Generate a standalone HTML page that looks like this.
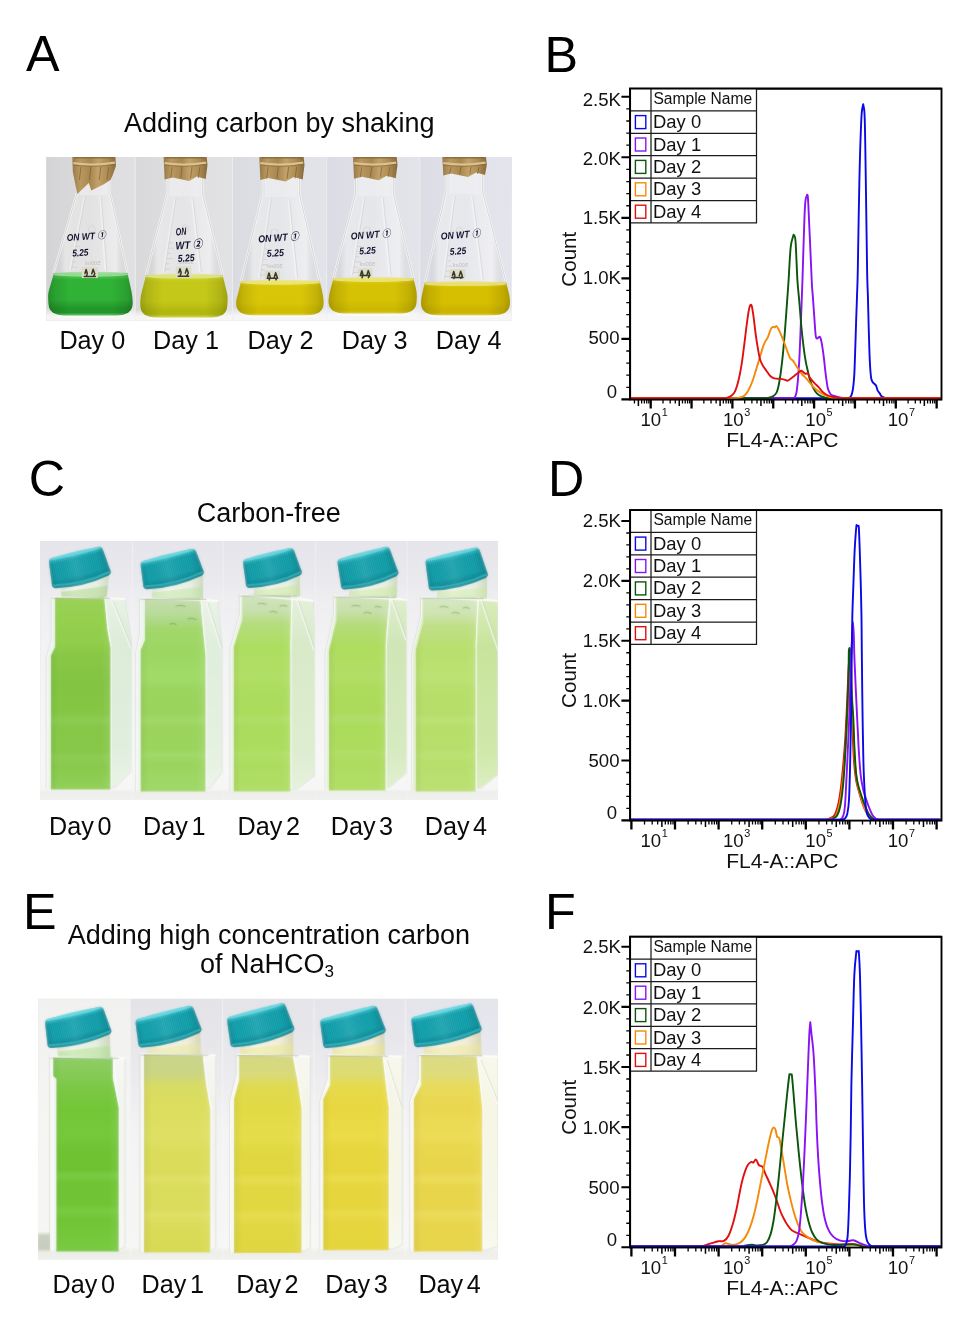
<!DOCTYPE html>
<html lang="en">
<head>
<meta charset="utf-8">
<title>Figure: carbon supply, culture colour and APC fluorescence histograms</title>
<style>
html,body{margin:0;padding:0;background:#fff;}
body{width:980px;height:1338px;overflow:hidden;font-family:"Liberation Sans", "Noto Sans CJK SC", sans-serif;}
svg{display:block;font-family:"Liberation Sans", "Noto Sans CJK SC", sans-serif;}
</style>
</head>
<body>
<svg width="980" height="1338" viewBox="0 0 980 1338">
<defs>
<filter id="nofxall" filterUnits="userSpaceOnUse" x="0" y="0" width="980" height="1338"><feOffset dx="0" dy="0"/></filter>
<filter id="nofx" x="-10%" y="-10%" width="120%" height="120%"><feOffset dx="0" dy="0"/></filter>
<filter id="soft" filterUnits="userSpaceOnUse" x="30" y="150" width="490" height="1120"><feGaussianBlur stdDeviation="0.8"/></filter>
<clipPath id="photoAclip"><rect x="46.2" y="157" width="465.6" height="163.7"/></clipPath>
<linearGradient id="photoAug" x1="0" y1="157" x2="0" y2="320.7" gradientUnits="userSpaceOnUse"><stop offset="0" stop-color="#dcdcdf"/><stop offset="1" stop-color="#f4f4f3"/></linearGradient>
<linearGradient id="a0bg" x1="46.2" y1="0" x2="135.3" y2="0" gradientUnits="userSpaceOnUse"><stop offset="0" stop-color="#d4d4d6"/><stop offset="0.55" stop-color="#dcdcde"/><stop offset="1" stop-color="#e0e0e2"/></linearGradient>
<linearGradient id="a0tb" x1="0" y1="307.5" x2="0" y2="320.7" gradientUnits="userSpaceOnUse"><stop offset="0" stop-color="#f8f8f7" stop-opacity="0"/><stop offset="0.6" stop-color="#f8f8f7" stop-opacity="0.9"/><stop offset="1" stop-color="#f6f6f5" stop-opacity="1"/></linearGradient>
<clipPath id="a0c"><path d="M77 157 L77 193 L48.9 290.5 C47.43 295.5 48.3 300.5 48.6 304.5 C49.1 311.5 54.3 315.5 65.3 315.5 L115.9 315.5 C126.9 315.5 132.1 311.5 132.6 304.5 C132.9 300.5 132.39 295.5 131.3 290.5 L110 193 L110 157 Z"/></clipPath>
<linearGradient id="a0gl" x1="48.3" y1="0" x2="132.9" y2="0" gradientUnits="userSpaceOnUse"><stop offset="0" stop-color="#ffffff" stop-opacity="0.1"/><stop offset="0.12" stop-color="#c8c8c8" stop-opacity="0.28"/><stop offset="0.2" stop-color="#f6f6f6" stop-opacity="0.45"/><stop offset="0.5" stop-color="#f2f2f2" stop-opacity="0.3"/><stop offset="0.8" stop-color="#fafafa" stop-opacity="0.5"/><stop offset="0.9" stop-color="#c8c8c8" stop-opacity="0.22"/><stop offset="1" stop-color="#ffffff" stop-opacity="0.15"/></linearGradient>
<linearGradient id="a0lq" x1="0" y1="273.1" x2="0" y2="315.5" gradientUnits="userSpaceOnUse"><stop offset="0" stop-color="#66cf62"/><stop offset="0.16" stop-color="#2fb236"/><stop offset="0.62" stop-color="#2fb236"/><stop offset="0.84" stop-color="#22962a"/><stop offset="0.93" stop-color="#22962a"/><stop offset="1" stop-color="#63c568"/></linearGradient>
<linearGradient id="a0sh" x1="48.3" y1="0" x2="132.9" y2="0" gradientUnits="userSpaceOnUse"><stop offset="0" stop-color="#000000" stop-opacity="0.2"/><stop offset="0.08" stop-color="#000000" stop-opacity="0.1"/><stop offset="0.25" stop-color="#000000" stop-opacity="0"/><stop offset="0.75" stop-color="#000000" stop-opacity="0"/><stop offset="0.92" stop-color="#000000" stop-opacity="0.1"/><stop offset="1" stop-color="#000000" stop-opacity="0.2"/></linearGradient>
<linearGradient id="a0pp" x1="72.3" y1="0" x2="115.4" y2="0" gradientUnits="userSpaceOnUse"><stop offset="0" stop-color="#987a48"/><stop offset="0.18" stop-color="#ba9860"/><stop offset="0.42" stop-color="#a88850"/><stop offset="0.6" stop-color="#c2a26a"/><stop offset="0.82" stop-color="#ae8c54"/><stop offset="1" stop-color="#8a6c3e"/></linearGradient>
<linearGradient id="a1bg" x1="135.3" y1="0" x2="232.5" y2="0" gradientUnits="userSpaceOnUse"><stop offset="0" stop-color="#d9d9db"/><stop offset="0.55" stop-color="#dfdfe2"/><stop offset="1" stop-color="#e2e2e5"/></linearGradient>
<linearGradient id="a1tb" x1="0" y1="309.4" x2="0" y2="320.7" gradientUnits="userSpaceOnUse"><stop offset="0" stop-color="#f8f8f7" stop-opacity="0"/><stop offset="0.6" stop-color="#f8f8f7" stop-opacity="0.9"/><stop offset="1" stop-color="#f6f6f5" stop-opacity="1"/></linearGradient>
<clipPath id="a1c"><path d="M167 157 L167 194.4 L141.59 292.4 C140.29 297.4 140.1 302.4 140.4 306.4 C140.9 313.4 146.1 317.4 157.1 317.4 L210.5 317.4 C221.5 317.4 226.7 313.4 227.2 306.4 C227.5 302.4 228.15 297.4 226.9 292.4 L202.6 194.4 L202.6 157 Z"/></clipPath>
<linearGradient id="a1gl" x1="140.1" y1="0" x2="227.5" y2="0" gradientUnits="userSpaceOnUse"><stop offset="0" stop-color="#ffffff" stop-opacity="0.1"/><stop offset="0.12" stop-color="#c8c8c8" stop-opacity="0.28"/><stop offset="0.2" stop-color="#f6f6f6" stop-opacity="0.45"/><stop offset="0.5" stop-color="#f2f2f2" stop-opacity="0.3"/><stop offset="0.8" stop-color="#fafafa" stop-opacity="0.5"/><stop offset="0.9" stop-color="#c8c8c8" stop-opacity="0.22"/><stop offset="1" stop-color="#ffffff" stop-opacity="0.15"/></linearGradient>
<linearGradient id="a1lq" x1="0" y1="275" x2="0" y2="317.4" gradientUnits="userSpaceOnUse"><stop offset="0" stop-color="#d4d840"/><stop offset="0.16" stop-color="#c4c818"/><stop offset="0.62" stop-color="#c4c818"/><stop offset="0.84" stop-color="#b2b80e"/><stop offset="0.93" stop-color="#b2b80e"/><stop offset="1" stop-color="#d3d652"/></linearGradient>
<linearGradient id="a1sh" x1="140.1" y1="0" x2="227.5" y2="0" gradientUnits="userSpaceOnUse"><stop offset="0" stop-color="#000000" stop-opacity="0.2"/><stop offset="0.08" stop-color="#000000" stop-opacity="0.1"/><stop offset="0.25" stop-color="#000000" stop-opacity="0"/><stop offset="0.75" stop-color="#000000" stop-opacity="0"/><stop offset="0.92" stop-color="#000000" stop-opacity="0.1"/><stop offset="1" stop-color="#000000" stop-opacity="0.2"/></linearGradient>
<linearGradient id="a1pp" x1="163.6" y1="0" x2="206.7" y2="0" gradientUnits="userSpaceOnUse"><stop offset="0" stop-color="#987a48"/><stop offset="0.18" stop-color="#ba9860"/><stop offset="0.42" stop-color="#a88850"/><stop offset="0.6" stop-color="#c2a26a"/><stop offset="0.82" stop-color="#ae8c54"/><stop offset="1" stop-color="#8a6c3e"/></linearGradient>
<linearGradient id="a2bg" x1="232.5" y1="0" x2="326.7" y2="0" gradientUnits="userSpaceOnUse"><stop offset="0" stop-color="#dadbe0"/><stop offset="0.55" stop-color="#e0e1e6"/><stop offset="1" stop-color="#e3e4e9"/></linearGradient>
<linearGradient id="a2tb" x1="0" y1="307.2" x2="0" y2="320.7" gradientUnits="userSpaceOnUse"><stop offset="0" stop-color="#f8f8f7" stop-opacity="0"/><stop offset="0.6" stop-color="#f8f8f7" stop-opacity="0.9"/><stop offset="1" stop-color="#f6f6f5" stop-opacity="1"/></linearGradient>
<clipPath id="a2c"><path d="M262 157 L262 195 L238.89 290.2 C237.68 295.2 235.8 300.2 236.1 304.2 C236.6 311.2 241.8 315.2 252.8 315.2 L306.8 315.2 C317.8 315.2 323 311.2 323.5 304.2 C323.8 300.2 323.11 295.2 321.93 290.2 L299.6 195 L299.6 157 Z"/></clipPath>
<linearGradient id="a2gl" x1="235.8" y1="0" x2="323.8" y2="0" gradientUnits="userSpaceOnUse"><stop offset="0" stop-color="#ffffff" stop-opacity="0.1"/><stop offset="0.12" stop-color="#c8c8c8" stop-opacity="0.28"/><stop offset="0.2" stop-color="#f6f6f6" stop-opacity="0.45"/><stop offset="0.5" stop-color="#f2f2f2" stop-opacity="0.3"/><stop offset="0.8" stop-color="#fafafa" stop-opacity="0.5"/><stop offset="0.9" stop-color="#c8c8c8" stop-opacity="0.22"/><stop offset="1" stop-color="#ffffff" stop-opacity="0.15"/></linearGradient>
<linearGradient id="a2lq" x1="0" y1="281.1" x2="0" y2="315.2" gradientUnits="userSpaceOnUse"><stop offset="0" stop-color="#e6da34"/><stop offset="0.16" stop-color="#d9c608"/><stop offset="0.62" stop-color="#d9c608"/><stop offset="0.84" stop-color="#d0bc00"/><stop offset="0.93" stop-color="#d0bc00"/><stop offset="1" stop-color="#e2d446"/></linearGradient>
<linearGradient id="a2sh" x1="235.8" y1="0" x2="323.8" y2="0" gradientUnits="userSpaceOnUse"><stop offset="0" stop-color="#000000" stop-opacity="0.2"/><stop offset="0.08" stop-color="#000000" stop-opacity="0.1"/><stop offset="0.25" stop-color="#000000" stop-opacity="0"/><stop offset="0.75" stop-color="#000000" stop-opacity="0"/><stop offset="0.92" stop-color="#000000" stop-opacity="0.1"/><stop offset="1" stop-color="#000000" stop-opacity="0.2"/></linearGradient>
<linearGradient id="a2pp" x1="259.3" y1="0" x2="303.7" y2="0" gradientUnits="userSpaceOnUse"><stop offset="0" stop-color="#987a48"/><stop offset="0.18" stop-color="#ba9860"/><stop offset="0.42" stop-color="#a88850"/><stop offset="0.6" stop-color="#c2a26a"/><stop offset="0.82" stop-color="#ae8c54"/><stop offset="1" stop-color="#8a6c3e"/></linearGradient>
<linearGradient id="a3bg" x1="326.7" y1="0" x2="419.8" y2="0" gradientUnits="userSpaceOnUse"><stop offset="0" stop-color="#dbdce3"/><stop offset="0.55" stop-color="#e1e2e8"/><stop offset="1" stop-color="#e3e4ea"/></linearGradient>
<linearGradient id="a3tb" x1="0" y1="305.6" x2="0" y2="320.7" gradientUnits="userSpaceOnUse"><stop offset="0" stop-color="#f8f8f7" stop-opacity="0"/><stop offset="0.6" stop-color="#f8f8f7" stop-opacity="0.9"/><stop offset="1" stop-color="#f6f6f5" stop-opacity="1"/></linearGradient>
<clipPath id="a3c"><path d="M355.6 157 L355.6 194 L330.72 288.6 C329.4 293.6 328.3 298.6 328.6 302.6 C329.1 309.6 334.3 313.6 345.3 313.6 L399.8 313.6 C410.8 313.6 416 309.6 416.5 302.6 C416.8 298.6 417.14 293.6 415.94 288.6 L393.3 194 L393.3 157 Z"/></clipPath>
<linearGradient id="a3gl" x1="328.3" y1="0" x2="416.8" y2="0" gradientUnits="userSpaceOnUse"><stop offset="0" stop-color="#ffffff" stop-opacity="0.1"/><stop offset="0.12" stop-color="#c8c8c8" stop-opacity="0.28"/><stop offset="0.2" stop-color="#f6f6f6" stop-opacity="0.45"/><stop offset="0.5" stop-color="#f2f2f2" stop-opacity="0.3"/><stop offset="0.8" stop-color="#fafafa" stop-opacity="0.5"/><stop offset="0.9" stop-color="#c8c8c8" stop-opacity="0.22"/><stop offset="1" stop-color="#ffffff" stop-opacity="0.15"/></linearGradient>
<linearGradient id="a3lq" x1="0" y1="278.4" x2="0" y2="313.6" gradientUnits="userSpaceOnUse"><stop offset="0" stop-color="#e4d830"/><stop offset="0.16" stop-color="#d6c204"/><stop offset="0.62" stop-color="#d6c204"/><stop offset="0.84" stop-color="#ccb800"/><stop offset="0.93" stop-color="#ccb800"/><stop offset="1" stop-color="#e0d143"/></linearGradient>
<linearGradient id="a3sh" x1="328.3" y1="0" x2="416.8" y2="0" gradientUnits="userSpaceOnUse"><stop offset="0" stop-color="#000000" stop-opacity="0.2"/><stop offset="0.08" stop-color="#000000" stop-opacity="0.1"/><stop offset="0.25" stop-color="#000000" stop-opacity="0"/><stop offset="0.75" stop-color="#000000" stop-opacity="0"/><stop offset="0.92" stop-color="#000000" stop-opacity="0.1"/><stop offset="1" stop-color="#000000" stop-opacity="0.2"/></linearGradient>
<linearGradient id="a3pp" x1="353" y1="0" x2="396.7" y2="0" gradientUnits="userSpaceOnUse"><stop offset="0" stop-color="#987a48"/><stop offset="0.18" stop-color="#ba9860"/><stop offset="0.42" stop-color="#a88850"/><stop offset="0.6" stop-color="#c2a26a"/><stop offset="0.82" stop-color="#ae8c54"/><stop offset="1" stop-color="#8a6c3e"/></linearGradient>
<linearGradient id="a4bg" x1="419.8" y1="0" x2="511.8" y2="0" gradientUnits="userSpaceOnUse"><stop offset="0" stop-color="#dcdde4"/><stop offset="0.55" stop-color="#e2e3ea"/><stop offset="1" stop-color="#e4e5ec"/></linearGradient>
<linearGradient id="a4tb" x1="0" y1="307.2" x2="0" y2="320.7" gradientUnits="userSpaceOnUse"><stop offset="0" stop-color="#f8f8f7" stop-opacity="0"/><stop offset="0.6" stop-color="#f8f8f7" stop-opacity="0.9"/><stop offset="1" stop-color="#f6f6f5" stop-opacity="1"/></linearGradient>
<clipPath id="a4c"><path d="M446 157 L446 192 L423 290.2 C421.82 295.2 420.8 300.2 421.1 304.2 C421.6 311.2 426.8 315.2 437.8 315.2 L493.2 315.2 C504.2 315.2 509.4 311.2 509.9 304.2 C510.2 300.2 509.51 295.2 508.21 290.2 L482.6 192 L482.6 157 Z"/></clipPath>
<linearGradient id="a4gl" x1="420.8" y1="0" x2="510.2" y2="0" gradientUnits="userSpaceOnUse"><stop offset="0" stop-color="#ffffff" stop-opacity="0.1"/><stop offset="0.12" stop-color="#c8c8c8" stop-opacity="0.28"/><stop offset="0.2" stop-color="#f6f6f6" stop-opacity="0.45"/><stop offset="0.5" stop-color="#f2f2f2" stop-opacity="0.3"/><stop offset="0.8" stop-color="#fafafa" stop-opacity="0.5"/><stop offset="0.9" stop-color="#c8c8c8" stop-opacity="0.22"/><stop offset="1" stop-color="#ffffff" stop-opacity="0.15"/></linearGradient>
<linearGradient id="a4lq" x1="0" y1="282.5" x2="0" y2="315.2" gradientUnits="userSpaceOnUse"><stop offset="0" stop-color="#e2d42a"/><stop offset="0.16" stop-color="#d6be00"/><stop offset="0.62" stop-color="#d6be00"/><stop offset="0.84" stop-color="#ccb400"/><stop offset="0.93" stop-color="#ccb400"/><stop offset="1" stop-color="#e0ce40"/></linearGradient>
<linearGradient id="a4sh" x1="420.8" y1="0" x2="510.2" y2="0" gradientUnits="userSpaceOnUse"><stop offset="0" stop-color="#000000" stop-opacity="0.2"/><stop offset="0.08" stop-color="#000000" stop-opacity="0.1"/><stop offset="0.25" stop-color="#000000" stop-opacity="0"/><stop offset="0.75" stop-color="#000000" stop-opacity="0"/><stop offset="0.92" stop-color="#000000" stop-opacity="0.1"/><stop offset="1" stop-color="#000000" stop-opacity="0.2"/></linearGradient>
<linearGradient id="a4pp" x1="442.3" y1="0" x2="486" y2="0" gradientUnits="userSpaceOnUse"><stop offset="0" stop-color="#987a48"/><stop offset="0.18" stop-color="#ba9860"/><stop offset="0.42" stop-color="#a88850"/><stop offset="0.6" stop-color="#c2a26a"/><stop offset="0.82" stop-color="#ae8c54"/><stop offset="1" stop-color="#8a6c3e"/></linearGradient>
<clipPath id="photoCclip"><rect x="40.5" y="541" width="457.5" height="258.6"/></clipPath>
<linearGradient id="photoCug" x1="0" y1="541" x2="0" y2="799.6" gradientUnits="userSpaceOnUse"><stop offset="0" stop-color="#e5e5eb"/><stop offset="1" stop-color="#f0f1ee"/></linearGradient>
<linearGradient id="c0bg" x1="0" y1="541" x2="0" y2="799.6" gradientUnits="userSpaceOnUse"><stop offset="0" stop-color="#e5e5eb"/><stop offset="0.12" stop-color="#e8e8ed"/><stop offset="0.24" stop-color="#efeff2"/><stop offset="0.45" stop-color="#f4f4f6"/><stop offset="0.9" stop-color="#f8f8f8"/><stop offset="0.96" stop-color="#f6f6f5"/><stop offset="0.97" stop-color="#eeefec"/><stop offset="1" stop-color="#f0f1ee"/></linearGradient>
<clipPath id="c0p"><rect x="40.5" y="541" width="92" height="258.6"/></clipPath>
<linearGradient id="c0rg" x1="0" y1="597" x2="0" y2="789.5" gradientUnits="userSpaceOnUse"><stop offset="0" stop-color="#e8f3e6"/><stop offset="0.25" stop-color="#dcecd8"/><stop offset="0.8" stop-color="#e1efde"/><stop offset="1" stop-color="#eaf4e8"/></linearGradient>
<linearGradient id="c0nk" x1="59.65" y1="0" x2="109.65" y2="0" gradientUnits="userSpaceOnUse"><stop offset="0" stop-color="#dce8d6"/><stop offset="0.3" stop-color="#f2f6ee"/><stop offset="0.75" stop-color="#e8f0e2"/><stop offset="1" stop-color="#ccdac4"/></linearGradient>
<linearGradient id="c0lq" x1="0" y1="597" x2="0" y2="789.5" gradientUnits="userSpaceOnUse"><stop offset="0" stop-color="#9bd159"/><stop offset="0.1" stop-color="#96d04f"/><stop offset="0.24" stop-color="#90ce4c"/><stop offset="0.3" stop-color="#89c846"/><stop offset="0.45" stop-color="#83c442"/><stop offset="0.6" stop-color="#85c644"/><stop offset="0.64" stop-color="#8dcc53"/><stop offset="0.68" stop-color="#87c748"/><stop offset="0.8" stop-color="#88c849"/><stop offset="0.83" stop-color="#8ecc54"/><stop offset="0.88" stop-color="#89c94b"/><stop offset="1" stop-color="#92d05a"/></linearGradient>
<linearGradient id="c0sh" x1="50.9" y1="0" x2="110.5" y2="0" gradientUnits="userSpaceOnUse"><stop offset="0" stop-color="#000000" stop-opacity="0.05"/><stop offset="0.12" stop-color="#000000" stop-opacity="0"/><stop offset="0.85" stop-color="#ffffff" stop-opacity="0"/><stop offset="1" stop-color="#ffffff" stop-opacity="0.08"/></linearGradient>
<linearGradient id="c0cp" x1="0" y1="-13.38" x2="0" y2="13.38" gradientUnits="userSpaceOnUse"><stop offset="0" stop-color="#48ccd6"/><stop offset="0.18" stop-color="#18a8b3"/><stop offset="0.78" stop-color="#18a8b3"/><stop offset="1" stop-color="#0e8e99"/></linearGradient>
<linearGradient id="c0ch" x1="-28.08" y1="0" x2="28.08" y2="0" gradientUnits="userSpaceOnUse"><stop offset="0" stop-color="#0a5a64" stop-opacity="0.22"/><stop offset="0.1" stop-color="#0a5a64" stop-opacity="0.03"/><stop offset="0.45" stop-color="#ffffff" stop-opacity="0.08"/><stop offset="0.85" stop-color="#0a5a64" stop-opacity="0.03"/><stop offset="1" stop-color="#0a5a64" stop-opacity="0.26"/></linearGradient>
<clipPath id="c0cc"><path d="M-27.66 -11.81 Q-27.16 -14.81 -23.66 -15.11 L23.66 -15.11 Q27.16 -14.81 27.66 -11.81 L30.14 10.81 Q30.74 14.21 27.14 15.41 Q0 21.21 -27.14 15.41 Q-30.74 14.21 -30.14 10.81 Z"/></clipPath>
<linearGradient id="c1bg" x1="0" y1="541" x2="0" y2="799.6" gradientUnits="userSpaceOnUse"><stop offset="0" stop-color="#e5e5eb"/><stop offset="0.12" stop-color="#e8e8ed"/><stop offset="0.24" stop-color="#efeff2"/><stop offset="0.45" stop-color="#f4f4f6"/><stop offset="0.9" stop-color="#f8f8f8"/><stop offset="0.96" stop-color="#f6f6f5"/><stop offset="0.97" stop-color="#eeefec"/><stop offset="1" stop-color="#f0f1ee"/></linearGradient>
<clipPath id="c1p"><rect x="132.5" y="541" width="90.7" height="258.6"/></clipPath>
<linearGradient id="c1rg" x1="0" y1="598" x2="0" y2="791.4" gradientUnits="userSpaceOnUse"><stop offset="0" stop-color="#ebf4e8"/><stop offset="0.25" stop-color="#e0eedc"/><stop offset="0.8" stop-color="#e5f1e1"/><stop offset="1" stop-color="#ecf5ea"/></linearGradient>
<linearGradient id="c1nk" x1="151.71" y1="0" x2="203.13" y2="0" gradientUnits="userSpaceOnUse"><stop offset="0" stop-color="#dce8d6"/><stop offset="0.3" stop-color="#f2f6ee"/><stop offset="0.75" stop-color="#e8f0e2"/><stop offset="1" stop-color="#ccdac4"/></linearGradient>
<linearGradient id="c1lq" x1="0" y1="598" x2="0" y2="791.4" gradientUnits="userSpaceOnUse"><stop offset="0" stop-color="#c6deb0"/><stop offset="0.08" stop-color="#b9db9b"/><stop offset="0.16" stop-color="#a3d76d"/><stop offset="0.27" stop-color="#9dd762"/><stop offset="0.42" stop-color="#a1db69"/><stop offset="0.48" stop-color="#9bd55e"/><stop offset="0.6" stop-color="#9ad45c"/><stop offset="0.63" stop-color="#a3d96a"/><stop offset="0.67" stop-color="#9bd45d"/><stop offset="0.78" stop-color="#9bd55e"/><stop offset="0.81" stop-color="#a2d96a"/><stop offset="0.86" stop-color="#9bd55f"/><stop offset="1" stop-color="#a1d969"/></linearGradient>
<linearGradient id="c1sh" x1="140.7" y1="0" x2="205.5" y2="0" gradientUnits="userSpaceOnUse"><stop offset="0" stop-color="#000000" stop-opacity="0.05"/><stop offset="0.12" stop-color="#000000" stop-opacity="0"/><stop offset="0.85" stop-color="#ffffff" stop-opacity="0"/><stop offset="1" stop-color="#ffffff" stop-opacity="0.08"/></linearGradient>
<linearGradient id="c1cp" x1="0" y1="-12.47" x2="0" y2="12.47" gradientUnits="userSpaceOnUse"><stop offset="0" stop-color="#48ccd6"/><stop offset="0.18" stop-color="#18a8b3"/><stop offset="0.78" stop-color="#18a8b3"/><stop offset="1" stop-color="#0e8e99"/></linearGradient>
<linearGradient id="c1ch" x1="-29" y1="0" x2="29" y2="0" gradientUnits="userSpaceOnUse"><stop offset="0" stop-color="#0a5a64" stop-opacity="0.22"/><stop offset="0.1" stop-color="#0a5a64" stop-opacity="0.03"/><stop offset="0.45" stop-color="#ffffff" stop-opacity="0.08"/><stop offset="0.85" stop-color="#0a5a64" stop-opacity="0.03"/><stop offset="1" stop-color="#0a5a64" stop-opacity="0.26"/></linearGradient>
<clipPath id="c1cc"><path d="M-28.56 -10.87 Q-28.06 -13.87 -24.56 -14.17 L24.56 -14.17 Q28.06 -13.87 28.56 -10.87 L31.1 9.87 Q31.7 13.27 28.1 14.47 Q0 20.27 -28.1 14.47 Q-31.7 13.27 -31.1 9.87 Z"/></clipPath>
<linearGradient id="c2bg" x1="0" y1="541" x2="0" y2="799.6" gradientUnits="userSpaceOnUse"><stop offset="0" stop-color="#e5e5eb"/><stop offset="0.12" stop-color="#e8e8ed"/><stop offset="0.24" stop-color="#efeff2"/><stop offset="0.45" stop-color="#f4f4f6"/><stop offset="0.9" stop-color="#f8f8f8"/><stop offset="0.96" stop-color="#f6f6f5"/><stop offset="0.97" stop-color="#eeefec"/><stop offset="1" stop-color="#f0f1ee"/></linearGradient>
<clipPath id="c2p"><rect x="223.2" y="541" width="92.2" height="258.6"/></clipPath>
<linearGradient id="c2rg" x1="0" y1="594.8" x2="0" y2="791.4" gradientUnits="userSpaceOnUse"><stop offset="0" stop-color="#e6f1db"/><stop offset="0.25" stop-color="#d8eac8"/><stop offset="0.8" stop-color="#deedd0"/><stop offset="1" stop-color="#e8f2de"/></linearGradient>
<linearGradient id="c2nk" x1="253.72" y1="0" x2="299.92" y2="0" gradientUnits="userSpaceOnUse"><stop offset="0" stop-color="#dce8d6"/><stop offset="0.3" stop-color="#f2f6ee"/><stop offset="0.75" stop-color="#e8f0e2"/><stop offset="1" stop-color="#ccdac4"/></linearGradient>
<linearGradient id="c2lq" x1="0" y1="594.8" x2="0" y2="791.4" gradientUnits="userSpaceOnUse"><stop offset="0" stop-color="#d2e4bf"/><stop offset="0.08" stop-color="#c8e0ae"/><stop offset="0.15" stop-color="#b4dd7c"/><stop offset="0.27" stop-color="#adde60"/><stop offset="0.42" stop-color="#b1df67"/><stop offset="0.48" stop-color="#acdd5e"/><stop offset="0.6" stop-color="#abdc5c"/><stop offset="0.63" stop-color="#b2df68"/><stop offset="0.67" stop-color="#abdc5d"/><stop offset="0.78" stop-color="#acdd5e"/><stop offset="0.81" stop-color="#b2df6a"/><stop offset="0.86" stop-color="#acdd5f"/><stop offset="1" stop-color="#b1de67"/></linearGradient>
<linearGradient id="c2sh" x1="233.8" y1="0" x2="290.3" y2="0" gradientUnits="userSpaceOnUse"><stop offset="0" stop-color="#000000" stop-opacity="0.05"/><stop offset="0.12" stop-color="#000000" stop-opacity="0"/><stop offset="0.85" stop-color="#ffffff" stop-opacity="0"/><stop offset="1" stop-color="#ffffff" stop-opacity="0.08"/></linearGradient>
<linearGradient id="c2cp" x1="0" y1="-12.76" x2="0" y2="12.76" gradientUnits="userSpaceOnUse"><stop offset="0" stop-color="#48ccd6"/><stop offset="0.18" stop-color="#18a8b3"/><stop offset="0.78" stop-color="#18a8b3"/><stop offset="1" stop-color="#0e8e99"/></linearGradient>
<linearGradient id="c2ch" x1="-26.67" y1="0" x2="26.67" y2="0" gradientUnits="userSpaceOnUse"><stop offset="0" stop-color="#0a5a64" stop-opacity="0.22"/><stop offset="0.1" stop-color="#0a5a64" stop-opacity="0.03"/><stop offset="0.45" stop-color="#ffffff" stop-opacity="0.08"/><stop offset="0.85" stop-color="#0a5a64" stop-opacity="0.03"/><stop offset="1" stop-color="#0a5a64" stop-opacity="0.26"/></linearGradient>
<clipPath id="c2cc"><path d="M-26.27 -11.18 Q-25.77 -14.18 -22.27 -14.48 L22.27 -14.48 Q25.77 -14.18 26.27 -11.18 L28.67 10.18 Q29.27 13.58 25.67 14.78 Q0 20.58 -25.67 14.78 Q-29.27 13.58 -28.67 10.18 Z"/></clipPath>
<linearGradient id="c3bg" x1="0" y1="541" x2="0" y2="799.6" gradientUnits="userSpaceOnUse"><stop offset="0" stop-color="#e5e5eb"/><stop offset="0.12" stop-color="#e8e8ed"/><stop offset="0.24" stop-color="#efeff2"/><stop offset="0.45" stop-color="#f4f4f6"/><stop offset="0.9" stop-color="#f8f8f8"/><stop offset="0.96" stop-color="#f6f6f5"/><stop offset="0.97" stop-color="#eeefec"/><stop offset="1" stop-color="#f0f1ee"/></linearGradient>
<clipPath id="c3p"><rect x="315.4" y="541" width="91.9" height="258.6"/></clipPath>
<linearGradient id="c3rg" x1="0" y1="595.9" x2="0" y2="790.4" gradientUnits="userSpaceOnUse"><stop offset="0" stop-color="#e0efd0"/><stop offset="0.25" stop-color="#d0e6b6"/><stop offset="0.8" stop-color="#d7eac1"/><stop offset="1" stop-color="#e3f0d3"/></linearGradient>
<linearGradient id="c3nk" x1="349.13" y1="0" x2="397.19" y2="0" gradientUnits="userSpaceOnUse"><stop offset="0" stop-color="#dce8d6"/><stop offset="0.3" stop-color="#f2f6ee"/><stop offset="0.75" stop-color="#e8f0e2"/><stop offset="1" stop-color="#ccdac4"/></linearGradient>
<linearGradient id="c3lq" x1="0" y1="595.9" x2="0" y2="790.4" gradientUnits="userSpaceOnUse"><stop offset="0" stop-color="#d2e4bd"/><stop offset="0.08" stop-color="#c8dfaa"/><stop offset="0.15" stop-color="#b4dc7a"/><stop offset="0.27" stop-color="#aedd5e"/><stop offset="0.42" stop-color="#b2de66"/><stop offset="0.48" stop-color="#addc5c"/><stop offset="0.6" stop-color="#acdb5b"/><stop offset="0.63" stop-color="#b2de69"/><stop offset="0.67" stop-color="#acdc5c"/><stop offset="0.78" stop-color="#addc5d"/><stop offset="0.81" stop-color="#b2de68"/><stop offset="0.86" stop-color="#addc5e"/><stop offset="1" stop-color="#b2de67"/></linearGradient>
<linearGradient id="c3sh" x1="329" y1="0" x2="385.5" y2="0" gradientUnits="userSpaceOnUse"><stop offset="0" stop-color="#000000" stop-opacity="0.05"/><stop offset="0.12" stop-color="#000000" stop-opacity="0"/><stop offset="0.85" stop-color="#ffffff" stop-opacity="0"/><stop offset="1" stop-color="#ffffff" stop-opacity="0.08"/></linearGradient>
<linearGradient id="c3cp" x1="0" y1="-13.71" x2="0" y2="13.71" gradientUnits="userSpaceOnUse"><stop offset="0" stop-color="#48ccd6"/><stop offset="0.18" stop-color="#18a8b3"/><stop offset="0.78" stop-color="#18a8b3"/><stop offset="1" stop-color="#0e8e99"/></linearGradient>
<linearGradient id="c3ch" x1="-27.48" y1="0" x2="27.48" y2="0" gradientUnits="userSpaceOnUse"><stop offset="0" stop-color="#0a5a64" stop-opacity="0.22"/><stop offset="0.1" stop-color="#0a5a64" stop-opacity="0.03"/><stop offset="0.45" stop-color="#ffffff" stop-opacity="0.08"/><stop offset="0.85" stop-color="#0a5a64" stop-opacity="0.03"/><stop offset="1" stop-color="#0a5a64" stop-opacity="0.26"/></linearGradient>
<clipPath id="c3cc"><path d="M-27.07 -12.16 Q-26.57 -15.16 -23.07 -15.46 L23.07 -15.46 Q26.57 -15.16 27.07 -12.16 L29.52 11.16 Q30.12 14.56 26.52 15.76 Q0 21.56 -26.52 15.76 Q-30.12 14.56 -29.52 11.16 Z"/></clipPath>
<linearGradient id="c4bg" x1="0" y1="541" x2="0" y2="799.6" gradientUnits="userSpaceOnUse"><stop offset="0" stop-color="#e5e5eb"/><stop offset="0.12" stop-color="#e8e8ed"/><stop offset="0.24" stop-color="#efeff2"/><stop offset="0.45" stop-color="#f4f4f6"/><stop offset="0.9" stop-color="#f8f8f8"/><stop offset="0.96" stop-color="#f6f6f5"/><stop offset="0.97" stop-color="#eeefec"/><stop offset="1" stop-color="#f0f1ee"/></linearGradient>
<clipPath id="c4p"><rect x="407.3" y="541" width="90.7" height="258.6"/></clipPath>
<linearGradient id="c4rg" x1="0" y1="597" x2="0" y2="791.4" gradientUnits="userSpaceOnUse"><stop offset="0" stop-color="#dbedbf"/><stop offset="0.25" stop-color="#c8e49c"/><stop offset="0.8" stop-color="#d0e8ab"/><stop offset="1" stop-color="#deefc4"/></linearGradient>
<linearGradient id="c4nk" x1="437.24" y1="0" x2="487.15" y2="0" gradientUnits="userSpaceOnUse"><stop offset="0" stop-color="#dce8d6"/><stop offset="0.3" stop-color="#f2f6ee"/><stop offset="0.75" stop-color="#e8f0e2"/><stop offset="1" stop-color="#ccdac4"/></linearGradient>
<linearGradient id="c4lq" x1="0" y1="597" x2="0" y2="791.4" gradientUnits="userSpaceOnUse"><stop offset="0" stop-color="#d7e8c4"/><stop offset="0.08" stop-color="#cfe4b4"/><stop offset="0.15" stop-color="#bfdf87"/><stop offset="0.27" stop-color="#b8e06d"/><stop offset="0.42" stop-color="#bce274"/><stop offset="0.48" stop-color="#b7df6b"/><stop offset="0.6" stop-color="#b6de6a"/><stop offset="0.63" stop-color="#bce275"/><stop offset="0.67" stop-color="#b6df6b"/><stop offset="0.78" stop-color="#b7df6c"/><stop offset="0.81" stop-color="#bce174"/><stop offset="0.86" stop-color="#b7df6c"/><stop offset="1" stop-color="#bbe174"/></linearGradient>
<linearGradient id="c4sh" x1="415.9" y1="0" x2="475.5" y2="0" gradientUnits="userSpaceOnUse"><stop offset="0" stop-color="#000000" stop-opacity="0.05"/><stop offset="0.12" stop-color="#000000" stop-opacity="0"/><stop offset="0.85" stop-color="#ffffff" stop-opacity="0"/><stop offset="1" stop-color="#ffffff" stop-opacity="0.08"/></linearGradient>
<linearGradient id="c4cp" x1="0" y1="-14.09" x2="0" y2="14.09" gradientUnits="userSpaceOnUse"><stop offset="0" stop-color="#48ccd6"/><stop offset="0.18" stop-color="#18a8b3"/><stop offset="0.78" stop-color="#18a8b3"/><stop offset="1" stop-color="#0e8e99"/></linearGradient>
<linearGradient id="c4ch" x1="-28.2" y1="0" x2="28.2" y2="0" gradientUnits="userSpaceOnUse"><stop offset="0" stop-color="#0a5a64" stop-opacity="0.22"/><stop offset="0.1" stop-color="#0a5a64" stop-opacity="0.03"/><stop offset="0.45" stop-color="#ffffff" stop-opacity="0.08"/><stop offset="0.85" stop-color="#0a5a64" stop-opacity="0.03"/><stop offset="1" stop-color="#0a5a64" stop-opacity="0.26"/></linearGradient>
<clipPath id="c4cc"><path d="M-27.77 -12.56 Q-27.27 -15.56 -23.77 -15.86 L23.77 -15.86 Q27.27 -15.56 27.77 -12.56 L30.27 11.56 Q30.87 14.96 27.27 16.16 Q0 21.96 -27.27 16.16 Q-30.87 14.96 -30.27 11.56 Z"/></clipPath>
<clipPath id="photoEclip"><rect x="38" y="998.8" width="460" height="260.9"/></clipPath>
<linearGradient id="photoEug" x1="0" y1="998.8" x2="0" y2="1259.7" gradientUnits="userSpaceOnUse"><stop offset="0" stop-color="#e8e8ec"/><stop offset="1" stop-color="#f0f0ed"/></linearGradient>
<linearGradient id="e0bg" x1="0" y1="998.8" x2="0" y2="1259.7" gradientUnits="userSpaceOnUse"><stop offset="0" stop-color="#f1f1ef"/><stop offset="0.5" stop-color="#f5f5f3"/><stop offset="0.95" stop-color="#f6f6f4"/><stop offset="0.97" stop-color="#eceee8"/><stop offset="1" stop-color="#eff0ec"/></linearGradient>
<linearGradient id="e0pt" x1="0" y1="1231.5" x2="0" y2="1251.5" gradientUnits="userSpaceOnUse"><stop offset="0" stop-color="#c6cdbe" stop-opacity="0"/><stop offset="0.2" stop-color="#c6cdbe" stop-opacity="0.9"/><stop offset="0.85" stop-color="#c6cdbe" stop-opacity="1"/><stop offset="1" stop-color="#c6cdbe" stop-opacity="0.3"/></linearGradient>
<clipPath id="e0p"><rect x="38" y="998.8" width="92" height="260.9"/></clipPath>
<linearGradient id="e0rg" x1="0" y1="1056.9" x2="0" y2="1251.4" gradientUnits="userSpaceOnUse"><stop offset="0" stop-color="#f7f8f4"/><stop offset="0.25" stop-color="#f2f4ee"/><stop offset="0.8" stop-color="#f4f6f1"/><stop offset="1" stop-color="#f7f8f5"/></linearGradient>
<linearGradient id="e0nk" x1="56.16" y1="0" x2="109.79" y2="0" gradientUnits="userSpaceOnUse"><stop offset="0" stop-color="#dce6d4"/><stop offset="0.3" stop-color="#f0f4ea"/><stop offset="0.75" stop-color="#e6eede"/><stop offset="1" stop-color="#ccd8c2"/></linearGradient>
<linearGradient id="e0lq" x1="0" y1="1056.9" x2="0" y2="1251.4" gradientUnits="userSpaceOnUse"><stop offset="0" stop-color="#90ce68"/><stop offset="0.07" stop-color="#88cc5a"/><stop offset="0.16" stop-color="#7cc846"/><stop offset="0.27" stop-color="#74c638"/><stop offset="0.4" stop-color="#76c93c"/><stop offset="0.47" stop-color="#70c434"/><stop offset="0.58" stop-color="#6fc333"/><stop offset="0.61" stop-color="#7bcb43"/><stop offset="0.65" stop-color="#70c434"/><stop offset="0.76" stop-color="#71c535"/><stop offset="0.79" stop-color="#7aca42"/><stop offset="0.84" stop-color="#71c536"/><stop offset="1" stop-color="#7aca42"/></linearGradient>
<linearGradient id="e0sh" x1="53.2" y1="0" x2="118.7" y2="0" gradientUnits="userSpaceOnUse"><stop offset="0" stop-color="#000000" stop-opacity="0.05"/><stop offset="0.12" stop-color="#000000" stop-opacity="0"/><stop offset="0.85" stop-color="#ffffff" stop-opacity="0"/><stop offset="1" stop-color="#ffffff" stop-opacity="0.08"/></linearGradient>
<linearGradient id="e0cp" x1="0" y1="-12.79" x2="0" y2="12.79" gradientUnits="userSpaceOnUse"><stop offset="0" stop-color="#4aced8"/><stop offset="0.18" stop-color="#19aab6"/><stop offset="0.78" stop-color="#19aab6"/><stop offset="1" stop-color="#0f909c"/></linearGradient>
<linearGradient id="e0ch" x1="-30.53" y1="0" x2="30.53" y2="0" gradientUnits="userSpaceOnUse"><stop offset="0" stop-color="#0a5a64" stop-opacity="0.22"/><stop offset="0.1" stop-color="#0a5a64" stop-opacity="0.03"/><stop offset="0.45" stop-color="#ffffff" stop-opacity="0.08"/><stop offset="0.85" stop-color="#0a5a64" stop-opacity="0.03"/><stop offset="1" stop-color="#0a5a64" stop-opacity="0.26"/></linearGradient>
<clipPath id="e0cc"><path d="M-30.07 -11.21 Q-29.57 -14.21 -26.07 -14.51 L26.07 -14.51 Q29.57 -14.21 30.07 -11.21 L32.71 10.21 Q33.31 13.61 29.71 14.81 Q0 20.61 -29.71 14.81 Q-33.31 13.61 -32.71 10.21 Z"/></clipPath>
<linearGradient id="e1bg" x1="0" y1="998.8" x2="0" y2="1259.7" gradientUnits="userSpaceOnUse"><stop offset="0" stop-color="#e3e3e8"/><stop offset="0.15" stop-color="#e6e6ea"/><stop offset="0.3" stop-color="#ebebee"/><stop offset="0.5" stop-color="#f3f3f4"/><stop offset="0.95" stop-color="#f6f6f4"/><stop offset="0.97" stop-color="#eeefeb"/><stop offset="1" stop-color="#f0f0ed"/></linearGradient>
<clipPath id="e1p"><rect x="130" y="998.8" width="92.6" height="260.9"/></clipPath>
<linearGradient id="e1rg" x1="0" y1="1053.8" x2="0" y2="1252.4" gradientUnits="userSpaceOnUse"><stop offset="0" stop-color="#f7f7f3"/><stop offset="0.25" stop-color="#f2f3ec"/><stop offset="0.8" stop-color="#f4f5ef"/><stop offset="1" stop-color="#f7f8f4"/></linearGradient>
<linearGradient id="e1nk" x1="146.92" y1="0" x2="200.2" y2="0" gradientUnits="userSpaceOnUse"><stop offset="0" stop-color="#e6e4cc"/><stop offset="0.3" stop-color="#f6f4e2"/><stop offset="0.75" stop-color="#f0eed8"/><stop offset="1" stop-color="#d8d6ba"/></linearGradient>
<linearGradient id="e1lq" x1="0" y1="1053.8" x2="0" y2="1252.4" gradientUnits="userSpaceOnUse"><stop offset="0" stop-color="#cbd48c"/><stop offset="0.1" stop-color="#ccd684"/><stop offset="0.16" stop-color="#d8dc66"/><stop offset="0.27" stop-color="#dcde5e"/><stop offset="0.42" stop-color="#dfe066"/><stop offset="0.48" stop-color="#dbdd5c"/><stop offset="0.6" stop-color="#dadc5a"/><stop offset="0.63" stop-color="#e0e169"/><stop offset="0.67" stop-color="#dadc5b"/><stop offset="0.78" stop-color="#dadc5b"/><stop offset="0.81" stop-color="#dfe067"/><stop offset="0.86" stop-color="#dadc5b"/><stop offset="1" stop-color="#d8da54"/></linearGradient>
<linearGradient id="e1sh" x1="144" y1="0" x2="210.3" y2="0" gradientUnits="userSpaceOnUse"><stop offset="0" stop-color="#000000" stop-opacity="0.05"/><stop offset="0.12" stop-color="#000000" stop-opacity="0"/><stop offset="0.85" stop-color="#ffffff" stop-opacity="0"/><stop offset="1" stop-color="#ffffff" stop-opacity="0.08"/></linearGradient>
<linearGradient id="e1cp" x1="0" y1="-12.63" x2="0" y2="12.63" gradientUnits="userSpaceOnUse"><stop offset="0" stop-color="#4aced8"/><stop offset="0.18" stop-color="#19aab6"/><stop offset="0.78" stop-color="#19aab6"/><stop offset="1" stop-color="#0f909c"/></linearGradient>
<linearGradient id="e1ch" x1="-30.32" y1="0" x2="30.32" y2="0" gradientUnits="userSpaceOnUse"><stop offset="0" stop-color="#0a5a64" stop-opacity="0.22"/><stop offset="0.1" stop-color="#0a5a64" stop-opacity="0.03"/><stop offset="0.45" stop-color="#ffffff" stop-opacity="0.08"/><stop offset="0.85" stop-color="#0a5a64" stop-opacity="0.03"/><stop offset="1" stop-color="#0a5a64" stop-opacity="0.26"/></linearGradient>
<clipPath id="e1cc"><path d="M-29.87 -11.04 Q-29.37 -14.04 -25.87 -14.34 L25.87 -14.34 Q29.37 -14.04 29.87 -11.04 L32.49 10.04 Q33.09 13.44 29.49 14.64 Q0 20.44 -29.49 14.64 Q-33.09 13.44 -32.49 10.04 Z"/></clipPath>
<linearGradient id="e2bg" x1="0" y1="998.8" x2="0" y2="1259.7" gradientUnits="userSpaceOnUse"><stop offset="0" stop-color="#e4e4e9"/><stop offset="0.15" stop-color="#e7e7eb"/><stop offset="0.3" stop-color="#ececef"/><stop offset="0.5" stop-color="#f4f4f5"/><stop offset="0.95" stop-color="#f7f7f5"/><stop offset="0.97" stop-color="#eeefeb"/><stop offset="1" stop-color="#f0f0ed"/></linearGradient>
<clipPath id="e2p"><rect x="222.6" y="998.8" width="91.4" height="260.9"/></clipPath>
<linearGradient id="e2rg" x1="0" y1="1054.4" x2="0" y2="1253" gradientUnits="userSpaceOnUse"><stop offset="0" stop-color="#f8f8f1"/><stop offset="0.25" stop-color="#f4f5ea"/><stop offset="0.8" stop-color="#f6f6ed"/><stop offset="1" stop-color="#f8f9f2"/></linearGradient>
<linearGradient id="e2nk" x1="239.01" y1="0" x2="293.08" y2="0" gradientUnits="userSpaceOnUse"><stop offset="0" stop-color="#e6e4cc"/><stop offset="0.3" stop-color="#f6f4e2"/><stop offset="0.75" stop-color="#f0eed8"/><stop offset="1" stop-color="#d8d6ba"/></linearGradient>
<linearGradient id="e2lq" x1="0" y1="1054.4" x2="0" y2="1253" gradientUnits="userSpaceOnUse"><stop offset="0" stop-color="#d6d884"/><stop offset="0.1" stop-color="#d9da7a"/><stop offset="0.16" stop-color="#e0da52"/><stop offset="0.27" stop-color="#e2da44"/><stop offset="0.42" stop-color="#e5dd4c"/><stop offset="0.48" stop-color="#e1d942"/><stop offset="0.6" stop-color="#e0d841"/><stop offset="0.63" stop-color="#e5dd51"/><stop offset="0.67" stop-color="#e0d842"/><stop offset="0.78" stop-color="#e0d842"/><stop offset="0.81" stop-color="#e5dd50"/><stop offset="0.86" stop-color="#e0d842"/><stop offset="1" stop-color="#dfd740"/></linearGradient>
<linearGradient id="e2sh" x1="234" y1="0" x2="301.5" y2="0" gradientUnits="userSpaceOnUse"><stop offset="0" stop-color="#000000" stop-opacity="0.05"/><stop offset="0.12" stop-color="#000000" stop-opacity="0"/><stop offset="0.85" stop-color="#ffffff" stop-opacity="0"/><stop offset="1" stop-color="#ffffff" stop-opacity="0.08"/></linearGradient>
<linearGradient id="e2cp" x1="0" y1="-13.58" x2="0" y2="13.58" gradientUnits="userSpaceOnUse"><stop offset="0" stop-color="#4aced8"/><stop offset="0.18" stop-color="#19aab6"/><stop offset="0.78" stop-color="#19aab6"/><stop offset="1" stop-color="#0f909c"/></linearGradient>
<linearGradient id="e2ch" x1="-30.73" y1="0" x2="30.73" y2="0" gradientUnits="userSpaceOnUse"><stop offset="0" stop-color="#0a5a64" stop-opacity="0.22"/><stop offset="0.1" stop-color="#0a5a64" stop-opacity="0.03"/><stop offset="0.45" stop-color="#ffffff" stop-opacity="0.08"/><stop offset="0.85" stop-color="#0a5a64" stop-opacity="0.03"/><stop offset="1" stop-color="#0a5a64" stop-opacity="0.26"/></linearGradient>
<clipPath id="e2cc"><path d="M-30.27 -12.02 Q-29.77 -15.02 -26.27 -15.32 L26.27 -15.32 Q29.77 -15.02 30.27 -12.02 L32.91 11.02 Q33.51 14.42 29.91 15.62 Q0 21.42 -29.91 15.62 Q-33.51 14.42 -32.91 11.02 Z"/></clipPath>
<linearGradient id="e3bg" x1="0" y1="998.8" x2="0" y2="1259.7" gradientUnits="userSpaceOnUse"><stop offset="0" stop-color="#e4e4ea"/><stop offset="0.15" stop-color="#e7e7ec"/><stop offset="0.3" stop-color="#ededf0"/><stop offset="0.5" stop-color="#f4f4f5"/><stop offset="0.95" stop-color="#f7f7f5"/><stop offset="0.97" stop-color="#eeefeb"/><stop offset="1" stop-color="#f0f0ed"/></linearGradient>
<clipPath id="e3p"><rect x="314" y="998.8" width="91.4" height="260.9"/></clipPath>
<linearGradient id="e3rg" x1="0" y1="1054.8" x2="0" y2="1250.3" gradientUnits="userSpaceOnUse"><stop offset="0" stop-color="#f8f8ed"/><stop offset="0.25" stop-color="#f4f5e4"/><stop offset="0.8" stop-color="#f6f6e8"/><stop offset="1" stop-color="#f8f9ef"/></linearGradient>
<linearGradient id="e3nk" x1="331.91" y1="0" x2="384.21" y2="0" gradientUnits="userSpaceOnUse"><stop offset="0" stop-color="#e6e4cc"/><stop offset="0.3" stop-color="#f6f4e2"/><stop offset="0.75" stop-color="#f0eed8"/><stop offset="1" stop-color="#d8d6ba"/></linearGradient>
<linearGradient id="e3lq" x1="0" y1="1054.8" x2="0" y2="1250.3" gradientUnits="userSpaceOnUse"><stop offset="0" stop-color="#dada7e"/><stop offset="0.1" stop-color="#dddc72"/><stop offset="0.16" stop-color="#e6da4c"/><stop offset="0.27" stop-color="#e8d840"/><stop offset="0.42" stop-color="#ebdb48"/><stop offset="0.48" stop-color="#e7d73e"/><stop offset="0.6" stop-color="#e6d63d"/><stop offset="0.63" stop-color="#ebdc4d"/><stop offset="0.67" stop-color="#e6d63e"/><stop offset="0.78" stop-color="#e6d63e"/><stop offset="0.81" stop-color="#eadb4c"/><stop offset="0.86" stop-color="#e6d63e"/><stop offset="1" stop-color="#e5d53c"/></linearGradient>
<linearGradient id="e3sh" x1="323.2" y1="0" x2="388.7" y2="0" gradientUnits="userSpaceOnUse"><stop offset="0" stop-color="#000000" stop-opacity="0.05"/><stop offset="0.12" stop-color="#000000" stop-opacity="0"/><stop offset="0.85" stop-color="#ffffff" stop-opacity="0"/><stop offset="1" stop-color="#ffffff" stop-opacity="0.08"/></linearGradient>
<linearGradient id="e3cp" x1="0" y1="-12.94" x2="0" y2="12.94" gradientUnits="userSpaceOnUse"><stop offset="0" stop-color="#4aced8"/><stop offset="0.18" stop-color="#19aab6"/><stop offset="0.78" stop-color="#19aab6"/><stop offset="1" stop-color="#0f909c"/></linearGradient>
<linearGradient id="e3ch" x1="-30" y1="0" x2="30" y2="0" gradientUnits="userSpaceOnUse"><stop offset="0" stop-color="#0a5a64" stop-opacity="0.22"/><stop offset="0.1" stop-color="#0a5a64" stop-opacity="0.03"/><stop offset="0.45" stop-color="#ffffff" stop-opacity="0.08"/><stop offset="0.85" stop-color="#0a5a64" stop-opacity="0.03"/><stop offset="1" stop-color="#0a5a64" stop-opacity="0.26"/></linearGradient>
<clipPath id="e3cc"><path d="M-29.55 -11.36 Q-29.05 -14.36 -25.55 -14.66 L25.55 -14.66 Q29.05 -14.36 29.55 -11.36 L32.15 10.36 Q32.75 13.76 29.15 14.96 Q0 20.76 -29.15 14.96 Q-32.75 13.76 -32.15 10.36 Z"/></clipPath>
<linearGradient id="e4bg" x1="0" y1="998.8" x2="0" y2="1259.7" gradientUnits="userSpaceOnUse"><stop offset="0" stop-color="#e4e4ec"/><stop offset="0.15" stop-color="#e7e7ee"/><stop offset="0.3" stop-color="#ededf1"/><stop offset="0.5" stop-color="#f4f4f6"/><stop offset="0.95" stop-color="#f7f7f5"/><stop offset="0.97" stop-color="#eeefeb"/><stop offset="1" stop-color="#f0f0ed"/></linearGradient>
<clipPath id="e4p"><rect x="405.4" y="998.8" width="92.6" height="260.9"/></clipPath>
<linearGradient id="e4rg" x1="0" y1="1054.4" x2="0" y2="1251.4" gradientUnits="userSpaceOnUse"><stop offset="0" stop-color="#f8f9ed"/><stop offset="0.25" stop-color="#f5f6e4"/><stop offset="0.8" stop-color="#f6f7e8"/><stop offset="1" stop-color="#f9faef"/></linearGradient>
<linearGradient id="e4nk" x1="423.38" y1="0" x2="480.73" y2="0" gradientUnits="userSpaceOnUse"><stop offset="0" stop-color="#e6e4cc"/><stop offset="0.3" stop-color="#f6f4e2"/><stop offset="0.75" stop-color="#f0eed8"/><stop offset="1" stop-color="#d8d6ba"/></linearGradient>
<linearGradient id="e4lq" x1="0" y1="1054.4" x2="0" y2="1251.4" gradientUnits="userSpaceOnUse"><stop offset="0" stop-color="#dcda86"/><stop offset="0.1" stop-color="#dfdc7c"/><stop offset="0.16" stop-color="#e8da5c"/><stop offset="0.27" stop-color="#ead850"/><stop offset="0.42" stop-color="#eddb58"/><stop offset="0.48" stop-color="#e9d74e"/><stop offset="0.6" stop-color="#e8d64d"/><stop offset="0.63" stop-color="#eddc5c"/><stop offset="0.67" stop-color="#e8d64e"/><stop offset="0.78" stop-color="#e8d64e"/><stop offset="0.81" stop-color="#ecdb5b"/><stop offset="0.86" stop-color="#e8d64e"/><stop offset="1" stop-color="#e7d54c"/></linearGradient>
<linearGradient id="e4sh" x1="413.8" y1="0" x2="482.2" y2="0" gradientUnits="userSpaceOnUse"><stop offset="0" stop-color="#000000" stop-opacity="0.05"/><stop offset="0.12" stop-color="#000000" stop-opacity="0"/><stop offset="0.85" stop-color="#ffffff" stop-opacity="0"/><stop offset="1" stop-color="#ffffff" stop-opacity="0.08"/></linearGradient>
<linearGradient id="e4cp" x1="0" y1="-13.53" x2="0" y2="13.53" gradientUnits="userSpaceOnUse"><stop offset="0" stop-color="#4aced8"/><stop offset="0.18" stop-color="#19aab6"/><stop offset="0.78" stop-color="#19aab6"/><stop offset="1" stop-color="#0f909c"/></linearGradient>
<linearGradient id="e4ch" x1="-32.38" y1="0" x2="32.38" y2="0" gradientUnits="userSpaceOnUse"><stop offset="0" stop-color="#0a5a64" stop-opacity="0.22"/><stop offset="0.1" stop-color="#0a5a64" stop-opacity="0.03"/><stop offset="0.45" stop-color="#ffffff" stop-opacity="0.08"/><stop offset="0.85" stop-color="#0a5a64" stop-opacity="0.03"/><stop offset="1" stop-color="#0a5a64" stop-opacity="0.26"/></linearGradient>
<clipPath id="e4cc"><path d="M-31.89 -11.97 Q-31.39 -14.97 -27.89 -15.27 L27.89 -15.27 Q31.39 -14.97 31.89 -11.97 L34.64 10.97 Q35.24 14.37 31.64 15.57 Q0 21.37 -31.64 15.57 Q-35.24 14.37 -34.64 10.97 Z"/></clipPath>
</defs>
<rect width="980" height="1338" fill="#ffffff"/>
<g filter="url(#nofxall)">
<!-- photographs -->
<g id="photoA" clip-path="url(#photoAclip)"><g>
<rect x="42.2" y="153" width="473.6" height="171.7" fill="url(#photoAug)"/>
<rect x="46.2" y="157" width="89.1" height="163.7" fill="url(#a0bg)"/>
<rect x="46.2" y="307.5" width="89.1" height="13.2" fill="url(#a0tb)"/>
<path d="M77 157 L77 193 L48.9 290.5 C47.43 295.5 48.3 300.5 48.6 304.5 C49.1 311.5 54.3 315.5 65.3 315.5 L115.9 315.5 C126.9 315.5 132.1 311.5 132.6 304.5 C132.9 300.5 132.39 295.5 131.3 290.5 L110 193 L110 157 Z" fill="url(#a0gl)"/>
<rect x="80" y="179" width="27" height="16" fill="#f2f3f5" opacity="0.42"/>
<path d="M77 178 L77 193 L53.5 273.1 M110 178 L110 193 L127.5 273.1" fill="none" stroke="#ffffff" stroke-width="2.2" opacity="0.75"/>
<path d="M77 178 L77 193 L53.5 273.1 M110 178 L110 193 L127.5 273.1" fill="none" stroke="#9a9a9a" stroke-width="0.7" opacity="0.55"/>
<path d="M84.26 197 L69.78 270.1" stroke="#ffffff" stroke-width="1.6" opacity="0.36" fill="none"/>
<path d="M85.46 197 L71.38 270.1" stroke="#b4b4b4" stroke-width="0.6" opacity="0.5" fill="none"/>
<path d="M100.1 197 L105.3 270.1" stroke="#ffffff" stroke-width="1.6" opacity="0.42" fill="none"/>
<path d="M101.3 197 L106.9 270.1" stroke="#b4b4b4" stroke-width="0.6" opacity="0.5" fill="none"/>
<path d="M71.48 267.1 h5.5 M72.38 261.9 h3.5 M73.28 256.7 h5.5 M74.18 251.5 h3.5 M75.08 246.3 h5.5 M75.98 241.1 h3.5 " stroke="#c4c4c4" stroke-width="0.7" fill="none" opacity="0.8"/>
<text filter="url(#nofx)" transform="translate(100.4 264.8) scale(-1 1)" font-size="5.6" fill="#b9b9b9" opacity="0.9">500ml</text>
<circle cx="91.8" cy="229" r="3.4" fill="none" stroke="#d4d4d4" stroke-width="1" opacity="0.8"/>
<g clip-path="url(#a0c)">
<rect x="46.3" y="273.1" width="88.6" height="43.4" fill="url(#a0lq)"/>
<rect x="46.3" y="273.1" width="88.6" height="43.4" fill="url(#a0sh)"/>
<ellipse cx="90.5" cy="274.4" rx="38" ry="2.3" fill="#9ce099" opacity="0.85"/>
<ellipse cx="90.5" cy="273.5" rx="37" ry="1.2" fill="none" stroke="#9cd09f" stroke-width="0.7" opacity="0.7"/>
</g>
<path d="M56.3 316.5 Q90.6 317.9 124.9 316.5" stroke="#ffffff" stroke-width="1.4" fill="none" opacity="0.7"/>
<rect x="81.7" y="267" width="16.2" height="11" rx="1" fill="#dddccb"/>
<path d="M84.94 273.5 l1.2 -4 l1.2 4 l-1 3 M91.74 273.8 l1.4 -4.5 l1.6 4.5 l-1.4 2.6 M84.2 276.4 h11.2" stroke="#3a3a24" stroke-width="1.5" fill="none" stroke-linecap="round" stroke-linejoin="round"/>
<g filter="url(#nofx)">
<text x="67" y="241" font-size="9.6" font-style="italic" font-weight="bold" fill="#12122e" transform="rotate(-4 67 241)" textLength="38.98" lengthAdjust="spacingAndGlyphs">ON WT ①</text>
<text x="72.5" y="256.5" font-size="9.6" font-style="italic" font-weight="bold" fill="#12122e" transform="rotate(-4 72.5 256.5)" textLength="16.13" lengthAdjust="spacingAndGlyphs">5.25</text>
</g>
<path d="M72.3 157 L115.4 157 L115.9 166 L112.4 176 L110.4 180 L103.4 184.5 L91.3 190.5 L88.8 183 L77.3 194 L72.8 172 Z" fill="url(#a0pp)"/>
<path d="M80.92 167 L79.42 180 M90.83 167 L89.33 180 M100.75 167 L99.25 180 M108.5 167 L107 180 " stroke="#7a5c2e" stroke-width="1" fill="none" opacity="0.65"/>
<path d="M73.3 163.2 Q93.85 166.2 114.9 162.6" stroke="#d9c190" stroke-width="2.2" fill="none"/>
<path d="M73.3 165 Q93.85 168 114.9 164.4" stroke="#7d5f30" stroke-width="0.8" fill="none" opacity="0.7"/>
<path d="M74.3 157.8 H113.4" stroke="#86683a" stroke-width="1.6" fill="none" opacity="0.8"/>
<rect x="135.3" y="157" width="97.2" height="163.7" fill="url(#a1bg)"/>
<rect x="135.3" y="309.4" width="97.2" height="11.3" fill="url(#a1tb)"/>
<path d="M167 157 L167 194.4 L141.59 292.4 C140.29 297.4 140.1 302.4 140.4 306.4 C140.9 313.4 146.1 317.4 157.1 317.4 L210.5 317.4 C221.5 317.4 226.7 313.4 227.2 306.4 C227.5 302.4 228.15 297.4 226.9 292.4 L202.6 194.4 L202.6 157 Z" fill="url(#a1gl)"/>
<rect x="170" y="176.9" width="29.6" height="19.5" fill="#f2f3f5" opacity="0.42"/>
<path d="M167 175.9 L167 194.4 L146.1 275 M202.6 175.9 L202.6 194.4 L222.8 275" fill="none" stroke="#ffffff" stroke-width="2.2" opacity="0.75"/>
<path d="M167 175.9 L167 194.4 L146.1 275 M202.6 175.9 L202.6 194.4 L222.8 275" fill="none" stroke="#9a9a9a" stroke-width="0.7" opacity="0.55"/>
<path d="M174.83 198.4 L162.97 272" stroke="#ffffff" stroke-width="1.6" opacity="0.36" fill="none"/>
<path d="M176.03 198.4 L164.57 272" stroke="#b4b4b4" stroke-width="0.6" opacity="0.5" fill="none"/>
<path d="M191.92 198.4 L199.79 272" stroke="#ffffff" stroke-width="1.6" opacity="0.42" fill="none"/>
<path d="M193.12 198.4 L201.39 272" stroke="#b4b4b4" stroke-width="0.6" opacity="0.5" fill="none"/>
<path d="M164.81 269 h5.5 M165.71 263.8 h3.5 M166.61 258.6 h5.5 M167.51 253.4 h3.5 M168.41 248.2 h5.5 M169.31 243 h3.5 " stroke="#c4c4c4" stroke-width="0.7" fill="none" opacity="0.8"/>
<text filter="url(#nofx)" transform="translate(193.7 264.1) scale(-1 1)" font-size="5.6" fill="#b9b9b9" opacity="0.9">500ml</text>
<circle cx="185.45" cy="228.3" r="3.4" fill="none" stroke="#d4d4d4" stroke-width="1" opacity="0.8"/>
<g clip-path="url(#a1c)">
<rect x="138.1" y="275" width="91.4" height="43.4" fill="url(#a1lq)"/>
<rect x="138.1" y="275" width="91.4" height="43.4" fill="url(#a1sh)"/>
<ellipse cx="184.45" cy="276.3" rx="39.35" ry="2.3" fill="#e3e683" opacity="0.85"/>
<ellipse cx="184.45" cy="275.4" rx="38.35" ry="1.2" fill="none" stroke="#dcdf93" stroke-width="0.7" opacity="0.7"/>
</g>
<path d="M148.1 318.4 Q183.8 319.8 219.5 318.4" stroke="#ffffff" stroke-width="1.4" fill="none" opacity="0.7"/>
<rect x="175.7" y="266.3" width="15.5" height="11.5" rx="1" fill="#dddccb"/>
<path d="M178.8 272.8 l1.2 -4 l1.2 4 l-1 3 M185.31 273.1 l1.4 -4.5 l1.6 4.5 l-1.4 2.6 M178.2 276.2 h10.5" stroke="#3a3a24" stroke-width="1.5" fill="none" stroke-linecap="round" stroke-linejoin="round"/>
<g filter="url(#nofx)">
<text x="176" y="235.5" font-size="10.5" font-style="italic" font-weight="bold" fill="#12122e" transform="rotate(-4 176 235.5)" textLength="10.5" lengthAdjust="spacingAndGlyphs">ON</text>
<text x="175.8" y="249.5" font-size="10.8" font-style="italic" font-weight="bold" fill="#12122e" transform="rotate(-4 175.8 249.5)" textLength="26.78" lengthAdjust="spacingAndGlyphs">WT ②</text>
<text x="178" y="262" font-size="10" font-style="italic" font-weight="bold" fill="#12122e" transform="rotate(-4 178 262)" textLength="16.8" lengthAdjust="spacingAndGlyphs">5.25</text>
</g>
<path d="M163.6 157 L206.7 157 L207.5 165 L205.7 178.9 L196.7 176.4 L189.15 180.9 L172.6 177.4 L164.6 179.4 Z" fill="url(#a1pp)"/>
<path d="M172.22 167 L170.72 177.9 M182.13 167 L180.63 177.9 M192.05 167 L190.55 177.9 M199.8 167 L198.3 177.9 " stroke="#7a5c2e" stroke-width="1" fill="none" opacity="0.65"/>
<path d="M164.6 163.2 Q185.15 166.2 206.2 162.6" stroke="#d9c190" stroke-width="2.2" fill="none"/>
<path d="M164.6 165 Q185.15 168 206.2 164.4" stroke="#7d5f30" stroke-width="0.8" fill="none" opacity="0.7"/>
<path d="M165.6 157.8 H204.7" stroke="#86683a" stroke-width="1.6" fill="none" opacity="0.8"/>
<rect x="232.5" y="157" width="94.2" height="163.7" fill="url(#a2bg)"/>
<rect x="232.5" y="307.2" width="94.2" height="13.5" fill="url(#a2tb)"/>
<path d="M262 157 L262 195 L238.89 290.2 C237.68 295.2 235.8 300.2 236.1 304.2 C236.6 311.2 241.8 315.2 252.8 315.2 L306.8 315.2 C317.8 315.2 323 311.2 323.5 304.2 C323.8 300.2 323.11 295.2 321.93 290.2 L299.6 195 L299.6 157 Z" fill="url(#a2gl)"/>
<rect x="265" y="177.6" width="31.6" height="19.4" fill="#f2f3f5" opacity="0.42"/>
<path d="M262 176.6 L262 195 L241.1 281.1 M299.6 176.6 L299.6 195 L319.8 281.1" fill="none" stroke="#ffffff" stroke-width="2.2" opacity="0.75"/>
<path d="M262 176.6 L262 195 L241.1 281.1 M299.6 176.6 L299.6 195 L319.8 281.1" fill="none" stroke="#9a9a9a" stroke-width="0.7" opacity="0.55"/>
<path d="M270.27 199 L258.41 278.1" stroke="#ffffff" stroke-width="1.6" opacity="0.36" fill="none"/>
<path d="M271.47 199 L260.01 278.1" stroke="#b4b4b4" stroke-width="0.6" opacity="0.5" fill="none"/>
<path d="M288.32 199 L296.19 278.1" stroke="#ffffff" stroke-width="1.6" opacity="0.42" fill="none"/>
<path d="M289.52 199 L297.79 278.1" stroke="#b4b4b4" stroke-width="0.6" opacity="0.5" fill="none"/>
<path d="M260.35 275.1 h5.5 M261.25 269.9 h3.5 M262.15 264.7 h5.5 M263.05 259.5 h3.5 M263.95 254.3 h5.5 M264.85 249.1 h3.5 " stroke="#c4c4c4" stroke-width="0.7" fill="none" opacity="0.8"/>
<text filter="url(#nofx)" transform="translate(282.6 268.2) scale(-1 1)" font-size="5.6" fill="#b9b9b9" opacity="0.9">500ml</text>
<circle cx="274.4" cy="232.4" r="3.4" fill="none" stroke="#d4d4d4" stroke-width="1" opacity="0.8"/>
<g clip-path="url(#a2c)">
<rect x="233.8" y="281.1" width="92" height="35.1" fill="url(#a2lq)"/>
<rect x="233.8" y="281.1" width="92" height="35.1" fill="url(#a2sh)"/>
<ellipse cx="280.45" cy="282.4" rx="40.35" ry="2.3" fill="#efe77b" opacity="0.85"/>
<ellipse cx="280.45" cy="281.5" rx="39.35" ry="1.2" fill="none" stroke="#eae18c" stroke-width="0.7" opacity="0.7"/>
</g>
<path d="M243.8 316.2 Q279.8 317.6 315.8 316.2" stroke="#ffffff" stroke-width="1.4" fill="none" opacity="0.7"/>
<rect x="264.7" y="270.4" width="15.4" height="9.4" rx="1" fill="#dddccb"/>
<path d="M267.78 276.9 l1.2 -4 l1.2 4 l-1 3 M274.25 277.2 l1.4 -4.5 l1.6 4.5 l-1.4 2.6 M267.2 278.2 h10.4" stroke="#3a3a24" stroke-width="1.5" fill="none" stroke-linecap="round" stroke-linejoin="round"/>
<g filter="url(#nofx)">
<text x="258.5" y="242.5" font-size="10" font-style="italic" font-weight="bold" fill="#12122e" transform="rotate(-4 258.5 242.5)" textLength="40.6" lengthAdjust="spacingAndGlyphs">ON WT ①</text>
<text x="267" y="257" font-size="10.2" font-style="italic" font-weight="bold" fill="#12122e" transform="rotate(-4 267 257)" textLength="17.14" lengthAdjust="spacingAndGlyphs">5.25</text>
</g>
<path d="M259.3 157 L303.7 157 L304.5 165 L302.7 179.6 L293.7 177.1 L285.5 181.6 L268.3 178.1 L260.3 180.1 Z" fill="url(#a2pp)"/>
<path d="M268.18 167 L266.68 178.6 M278.39 167 L276.89 178.6 M288.6 167 L287.1 178.6 M296.6 167 L295.1 178.6 " stroke="#7a5c2e" stroke-width="1" fill="none" opacity="0.65"/>
<path d="M260.3 163.2 Q281.5 166.2 303.2 162.6" stroke="#d9c190" stroke-width="2.2" fill="none"/>
<path d="M260.3 165 Q281.5 168 303.2 164.4" stroke="#7d5f30" stroke-width="0.8" fill="none" opacity="0.7"/>
<path d="M261.3 157.8 H301.7" stroke="#86683a" stroke-width="1.6" fill="none" opacity="0.8"/>
<rect x="326.7" y="157" width="93.1" height="163.7" fill="url(#a3bg)"/>
<rect x="326.7" y="305.6" width="93.1" height="15.1" fill="url(#a3tb)"/>
<path d="M355.6 157 L355.6 194 L330.72 288.6 C329.4 293.6 328.3 298.6 328.6 302.6 C329.1 309.6 334.3 313.6 345.3 313.6 L399.8 313.6 C410.8 313.6 416 309.6 416.5 302.6 C416.8 298.6 417.14 293.6 415.94 288.6 L393.3 194 L393.3 157 Z" fill="url(#a3gl)"/>
<rect x="358.6" y="176.2" width="31.7" height="19.8" fill="#f2f3f5" opacity="0.42"/>
<path d="M355.6 175.2 L355.6 194 L333.4 278.4 M393.3 175.2 L393.3 194 L413.5 278.4" fill="none" stroke="#ffffff" stroke-width="2.2" opacity="0.75"/>
<path d="M355.6 175.2 L355.6 194 L333.4 278.4 M393.3 175.2 L393.3 194 L413.5 278.4" fill="none" stroke="#9a9a9a" stroke-width="0.7" opacity="0.55"/>
<path d="M363.89 198 L351.02 275.4" stroke="#ffffff" stroke-width="1.6" opacity="0.36" fill="none"/>
<path d="M365.09 198 L352.62 275.4" stroke="#b4b4b4" stroke-width="0.6" opacity="0.5" fill="none"/>
<path d="M381.99 198 L389.47 275.4" stroke="#ffffff" stroke-width="1.6" opacity="0.42" fill="none"/>
<path d="M383.19 198 L391.07 275.4" stroke="#b4b4b4" stroke-width="0.6" opacity="0.5" fill="none"/>
<path d="M353.03 272.4 h5.5 M353.93 267.2 h3.5 M354.83 262 h5.5 M355.73 256.8 h3.5 M356.63 251.6 h5.5 M357.53 246.4 h3.5 " stroke="#c4c4c4" stroke-width="0.7" fill="none" opacity="0.8"/>
<text filter="url(#nofx)" transform="translate(374.9 266.1) scale(-1 1)" font-size="5.6" fill="#b9b9b9" opacity="0.9">500ml</text>
<circle cx="367.05" cy="230.3" r="3.4" fill="none" stroke="#d4d4d4" stroke-width="1" opacity="0.8"/>
<g clip-path="url(#a3c)">
<rect x="326.3" y="278.4" width="92.5" height="36.2" fill="url(#a3lq)"/>
<rect x="326.3" y="278.4" width="92.5" height="36.2" fill="url(#a3sh)"/>
<ellipse cx="373.45" cy="279.7" rx="41.05" ry="2.3" fill="#ede678" opacity="0.85"/>
<ellipse cx="373.45" cy="278.8" rx="40.05" ry="1.2" fill="none" stroke="#e8df8c" stroke-width="0.7" opacity="0.7"/>
</g>
<path d="M336.3 314.6 Q372.55 316 408.8 314.6" stroke="#ffffff" stroke-width="1.4" fill="none" opacity="0.7"/>
<rect x="357.7" y="268.3" width="14.7" height="8.8" rx="1" fill="#dddccb"/>
<path d="M360.64 274.8 l1.2 -4 l1.2 4 l-1 3 M366.81 275.1 l1.4 -4.5 l1.6 4.5 l-1.4 2.6 M360.2 275.5 h9.7" stroke="#3a3a24" stroke-width="1.5" fill="none" stroke-linecap="round" stroke-linejoin="round"/>
<g filter="url(#nofx)">
<text x="351" y="239.5" font-size="9.8" font-style="italic" font-weight="bold" fill="#12122e" transform="rotate(-4 351 239.5)" textLength="39.79" lengthAdjust="spacingAndGlyphs">ON WT ①</text>
<text x="359.5" y="254.5" font-size="9.8" font-style="italic" font-weight="bold" fill="#12122e" transform="rotate(-4 359.5 254.5)" textLength="16.46" lengthAdjust="spacingAndGlyphs">5.25</text>
</g>
<path d="M353 157 L396.7 157 L397.5 165 L395.7 178.2 L386.7 175.7 L378.85 180.2 L362 176.7 L354 178.7 Z" fill="url(#a3pp)"/>
<path d="M361.74 167 L360.24 177.2 M371.79 167 L370.29 177.2 M381.84 167 L380.34 177.2 M389.71 167 L388.21 177.2 " stroke="#7a5c2e" stroke-width="1" fill="none" opacity="0.65"/>
<path d="M354 163.2 Q374.85 166.2 396.2 162.6" stroke="#d9c190" stroke-width="2.2" fill="none"/>
<path d="M354 165 Q374.85 168 396.2 164.4" stroke="#7d5f30" stroke-width="0.8" fill="none" opacity="0.7"/>
<path d="M355 157.8 H394.7" stroke="#86683a" stroke-width="1.6" fill="none" opacity="0.8"/>
<rect x="419.8" y="157" width="92" height="163.7" fill="url(#a4bg)"/>
<rect x="419.8" y="307.2" width="92" height="13.5" fill="url(#a4tb)"/>
<path d="M446 157 L446 192 L423 290.2 C421.82 295.2 420.8 300.2 421.1 304.2 C421.6 311.2 426.8 315.2 437.8 315.2 L493.2 315.2 C504.2 315.2 509.4 311.2 509.9 304.2 C510.2 300.2 509.51 295.2 508.21 290.2 L482.6 192 L482.6 157 Z" fill="url(#a4gl)"/>
<rect x="449" y="172.9" width="30.6" height="21.1" fill="#f2f3f5" opacity="0.42"/>
<path d="M446 171.9 L446 192 L424.8 282.5 M482.6 171.9 L482.6 192 L506.2 282.5" fill="none" stroke="#ffffff" stroke-width="2.2" opacity="0.75"/>
<path d="M446 171.9 L446 192 L424.8 282.5 M482.6 171.9 L482.6 192 L506.2 282.5" fill="none" stroke="#9a9a9a" stroke-width="0.7" opacity="0.55"/>
<path d="M454.05 196 L442.71 279.5" stroke="#ffffff" stroke-width="1.6" opacity="0.36" fill="none"/>
<path d="M455.25 196 L444.31 279.5" stroke="#b4b4b4" stroke-width="0.6" opacity="0.5" fill="none"/>
<path d="M471.62 196 L481.78 279.5" stroke="#ffffff" stroke-width="1.6" opacity="0.42" fill="none"/>
<path d="M472.82 196 L483.38 279.5" stroke="#b4b4b4" stroke-width="0.6" opacity="0.5" fill="none"/>
<path d="M444.78 276.5 h5.5 M445.68 271.3 h3.5 M446.58 266.1 h5.5 M447.48 260.9 h3.5 M448.38 255.7 h5.5 M449.28 250.5 h3.5 " stroke="#c4c4c4" stroke-width="0.7" fill="none" opacity="0.8"/>
<text filter="url(#nofx)" transform="translate(467.9 266.8) scale(-1 1)" font-size="5.6" fill="#b9b9b9" opacity="0.9">500ml</text>
<circle cx="459.35" cy="231" r="3.4" fill="none" stroke="#d4d4d4" stroke-width="1" opacity="0.8"/>
<g clip-path="url(#a4c)">
<rect x="418.8" y="282.5" width="93.4" height="33.7" fill="url(#a4lq)"/>
<rect x="418.8" y="282.5" width="93.4" height="33.7" fill="url(#a4sh)"/>
<ellipse cx="465.5" cy="283.8" rx="41.7" ry="2.3" fill="#ece375" opacity="0.85"/>
<ellipse cx="465.5" cy="282.9" rx="40.7" ry="1.2" fill="none" stroke="#e8dd8c" stroke-width="0.7" opacity="0.7"/>
</g>
<path d="M428.8 316.2 Q465.5 317.6 502.2 316.2" stroke="#ffffff" stroke-width="1.4" fill="none" opacity="0.7"/>
<rect x="449.3" y="269" width="16.1" height="10.1" rx="1" fill="#dddccb"/>
<path d="M452.52 275.5 l1.2 -4 l1.2 4 l-1 3 M459.28 275.8 l1.4 -4.5 l1.6 4.5 l-1.4 2.6 M451.8 277.5 h11.1" stroke="#3a3a24" stroke-width="1.5" fill="none" stroke-linecap="round" stroke-linejoin="round"/>
<g filter="url(#nofx)">
<text x="441" y="239.5" font-size="9.8" font-style="italic" font-weight="bold" fill="#12122e" transform="rotate(-4 441 239.5)" textLength="39.79" lengthAdjust="spacingAndGlyphs">ON WT ①</text>
<text x="450" y="255" font-size="9.8" font-style="italic" font-weight="bold" fill="#12122e" transform="rotate(-4 450 255)" textLength="16.46" lengthAdjust="spacingAndGlyphs">5.25</text>
</g>
<path d="M442.3 157 L486 157 L486.8 165 L485 174.9 L476 172.4 L468.15 176.9 L451.3 173.4 L443.3 175.4 Z" fill="url(#a4pp)"/>
<path d="M451.04 167 L449.54 173.9 M461.09 167 L459.59 173.9 M471.14 167 L469.64 173.9 M479.01 167 L477.51 173.9 " stroke="#7a5c2e" stroke-width="1" fill="none" opacity="0.65"/>
<path d="M443.3 163.2 Q464.15 166.2 485.5 162.6" stroke="#d9c190" stroke-width="2.2" fill="none"/>
<path d="M443.3 165 Q464.15 168 485.5 164.4" stroke="#7d5f30" stroke-width="0.8" fill="none" opacity="0.7"/>
<path d="M444.3 157.8 H484" stroke="#86683a" stroke-width="1.6" fill="none" opacity="0.8"/>
<path d="M135.3 157 V320.7 M232.5 157 V320.7 M326.7 157 V320.7 M419.8 157 V320.7 " stroke="#f2f2f2" stroke-width="0.8" opacity="0.8" fill="none"/>
</g></g>
<g id="photoC" clip-path="url(#photoCclip)"><g filter="url(#soft)">
<rect x="36.5" y="537" width="465.5" height="266.6" fill="url(#photoCug)"/>
<rect x="40.5" y="541" width="92" height="258.6" fill="url(#c0bg)"/>
<g clip-path="url(#c0p)">
<path d="M104.5 598 L125.1 599 L132.5 647 L132.5 770.5 L115.7 787.2 L110.5 787.2 L110.5 647 Z" fill="url(#c0rg)"/>
<path d="M104.5 598 L125.1 599 L132.5 647 L132.5 770.5 L115.7 787.2 L110.5 787.2 L110.5 647 Z" fill="none" stroke="#ffffff" stroke-width="1.4" opacity="0.75"/>
<path d="M125.1 599 L132.5 647 L132.5 770.5 L115.7 787.2 L110.5 787.2 L110.5 647" fill="none" stroke="#9fb09c" stroke-width="0.6" opacity="0.6"/>
<path d="M112 601 L131 648" stroke="#ffffff" stroke-width="1.6" opacity="0.8" fill="none"/>
<path d="M113 601 L132 648" stroke="#a9b8a6" stroke-width="0.6" opacity="0.7" fill="none"/>
<path d="M52 597 L56.1 597 L56.1 789.5 L47 788.5 L47 657.5 L52 641 Z" fill="#ecf5ea" opacity="0.9"/>
<path d="M52 597 L52 641 L47 657.5 L47 788.5" fill="none" stroke="#ffffff" stroke-width="1.2" opacity="0.9"/>
<path d="M51.2 597 L51.2 641 L46.2 657.5 L46.2 788.5" fill="none" stroke="#a8b4a4" stroke-width="0.5" opacity="0.7"/>
<path d="M59.65 583.93 L109.65 570.04 L106.5 598.5 L62 598.5 Z" fill="url(#c0nk)"/>
<path d="M60.94 591.94 L107.92 585.69 L106.5 598.5 L62 598.5 Z" fill="#a1ce77" opacity="0.42"/>
<path d="M55.1 597 L104.2 597 L107.4 630 L110.5 647 L110.5 789.5 L50.9 789.5 L50.9 655.5 L55.1 647 Z" fill="url(#c0lq)"/>
<path d="M55.1 597 L104.2 597 L107.4 630 L110.5 647 L110.5 789.5 L50.9 789.5 L50.9 655.5 L55.1 647 Z" fill="url(#c0sh)"/>
<path d="M105 597 L108.2 630 L111.3 647 L111.3 787.5" fill="none" stroke="#ffffff" stroke-width="1.3" opacity="0.7"/>
<path d="M52 597 L125.1 599" stroke="#ffffff" stroke-width="1.5" opacity="0.85" fill="none"/>
<path d="M52 598.2 L110.2 598.4" stroke="#8c9c86" stroke-width="0.7" opacity="0.8" fill="none"/>
<g transform="translate(78.58 566.85) rotate(-13.47)">
<path d="M-27.66 -11.81 Q-27.16 -14.81 -23.66 -15.11 L23.66 -15.11 Q27.16 -14.81 27.66 -11.81 L30.14 10.81 Q30.74 14.21 27.14 15.41 Q0 21.21 -27.14 15.41 Q-30.74 14.21 -30.14 10.81 Z" fill="url(#c0cp)"/>
<path d="M-28.14 -12.21 V16.31 M-26.19 -12.21 V16.31 M-24.24 -12.21 V16.31 M-22.29 -12.21 V16.31 M-20.34 -12.21 V16.31 M-18.39 -12.21 V16.31 M-16.44 -12.21 V16.31 M-14.49 -12.21 V16.31 M-12.54 -12.21 V16.31 M-10.59 -12.21 V16.31 M-8.64 -12.21 V16.31 M-6.69 -12.21 V16.31 M-4.74 -12.21 V16.31 M-2.79 -12.21 V16.31 M-0.84 -12.21 V16.31 M1.11 -12.21 V16.31 M3.06 -12.21 V16.31 M5.01 -12.21 V16.31 M6.96 -12.21 V16.31 M8.91 -12.21 V16.31 M10.86 -12.21 V16.31 M12.81 -12.21 V16.31 M14.76 -12.21 V16.31 M16.71 -12.21 V16.31 M18.66 -12.21 V16.31 M20.61 -12.21 V16.31 M22.56 -12.21 V16.31 M24.51 -12.21 V16.31 M26.46 -12.21 V16.31 M28.41 -12.21 V16.31 " stroke="#0a7480" stroke-width="0.7" opacity="0.42" fill="none" clip-path="url(#c0cc)"/>
<path d="M-27.66 -11.81 Q-27.16 -14.81 -23.66 -15.11 L23.66 -15.11 Q27.16 -14.81 27.66 -11.81 L30.14 10.81 Q30.74 14.21 27.14 15.41 Q0 21.21 -27.14 15.41 Q-30.74 14.21 -30.14 10.81 Z" fill="url(#c0ch)"/>
<ellipse cx="0" cy="-13.91" rx="26.16" ry="1.9" fill="#69d5dd" opacity="0.9"/>
<path d="M-28.84 12.21 Q0 18.21 28.84 12.21" stroke="#38b4be" stroke-width="2.0" fill="none" opacity="0.9"/>
</g>
</g>
<rect x="132.5" y="541" width="90.7" height="258.6" fill="url(#c1bg)"/>
<g clip-path="url(#c1p)">
<path d="M200.5 599 L218 601 L222.2 647 L222.2 772.6 L209.7 788.3 L205.5 788.3 L205.5 655 Z" fill="url(#c1rg)"/>
<path d="M200.5 599 L218 601 L222.2 647 L222.2 772.6 L209.7 788.3 L205.5 788.3 L205.5 655 Z" fill="none" stroke="#ffffff" stroke-width="1.4" opacity="0.75"/>
<path d="M218 601 L222.2 647 L222.2 772.6 L209.7 788.3 L205.5 788.3 L205.5 655" fill="none" stroke="#9fb09c" stroke-width="0.6" opacity="0.6"/>
<path d="M207 603 L221 648" stroke="#ffffff" stroke-width="1.6" opacity="0.8" fill="none"/>
<path d="M208 603 L222 648" stroke="#a9b8a6" stroke-width="0.6" opacity="0.7" fill="none"/>
<path d="M140.5 598 L145.9 598 L145.9 791.4 L136.5 790.4 L136.5 652 L140.5 634 Z" fill="#eef6ec" opacity="0.9"/>
<path d="M140.5 598 L140.5 634 L136.5 652 L136.5 790.4" fill="none" stroke="#ffffff" stroke-width="1.2" opacity="0.9"/>
<path d="M139.7 598 L139.7 634 L135.7 652 L135.7 790.4" fill="none" stroke="#a8b4a4" stroke-width="0.5" opacity="0.7"/>
<path d="M151.71 584.04 L203.13 571.12 L203 599.5 L152 599.5 Z" fill="url(#c1nk)"/>
<path d="M151.87 592.54 L203.06 586.73 L203 599.5 L152 599.5 Z" fill="#bbe391" opacity="0.42"/>
<path d="M144.9 598 L200.3 598 L203 630 L205.5 655 L205.5 791.4 L140.7 791.4 L140.7 650 L144.9 640 Z" fill="url(#c1lq)"/>
<path d="M144.9 598 L200.3 598 L203 630 L205.5 655 L205.5 791.4 L140.7 791.4 L140.7 650 L144.9 640 Z" fill="url(#c1sh)"/>
<path d="M201.1 598 L203.8 630 L206.3 655 L206.3 789.4" fill="none" stroke="#ffffff" stroke-width="1.3" opacity="0.7"/>
<path d="M140.5 598 L218 601" stroke="#ffffff" stroke-width="1.5" opacity="0.85" fill="none"/>
<path d="M140.5 599.2 L206.3 599.4" stroke="#8c9c86" stroke-width="0.7" opacity="0.8" fill="none"/>
<g transform="translate(170.88 568.45) rotate(-14.04)">
<path d="M-28.56 -10.87 Q-28.06 -13.87 -24.56 -14.17 L24.56 -14.17 Q28.06 -13.87 28.56 -10.87 L31.1 9.87 Q31.7 13.27 28.1 14.47 Q0 20.27 -28.1 14.47 Q-31.7 13.27 -31.1 9.87 Z" fill="url(#c1cp)"/>
<path d="M-29.1 -11.27 V15.37 M-27.15 -11.27 V15.37 M-25.2 -11.27 V15.37 M-23.25 -11.27 V15.37 M-21.3 -11.27 V15.37 M-19.35 -11.27 V15.37 M-17.4 -11.27 V15.37 M-15.45 -11.27 V15.37 M-13.5 -11.27 V15.37 M-11.55 -11.27 V15.37 M-9.6 -11.27 V15.37 M-7.65 -11.27 V15.37 M-5.7 -11.27 V15.37 M-3.75 -11.27 V15.37 M-1.8 -11.27 V15.37 M0.15 -11.27 V15.37 M2.1 -11.27 V15.37 M4.05 -11.27 V15.37 M6 -11.27 V15.37 M7.95 -11.27 V15.37 M9.9 -11.27 V15.37 M11.85 -11.27 V15.37 M13.8 -11.27 V15.37 M15.75 -11.27 V15.37 M17.7 -11.27 V15.37 M19.65 -11.27 V15.37 M21.6 -11.27 V15.37 M23.55 -11.27 V15.37 M25.5 -11.27 V15.37 M27.45 -11.27 V15.37 M29.4 -11.27 V15.37 " stroke="#0a7480" stroke-width="0.7" opacity="0.42" fill="none" clip-path="url(#c1cc)"/>
<path d="M-28.56 -10.87 Q-28.06 -13.87 -24.56 -14.17 L24.56 -14.17 Q28.06 -13.87 28.56 -10.87 L31.1 9.87 Q31.7 13.27 28.1 14.47 Q0 20.27 -28.1 14.47 Q-31.7 13.27 -31.1 9.87 Z" fill="url(#c1ch)"/>
<ellipse cx="0" cy="-12.97" rx="27.06" ry="1.9" fill="#69d5dd" opacity="0.9"/>
<path d="M-29.8 11.27 Q0 17.27 29.8 11.27" stroke="#38b4be" stroke-width="2.0" fill="none" opacity="0.9"/>
</g>
<path d="M176 606 q4.5 -1.5 9 0.5" stroke="#5a903b" stroke-width="1.2" fill="none" opacity="0.45" stroke-linecap="round"/>
<path d="M188 619 q4 -1.5 8 0.5" stroke="#5a903b" stroke-width="1.2" fill="none" opacity="0.45" stroke-linecap="round"/>
<path d="M170 624 q3 -1.5 6 0.5" stroke="#5a903b" stroke-width="1.2" fill="none" opacity="0.45" stroke-linecap="round"/>
</g>
<rect x="223.2" y="541" width="92.2" height="258.6" fill="url(#c2bg)"/>
<g clip-path="url(#c2p)">
<path d="M291.5 596 L313.3 601 L315.4 647 L315 775.7 L296.6 789.3 L290.3 789.3 L290.3 650 Z" fill="url(#c2rg)"/>
<path d="M291.5 596 L313.3 601 L315.4 647 L315 775.7 L296.6 789.3 L290.3 789.3 L290.3 650 Z" fill="none" stroke="#ffffff" stroke-width="1.4" opacity="0.75"/>
<path d="M313.3 601 L315.4 647 L315 775.7 L296.6 789.3 L290.3 789.3 L290.3 650" fill="none" stroke="#9fb09c" stroke-width="0.6" opacity="0.6"/>
<path d="M297 600 L314 650" stroke="#ffffff" stroke-width="1.6" opacity="0.8" fill="none"/>
<path d="M298 600 L315 650" stroke="#a9b8a6" stroke-width="0.6" opacity="0.7" fill="none"/>
<path d="M240.2 594.8 L243.2 594.8 L243.2 791.4 L230.7 790.4 L230.7 649 L240.2 614 Z" fill="#eaf3e1" opacity="0.9"/>
<path d="M240.2 594.8 L240.2 614 L230.7 649 L230.7 790.4" fill="none" stroke="#ffffff" stroke-width="1.2" opacity="0.9"/>
<path d="M239.4 594.8 L239.4 614 L229.9 649 L229.9 790.4" fill="none" stroke="#a8b4a4" stroke-width="0.5" opacity="0.7"/>
<path d="M253.72 583.14 L299.92 571.1 L300 596.3 L254 596.3 Z" fill="url(#c2nk)"/>
<path d="M253.87 590.38 L299.96 584.96 L300 596.3 L254 596.3 Z" fill="#c6e890" opacity="0.42"/>
<path d="M242.2 594.8 L291.3 595 L290.6 630 L290.3 650 L290.3 791.4 L233.8 791.4 L233.8 647 L242.2 620 Z" fill="url(#c2lq)"/>
<path d="M242.2 594.8 L291.3 595 L290.6 630 L290.3 650 L290.3 791.4 L233.8 791.4 L233.8 647 L242.2 620 Z" fill="url(#c2sh)"/>
<path d="M292.1 595 L291.4 630 L291.1 650 L291.1 789.4" fill="none" stroke="#ffffff" stroke-width="1.3" opacity="0.7"/>
<path d="M240.2 594.8 L313.3 601" stroke="#ffffff" stroke-width="1.5" opacity="0.85" fill="none"/>
<path d="M240.2 596 L297.3 596.2" stroke="#8c9c86" stroke-width="0.7" opacity="0.8" fill="none"/>
<g transform="translate(271.2 567.4) rotate(-13.83)">
<path d="M-26.27 -11.18 Q-25.77 -14.18 -22.27 -14.48 L22.27 -14.48 Q25.77 -14.18 26.27 -11.18 L28.67 10.18 Q29.27 13.58 25.67 14.78 Q0 20.58 -25.67 14.78 Q-29.27 13.58 -28.67 10.18 Z" fill="url(#c2cp)"/>
<path d="M-26.67 -11.58 V15.68 M-24.72 -11.58 V15.68 M-22.77 -11.58 V15.68 M-20.82 -11.58 V15.68 M-18.87 -11.58 V15.68 M-16.92 -11.58 V15.68 M-14.97 -11.58 V15.68 M-13.02 -11.58 V15.68 M-11.07 -11.58 V15.68 M-9.12 -11.58 V15.68 M-7.17 -11.58 V15.68 M-5.22 -11.58 V15.68 M-3.27 -11.58 V15.68 M-1.32 -11.58 V15.68 M0.63 -11.58 V15.68 M2.58 -11.58 V15.68 M4.53 -11.58 V15.68 M6.48 -11.58 V15.68 M8.43 -11.58 V15.68 M10.38 -11.58 V15.68 M12.33 -11.58 V15.68 M14.28 -11.58 V15.68 M16.23 -11.58 V15.68 M18.18 -11.58 V15.68 M20.13 -11.58 V15.68 M22.08 -11.58 V15.68 M24.03 -11.58 V15.68 M25.98 -11.58 V15.68 " stroke="#0a7480" stroke-width="0.7" opacity="0.42" fill="none" clip-path="url(#c2cc)"/>
<path d="M-26.27 -11.18 Q-25.77 -14.18 -22.27 -14.48 L22.27 -14.48 Q25.77 -14.18 26.27 -11.18 L28.67 10.18 Q29.27 13.58 25.67 14.78 Q0 20.58 -25.67 14.78 Q-29.27 13.58 -28.67 10.18 Z" fill="url(#c2ch)"/>
<ellipse cx="0" cy="-13.28" rx="24.77" ry="1.9" fill="#69d5dd" opacity="0.9"/>
<path d="M-27.37 11.58 Q0 17.58 27.37 11.58" stroke="#38b4be" stroke-width="2.0" fill="none" opacity="0.9"/>
</g>
<path d="M258 604 q4 -1.5 8 0.5" stroke="#62943c" stroke-width="1.2" fill="none" opacity="0.45" stroke-linecap="round"/>
<path d="M270 612 q3.5 -1.5 7 0.5" stroke="#62943c" stroke-width="1.2" fill="none" opacity="0.45" stroke-linecap="round"/>
<path d="M280 606 q3.5 -1.5 7 0.5" stroke="#62943c" stroke-width="1.2" fill="none" opacity="0.45" stroke-linecap="round"/>
</g>
<rect x="315.4" y="541" width="91.9" height="258.6" fill="url(#c3bg)"/>
<g clip-path="url(#c3p)">
<path d="M390 597 L407.3 600 L407.3 647 L407.3 772.6 L389.7 787.2 L385.5 787.2 L385.5 647 Z" fill="url(#c3rg)"/>
<path d="M390 597 L407.3 600 L407.3 647 L407.3 772.6 L389.7 787.2 L385.5 787.2 L385.5 647 Z" fill="none" stroke="#ffffff" stroke-width="1.4" opacity="0.75"/>
<path d="M407.3 600 L407.3 647 L407.3 772.6 L389.7 787.2 L385.5 787.2 L385.5 647" fill="none" stroke="#9fb09c" stroke-width="0.6" opacity="0.6"/>
<path d="M392 600 L406 640" stroke="#ffffff" stroke-width="1.6" opacity="0.8" fill="none"/>
<path d="M393 600 L407 640" stroke="#a9b8a6" stroke-width="0.6" opacity="0.7" fill="none"/>
<path d="M334.5 595.9 L337.4 595.9 L337.4 790.4 L326 789.4 L326 653 L334.5 614 Z" fill="#e5f1d7" opacity="0.9"/>
<path d="M334.5 595.9 L334.5 614 L326 653 L326 789.4" fill="none" stroke="#ffffff" stroke-width="1.2" opacity="0.9"/>
<path d="M333.7 595.9 L333.7 614 L325.2 653 L325.2 789.4" fill="none" stroke="#a8b4a4" stroke-width="0.5" opacity="0.7"/>
<path d="M349.13 584.14 L397.19 572.1 L397 597.4 L349 597.4 Z" fill="url(#c3nk)"/>
<path d="M349.06 591.43 L397.08 586.02 L397 597.4 L349 597.4 Z" fill="#c6e78f" opacity="0.42"/>
<path d="M336.4 595.9 L389.7 596 L387 625 L385.5 647 L385.5 790.4 L329 790.4 L329 651 L336.4 620 Z" fill="url(#c3lq)"/>
<path d="M336.4 595.9 L389.7 596 L387 625 L385.5 647 L385.5 790.4 L329 790.4 L329 651 L336.4 620 Z" fill="url(#c3sh)"/>
<path d="M390.5 596 L387.8 625 L386.3 647 L386.3 788.4" fill="none" stroke="#ffffff" stroke-width="1.3" opacity="0.7"/>
<path d="M334.5 595.9 L407.3 600" stroke="#ffffff" stroke-width="1.5" opacity="0.85" fill="none"/>
<path d="M334.5 597.1 L395.7 597.3" stroke="#8c9c86" stroke-width="0.7" opacity="0.8" fill="none"/>
<g transform="translate(366.68 567.65) rotate(-14.6)">
<path d="M-27.07 -12.16 Q-26.57 -15.16 -23.07 -15.46 L23.07 -15.46 Q26.57 -15.16 27.07 -12.16 L29.52 11.16 Q30.12 14.56 26.52 15.76 Q0 21.56 -26.52 15.76 Q-30.12 14.56 -29.52 11.16 Z" fill="url(#c3cp)"/>
<path d="M-27.52 -12.56 V16.66 M-25.57 -12.56 V16.66 M-23.62 -12.56 V16.66 M-21.67 -12.56 V16.66 M-19.72 -12.56 V16.66 M-17.77 -12.56 V16.66 M-15.82 -12.56 V16.66 M-13.87 -12.56 V16.66 M-11.92 -12.56 V16.66 M-9.97 -12.56 V16.66 M-8.02 -12.56 V16.66 M-6.07 -12.56 V16.66 M-4.12 -12.56 V16.66 M-2.17 -12.56 V16.66 M-0.22 -12.56 V16.66 M1.73 -12.56 V16.66 M3.68 -12.56 V16.66 M5.63 -12.56 V16.66 M7.58 -12.56 V16.66 M9.53 -12.56 V16.66 M11.48 -12.56 V16.66 M13.43 -12.56 V16.66 M15.38 -12.56 V16.66 M17.33 -12.56 V16.66 M19.28 -12.56 V16.66 M21.23 -12.56 V16.66 M23.18 -12.56 V16.66 M25.13 -12.56 V16.66 M27.08 -12.56 V16.66 " stroke="#0a7480" stroke-width="0.7" opacity="0.42" fill="none" clip-path="url(#c3cc)"/>
<path d="M-27.07 -12.16 Q-26.57 -15.16 -23.07 -15.46 L23.07 -15.46 Q26.57 -15.16 27.07 -12.16 L29.52 11.16 Q30.12 14.56 26.52 15.76 Q0 21.56 -26.52 15.76 Q-30.12 14.56 -29.52 11.16 Z" fill="url(#c3ch)"/>
<ellipse cx="0" cy="-14.26" rx="25.57" ry="1.9" fill="#69d5dd" opacity="0.9"/>
<path d="M-28.22 12.56 Q0 18.56 28.22 12.56" stroke="#38b4be" stroke-width="2.0" fill="none" opacity="0.9"/>
</g>
<path d="M352 606 q4 -1.5 8 0.5" stroke="#62933b" stroke-width="1.2" fill="none" opacity="0.45" stroke-linecap="round"/>
<path d="M364 613 q3.5 -1.5 7 0.5" stroke="#62933b" stroke-width="1.2" fill="none" opacity="0.45" stroke-linecap="round"/>
<path d="M375 607 q3 -1.5 6 0.5" stroke="#62933b" stroke-width="1.2" fill="none" opacity="0.45" stroke-linecap="round"/>
</g>
<rect x="407.3" y="541" width="90.7" height="258.6" fill="url(#c4bg)"/>
<g clip-path="url(#c4p)">
<path d="M478 598 L498 601 L498 647 L498 774.7 L480.7 788.3 L475.5 788.3 L475.5 647 Z" fill="url(#c4rg)"/>
<path d="M478 598 L498 601 L498 647 L498 774.7 L480.7 788.3 L475.5 788.3 L475.5 647 Z" fill="none" stroke="#ffffff" stroke-width="1.4" opacity="0.75"/>
<path d="M498 601 L498 647 L498 774.7 L480.7 788.3 L475.5 788.3 L475.5 647" fill="none" stroke="#9fb09c" stroke-width="0.6" opacity="0.6"/>
<path d="M481 600 L498 650" stroke="#ffffff" stroke-width="1.6" opacity="0.8" fill="none"/>
<path d="M482 600 L499 650" stroke="#a9b8a6" stroke-width="0.6" opacity="0.7" fill="none"/>
<path d="M421.3 597 L424.2 597 L424.2 791.4 L412.6 790.4 L412.6 652 L421.3 616 Z" fill="#e1f0c9" opacity="0.9"/>
<path d="M421.3 597 L421.3 616 L412.6 652 L412.6 790.4" fill="none" stroke="#ffffff" stroke-width="1.2" opacity="0.9"/>
<path d="M420.5 597 L420.5 616 L411.8 652 L411.8 790.4" fill="none" stroke="#a8b4a4" stroke-width="0.5" opacity="0.7"/>
<path d="M437.24 585.24 L487.15 573.2 L487 598.5 L437 598.5 Z" fill="url(#c4nk)"/>
<path d="M437.11 592.53 L487.07 587.12 L487 598.5 L437 598.5 Z" fill="#ceea99" opacity="0.42"/>
<path d="M423.2 597 L477.6 597 L476.3 625 L475.5 647 L475.5 791.4 L415.9 791.4 L415.9 650 L423.2 622 Z" fill="url(#c4lq)"/>
<path d="M423.2 597 L477.6 597 L476.3 625 L475.5 647 L475.5 791.4 L415.9 791.4 L415.9 650 L423.2 622 Z" fill="url(#c4sh)"/>
<path d="M478.4 597 L477.1 625 L476.3 647 L476.3 789.4" fill="none" stroke="#ffffff" stroke-width="1.3" opacity="0.7"/>
<path d="M421.3 597 L498 601" stroke="#ffffff" stroke-width="1.5" opacity="0.85" fill="none"/>
<path d="M421.3 598.2 L483.6 598.4" stroke="#8c9c86" stroke-width="0.7" opacity="0.8" fill="none"/>
<g transform="translate(455.38 568.45) rotate(-13.3)">
<path d="M-27.77 -12.56 Q-27.27 -15.56 -23.77 -15.86 L23.77 -15.86 Q27.27 -15.56 27.77 -12.56 L30.27 11.56 Q30.87 14.96 27.27 16.16 Q0 21.96 -27.27 16.16 Q-30.87 14.96 -30.27 11.56 Z" fill="url(#c4cp)"/>
<path d="M-28.27 -12.96 V17.06 M-26.32 -12.96 V17.06 M-24.37 -12.96 V17.06 M-22.42 -12.96 V17.06 M-20.47 -12.96 V17.06 M-18.52 -12.96 V17.06 M-16.57 -12.96 V17.06 M-14.62 -12.96 V17.06 M-12.67 -12.96 V17.06 M-10.72 -12.96 V17.06 M-8.77 -12.96 V17.06 M-6.82 -12.96 V17.06 M-4.87 -12.96 V17.06 M-2.92 -12.96 V17.06 M-0.97 -12.96 V17.06 M0.98 -12.96 V17.06 M2.93 -12.96 V17.06 M4.88 -12.96 V17.06 M6.83 -12.96 V17.06 M8.78 -12.96 V17.06 M10.73 -12.96 V17.06 M12.68 -12.96 V17.06 M14.63 -12.96 V17.06 M16.58 -12.96 V17.06 M18.53 -12.96 V17.06 M20.48 -12.96 V17.06 M22.43 -12.96 V17.06 M24.38 -12.96 V17.06 M26.33 -12.96 V17.06 M28.28 -12.96 V17.06 " stroke="#0a7480" stroke-width="0.7" opacity="0.42" fill="none" clip-path="url(#c4cc)"/>
<path d="M-27.77 -12.56 Q-27.27 -15.56 -23.77 -15.86 L23.77 -15.86 Q27.27 -15.56 27.77 -12.56 L30.27 11.56 Q30.87 14.96 27.27 16.16 Q0 21.96 -27.27 16.16 Q-30.87 14.96 -30.27 11.56 Z" fill="url(#c4ch)"/>
<ellipse cx="0" cy="-14.66" rx="26.27" ry="1.9" fill="#69d5dd" opacity="0.9"/>
<path d="M-28.97 12.96 Q0 18.96 28.97 12.96" stroke="#38b4be" stroke-width="2.0" fill="none" opacity="0.9"/>
</g>
<path d="M440 607 q4 -1.5 8 0.5" stroke="#679542" stroke-width="1.2" fill="none" opacity="0.45" stroke-linecap="round"/>
<path d="M452 613 q3.5 -1.5 7 0.5" stroke="#679542" stroke-width="1.2" fill="none" opacity="0.45" stroke-linecap="round"/>
<path d="M463 608 q3 -1.5 6 0.5" stroke="#679542" stroke-width="1.2" fill="none" opacity="0.45" stroke-linecap="round"/>
</g>
<path d="M132.5 541 V799.6 M223.2 541 V799.6 M315.4 541 V799.6 M407.3 541 V799.6 " stroke="#f4f4f4" stroke-width="1" opacity="0.9" fill="none"/>
</g><g opacity="0.55">
<rect x="36.5" y="537" width="465.5" height="266.6" fill="url(#photoCug)"/>
<rect x="40.5" y="541" width="92" height="258.6" fill="url(#c0bg)"/>
<g clip-path="url(#c0p)">
<path d="M104.5 598 L125.1 599 L132.5 647 L132.5 770.5 L115.7 787.2 L110.5 787.2 L110.5 647 Z" fill="url(#c0rg)"/>
<path d="M104.5 598 L125.1 599 L132.5 647 L132.5 770.5 L115.7 787.2 L110.5 787.2 L110.5 647 Z" fill="none" stroke="#ffffff" stroke-width="1.4" opacity="0.75"/>
<path d="M125.1 599 L132.5 647 L132.5 770.5 L115.7 787.2 L110.5 787.2 L110.5 647" fill="none" stroke="#9fb09c" stroke-width="0.6" opacity="0.6"/>
<path d="M112 601 L131 648" stroke="#ffffff" stroke-width="1.6" opacity="0.8" fill="none"/>
<path d="M113 601 L132 648" stroke="#a9b8a6" stroke-width="0.6" opacity="0.7" fill="none"/>
<path d="M52 597 L56.1 597 L56.1 789.5 L47 788.5 L47 657.5 L52 641 Z" fill="#ecf5ea" opacity="0.9"/>
<path d="M52 597 L52 641 L47 657.5 L47 788.5" fill="none" stroke="#ffffff" stroke-width="1.2" opacity="0.9"/>
<path d="M51.2 597 L51.2 641 L46.2 657.5 L46.2 788.5" fill="none" stroke="#a8b4a4" stroke-width="0.5" opacity="0.7"/>
<path d="M59.65 583.93 L109.65 570.04 L106.5 598.5 L62 598.5 Z" fill="url(#c0nk)"/>
<path d="M60.94 591.94 L107.92 585.69 L106.5 598.5 L62 598.5 Z" fill="#a1ce77" opacity="0.42"/>
<path d="M55.1 597 L104.2 597 L107.4 630 L110.5 647 L110.5 789.5 L50.9 789.5 L50.9 655.5 L55.1 647 Z" fill="url(#c0lq)"/>
<path d="M55.1 597 L104.2 597 L107.4 630 L110.5 647 L110.5 789.5 L50.9 789.5 L50.9 655.5 L55.1 647 Z" fill="url(#c0sh)"/>
<path d="M105 597 L108.2 630 L111.3 647 L111.3 787.5" fill="none" stroke="#ffffff" stroke-width="1.3" opacity="0.7"/>
<path d="M52 597 L125.1 599" stroke="#ffffff" stroke-width="1.5" opacity="0.85" fill="none"/>
<path d="M52 598.2 L110.2 598.4" stroke="#8c9c86" stroke-width="0.7" opacity="0.8" fill="none"/>
<g transform="translate(78.58 566.85) rotate(-13.47)">
<path d="M-27.66 -11.81 Q-27.16 -14.81 -23.66 -15.11 L23.66 -15.11 Q27.16 -14.81 27.66 -11.81 L30.14 10.81 Q30.74 14.21 27.14 15.41 Q0 21.21 -27.14 15.41 Q-30.74 14.21 -30.14 10.81 Z" fill="url(#c0cp)"/>
<path d="M-28.14 -12.21 V16.31 M-26.19 -12.21 V16.31 M-24.24 -12.21 V16.31 M-22.29 -12.21 V16.31 M-20.34 -12.21 V16.31 M-18.39 -12.21 V16.31 M-16.44 -12.21 V16.31 M-14.49 -12.21 V16.31 M-12.54 -12.21 V16.31 M-10.59 -12.21 V16.31 M-8.64 -12.21 V16.31 M-6.69 -12.21 V16.31 M-4.74 -12.21 V16.31 M-2.79 -12.21 V16.31 M-0.84 -12.21 V16.31 M1.11 -12.21 V16.31 M3.06 -12.21 V16.31 M5.01 -12.21 V16.31 M6.96 -12.21 V16.31 M8.91 -12.21 V16.31 M10.86 -12.21 V16.31 M12.81 -12.21 V16.31 M14.76 -12.21 V16.31 M16.71 -12.21 V16.31 M18.66 -12.21 V16.31 M20.61 -12.21 V16.31 M22.56 -12.21 V16.31 M24.51 -12.21 V16.31 M26.46 -12.21 V16.31 M28.41 -12.21 V16.31 " stroke="#0a7480" stroke-width="0.7" opacity="0.42" fill="none" clip-path="url(#c0cc)"/>
<path d="M-27.66 -11.81 Q-27.16 -14.81 -23.66 -15.11 L23.66 -15.11 Q27.16 -14.81 27.66 -11.81 L30.14 10.81 Q30.74 14.21 27.14 15.41 Q0 21.21 -27.14 15.41 Q-30.74 14.21 -30.14 10.81 Z" fill="url(#c0ch)"/>
<ellipse cx="0" cy="-13.91" rx="26.16" ry="1.9" fill="#69d5dd" opacity="0.9"/>
<path d="M-28.84 12.21 Q0 18.21 28.84 12.21" stroke="#38b4be" stroke-width="2.0" fill="none" opacity="0.9"/>
</g>
</g>
<rect x="132.5" y="541" width="90.7" height="258.6" fill="url(#c1bg)"/>
<g clip-path="url(#c1p)">
<path d="M200.5 599 L218 601 L222.2 647 L222.2 772.6 L209.7 788.3 L205.5 788.3 L205.5 655 Z" fill="url(#c1rg)"/>
<path d="M200.5 599 L218 601 L222.2 647 L222.2 772.6 L209.7 788.3 L205.5 788.3 L205.5 655 Z" fill="none" stroke="#ffffff" stroke-width="1.4" opacity="0.75"/>
<path d="M218 601 L222.2 647 L222.2 772.6 L209.7 788.3 L205.5 788.3 L205.5 655" fill="none" stroke="#9fb09c" stroke-width="0.6" opacity="0.6"/>
<path d="M207 603 L221 648" stroke="#ffffff" stroke-width="1.6" opacity="0.8" fill="none"/>
<path d="M208 603 L222 648" stroke="#a9b8a6" stroke-width="0.6" opacity="0.7" fill="none"/>
<path d="M140.5 598 L145.9 598 L145.9 791.4 L136.5 790.4 L136.5 652 L140.5 634 Z" fill="#eef6ec" opacity="0.9"/>
<path d="M140.5 598 L140.5 634 L136.5 652 L136.5 790.4" fill="none" stroke="#ffffff" stroke-width="1.2" opacity="0.9"/>
<path d="M139.7 598 L139.7 634 L135.7 652 L135.7 790.4" fill="none" stroke="#a8b4a4" stroke-width="0.5" opacity="0.7"/>
<path d="M151.71 584.04 L203.13 571.12 L203 599.5 L152 599.5 Z" fill="url(#c1nk)"/>
<path d="M151.87 592.54 L203.06 586.73 L203 599.5 L152 599.5 Z" fill="#bbe391" opacity="0.42"/>
<path d="M144.9 598 L200.3 598 L203 630 L205.5 655 L205.5 791.4 L140.7 791.4 L140.7 650 L144.9 640 Z" fill="url(#c1lq)"/>
<path d="M144.9 598 L200.3 598 L203 630 L205.5 655 L205.5 791.4 L140.7 791.4 L140.7 650 L144.9 640 Z" fill="url(#c1sh)"/>
<path d="M201.1 598 L203.8 630 L206.3 655 L206.3 789.4" fill="none" stroke="#ffffff" stroke-width="1.3" opacity="0.7"/>
<path d="M140.5 598 L218 601" stroke="#ffffff" stroke-width="1.5" opacity="0.85" fill="none"/>
<path d="M140.5 599.2 L206.3 599.4" stroke="#8c9c86" stroke-width="0.7" opacity="0.8" fill="none"/>
<g transform="translate(170.88 568.45) rotate(-14.04)">
<path d="M-28.56 -10.87 Q-28.06 -13.87 -24.56 -14.17 L24.56 -14.17 Q28.06 -13.87 28.56 -10.87 L31.1 9.87 Q31.7 13.27 28.1 14.47 Q0 20.27 -28.1 14.47 Q-31.7 13.27 -31.1 9.87 Z" fill="url(#c1cp)"/>
<path d="M-29.1 -11.27 V15.37 M-27.15 -11.27 V15.37 M-25.2 -11.27 V15.37 M-23.25 -11.27 V15.37 M-21.3 -11.27 V15.37 M-19.35 -11.27 V15.37 M-17.4 -11.27 V15.37 M-15.45 -11.27 V15.37 M-13.5 -11.27 V15.37 M-11.55 -11.27 V15.37 M-9.6 -11.27 V15.37 M-7.65 -11.27 V15.37 M-5.7 -11.27 V15.37 M-3.75 -11.27 V15.37 M-1.8 -11.27 V15.37 M0.15 -11.27 V15.37 M2.1 -11.27 V15.37 M4.05 -11.27 V15.37 M6 -11.27 V15.37 M7.95 -11.27 V15.37 M9.9 -11.27 V15.37 M11.85 -11.27 V15.37 M13.8 -11.27 V15.37 M15.75 -11.27 V15.37 M17.7 -11.27 V15.37 M19.65 -11.27 V15.37 M21.6 -11.27 V15.37 M23.55 -11.27 V15.37 M25.5 -11.27 V15.37 M27.45 -11.27 V15.37 M29.4 -11.27 V15.37 " stroke="#0a7480" stroke-width="0.7" opacity="0.42" fill="none" clip-path="url(#c1cc)"/>
<path d="M-28.56 -10.87 Q-28.06 -13.87 -24.56 -14.17 L24.56 -14.17 Q28.06 -13.87 28.56 -10.87 L31.1 9.87 Q31.7 13.27 28.1 14.47 Q0 20.27 -28.1 14.47 Q-31.7 13.27 -31.1 9.87 Z" fill="url(#c1ch)"/>
<ellipse cx="0" cy="-12.97" rx="27.06" ry="1.9" fill="#69d5dd" opacity="0.9"/>
<path d="M-29.8 11.27 Q0 17.27 29.8 11.27" stroke="#38b4be" stroke-width="2.0" fill="none" opacity="0.9"/>
</g>
<path d="M176 606 q4.5 -1.5 9 0.5" stroke="#5a903b" stroke-width="1.2" fill="none" opacity="0.45" stroke-linecap="round"/>
<path d="M188 619 q4 -1.5 8 0.5" stroke="#5a903b" stroke-width="1.2" fill="none" opacity="0.45" stroke-linecap="round"/>
<path d="M170 624 q3 -1.5 6 0.5" stroke="#5a903b" stroke-width="1.2" fill="none" opacity="0.45" stroke-linecap="round"/>
</g>
<rect x="223.2" y="541" width="92.2" height="258.6" fill="url(#c2bg)"/>
<g clip-path="url(#c2p)">
<path d="M291.5 596 L313.3 601 L315.4 647 L315 775.7 L296.6 789.3 L290.3 789.3 L290.3 650 Z" fill="url(#c2rg)"/>
<path d="M291.5 596 L313.3 601 L315.4 647 L315 775.7 L296.6 789.3 L290.3 789.3 L290.3 650 Z" fill="none" stroke="#ffffff" stroke-width="1.4" opacity="0.75"/>
<path d="M313.3 601 L315.4 647 L315 775.7 L296.6 789.3 L290.3 789.3 L290.3 650" fill="none" stroke="#9fb09c" stroke-width="0.6" opacity="0.6"/>
<path d="M297 600 L314 650" stroke="#ffffff" stroke-width="1.6" opacity="0.8" fill="none"/>
<path d="M298 600 L315 650" stroke="#a9b8a6" stroke-width="0.6" opacity="0.7" fill="none"/>
<path d="M240.2 594.8 L243.2 594.8 L243.2 791.4 L230.7 790.4 L230.7 649 L240.2 614 Z" fill="#eaf3e1" opacity="0.9"/>
<path d="M240.2 594.8 L240.2 614 L230.7 649 L230.7 790.4" fill="none" stroke="#ffffff" stroke-width="1.2" opacity="0.9"/>
<path d="M239.4 594.8 L239.4 614 L229.9 649 L229.9 790.4" fill="none" stroke="#a8b4a4" stroke-width="0.5" opacity="0.7"/>
<path d="M253.72 583.14 L299.92 571.1 L300 596.3 L254 596.3 Z" fill="url(#c2nk)"/>
<path d="M253.87 590.38 L299.96 584.96 L300 596.3 L254 596.3 Z" fill="#c6e890" opacity="0.42"/>
<path d="M242.2 594.8 L291.3 595 L290.6 630 L290.3 650 L290.3 791.4 L233.8 791.4 L233.8 647 L242.2 620 Z" fill="url(#c2lq)"/>
<path d="M242.2 594.8 L291.3 595 L290.6 630 L290.3 650 L290.3 791.4 L233.8 791.4 L233.8 647 L242.2 620 Z" fill="url(#c2sh)"/>
<path d="M292.1 595 L291.4 630 L291.1 650 L291.1 789.4" fill="none" stroke="#ffffff" stroke-width="1.3" opacity="0.7"/>
<path d="M240.2 594.8 L313.3 601" stroke="#ffffff" stroke-width="1.5" opacity="0.85" fill="none"/>
<path d="M240.2 596 L297.3 596.2" stroke="#8c9c86" stroke-width="0.7" opacity="0.8" fill="none"/>
<g transform="translate(271.2 567.4) rotate(-13.83)">
<path d="M-26.27 -11.18 Q-25.77 -14.18 -22.27 -14.48 L22.27 -14.48 Q25.77 -14.18 26.27 -11.18 L28.67 10.18 Q29.27 13.58 25.67 14.78 Q0 20.58 -25.67 14.78 Q-29.27 13.58 -28.67 10.18 Z" fill="url(#c2cp)"/>
<path d="M-26.67 -11.58 V15.68 M-24.72 -11.58 V15.68 M-22.77 -11.58 V15.68 M-20.82 -11.58 V15.68 M-18.87 -11.58 V15.68 M-16.92 -11.58 V15.68 M-14.97 -11.58 V15.68 M-13.02 -11.58 V15.68 M-11.07 -11.58 V15.68 M-9.12 -11.58 V15.68 M-7.17 -11.58 V15.68 M-5.22 -11.58 V15.68 M-3.27 -11.58 V15.68 M-1.32 -11.58 V15.68 M0.63 -11.58 V15.68 M2.58 -11.58 V15.68 M4.53 -11.58 V15.68 M6.48 -11.58 V15.68 M8.43 -11.58 V15.68 M10.38 -11.58 V15.68 M12.33 -11.58 V15.68 M14.28 -11.58 V15.68 M16.23 -11.58 V15.68 M18.18 -11.58 V15.68 M20.13 -11.58 V15.68 M22.08 -11.58 V15.68 M24.03 -11.58 V15.68 M25.98 -11.58 V15.68 " stroke="#0a7480" stroke-width="0.7" opacity="0.42" fill="none" clip-path="url(#c2cc)"/>
<path d="M-26.27 -11.18 Q-25.77 -14.18 -22.27 -14.48 L22.27 -14.48 Q25.77 -14.18 26.27 -11.18 L28.67 10.18 Q29.27 13.58 25.67 14.78 Q0 20.58 -25.67 14.78 Q-29.27 13.58 -28.67 10.18 Z" fill="url(#c2ch)"/>
<ellipse cx="0" cy="-13.28" rx="24.77" ry="1.9" fill="#69d5dd" opacity="0.9"/>
<path d="M-27.37 11.58 Q0 17.58 27.37 11.58" stroke="#38b4be" stroke-width="2.0" fill="none" opacity="0.9"/>
</g>
<path d="M258 604 q4 -1.5 8 0.5" stroke="#62943c" stroke-width="1.2" fill="none" opacity="0.45" stroke-linecap="round"/>
<path d="M270 612 q3.5 -1.5 7 0.5" stroke="#62943c" stroke-width="1.2" fill="none" opacity="0.45" stroke-linecap="round"/>
<path d="M280 606 q3.5 -1.5 7 0.5" stroke="#62943c" stroke-width="1.2" fill="none" opacity="0.45" stroke-linecap="round"/>
</g>
<rect x="315.4" y="541" width="91.9" height="258.6" fill="url(#c3bg)"/>
<g clip-path="url(#c3p)">
<path d="M390 597 L407.3 600 L407.3 647 L407.3 772.6 L389.7 787.2 L385.5 787.2 L385.5 647 Z" fill="url(#c3rg)"/>
<path d="M390 597 L407.3 600 L407.3 647 L407.3 772.6 L389.7 787.2 L385.5 787.2 L385.5 647 Z" fill="none" stroke="#ffffff" stroke-width="1.4" opacity="0.75"/>
<path d="M407.3 600 L407.3 647 L407.3 772.6 L389.7 787.2 L385.5 787.2 L385.5 647" fill="none" stroke="#9fb09c" stroke-width="0.6" opacity="0.6"/>
<path d="M392 600 L406 640" stroke="#ffffff" stroke-width="1.6" opacity="0.8" fill="none"/>
<path d="M393 600 L407 640" stroke="#a9b8a6" stroke-width="0.6" opacity="0.7" fill="none"/>
<path d="M334.5 595.9 L337.4 595.9 L337.4 790.4 L326 789.4 L326 653 L334.5 614 Z" fill="#e5f1d7" opacity="0.9"/>
<path d="M334.5 595.9 L334.5 614 L326 653 L326 789.4" fill="none" stroke="#ffffff" stroke-width="1.2" opacity="0.9"/>
<path d="M333.7 595.9 L333.7 614 L325.2 653 L325.2 789.4" fill="none" stroke="#a8b4a4" stroke-width="0.5" opacity="0.7"/>
<path d="M349.13 584.14 L397.19 572.1 L397 597.4 L349 597.4 Z" fill="url(#c3nk)"/>
<path d="M349.06 591.43 L397.08 586.02 L397 597.4 L349 597.4 Z" fill="#c6e78f" opacity="0.42"/>
<path d="M336.4 595.9 L389.7 596 L387 625 L385.5 647 L385.5 790.4 L329 790.4 L329 651 L336.4 620 Z" fill="url(#c3lq)"/>
<path d="M336.4 595.9 L389.7 596 L387 625 L385.5 647 L385.5 790.4 L329 790.4 L329 651 L336.4 620 Z" fill="url(#c3sh)"/>
<path d="M390.5 596 L387.8 625 L386.3 647 L386.3 788.4" fill="none" stroke="#ffffff" stroke-width="1.3" opacity="0.7"/>
<path d="M334.5 595.9 L407.3 600" stroke="#ffffff" stroke-width="1.5" opacity="0.85" fill="none"/>
<path d="M334.5 597.1 L395.7 597.3" stroke="#8c9c86" stroke-width="0.7" opacity="0.8" fill="none"/>
<g transform="translate(366.68 567.65) rotate(-14.6)">
<path d="M-27.07 -12.16 Q-26.57 -15.16 -23.07 -15.46 L23.07 -15.46 Q26.57 -15.16 27.07 -12.16 L29.52 11.16 Q30.12 14.56 26.52 15.76 Q0 21.56 -26.52 15.76 Q-30.12 14.56 -29.52 11.16 Z" fill="url(#c3cp)"/>
<path d="M-27.52 -12.56 V16.66 M-25.57 -12.56 V16.66 M-23.62 -12.56 V16.66 M-21.67 -12.56 V16.66 M-19.72 -12.56 V16.66 M-17.77 -12.56 V16.66 M-15.82 -12.56 V16.66 M-13.87 -12.56 V16.66 M-11.92 -12.56 V16.66 M-9.97 -12.56 V16.66 M-8.02 -12.56 V16.66 M-6.07 -12.56 V16.66 M-4.12 -12.56 V16.66 M-2.17 -12.56 V16.66 M-0.22 -12.56 V16.66 M1.73 -12.56 V16.66 M3.68 -12.56 V16.66 M5.63 -12.56 V16.66 M7.58 -12.56 V16.66 M9.53 -12.56 V16.66 M11.48 -12.56 V16.66 M13.43 -12.56 V16.66 M15.38 -12.56 V16.66 M17.33 -12.56 V16.66 M19.28 -12.56 V16.66 M21.23 -12.56 V16.66 M23.18 -12.56 V16.66 M25.13 -12.56 V16.66 M27.08 -12.56 V16.66 " stroke="#0a7480" stroke-width="0.7" opacity="0.42" fill="none" clip-path="url(#c3cc)"/>
<path d="M-27.07 -12.16 Q-26.57 -15.16 -23.07 -15.46 L23.07 -15.46 Q26.57 -15.16 27.07 -12.16 L29.52 11.16 Q30.12 14.56 26.52 15.76 Q0 21.56 -26.52 15.76 Q-30.12 14.56 -29.52 11.16 Z" fill="url(#c3ch)"/>
<ellipse cx="0" cy="-14.26" rx="25.57" ry="1.9" fill="#69d5dd" opacity="0.9"/>
<path d="M-28.22 12.56 Q0 18.56 28.22 12.56" stroke="#38b4be" stroke-width="2.0" fill="none" opacity="0.9"/>
</g>
<path d="M352 606 q4 -1.5 8 0.5" stroke="#62933b" stroke-width="1.2" fill="none" opacity="0.45" stroke-linecap="round"/>
<path d="M364 613 q3.5 -1.5 7 0.5" stroke="#62933b" stroke-width="1.2" fill="none" opacity="0.45" stroke-linecap="round"/>
<path d="M375 607 q3 -1.5 6 0.5" stroke="#62933b" stroke-width="1.2" fill="none" opacity="0.45" stroke-linecap="round"/>
</g>
<rect x="407.3" y="541" width="90.7" height="258.6" fill="url(#c4bg)"/>
<g clip-path="url(#c4p)">
<path d="M478 598 L498 601 L498 647 L498 774.7 L480.7 788.3 L475.5 788.3 L475.5 647 Z" fill="url(#c4rg)"/>
<path d="M478 598 L498 601 L498 647 L498 774.7 L480.7 788.3 L475.5 788.3 L475.5 647 Z" fill="none" stroke="#ffffff" stroke-width="1.4" opacity="0.75"/>
<path d="M498 601 L498 647 L498 774.7 L480.7 788.3 L475.5 788.3 L475.5 647" fill="none" stroke="#9fb09c" stroke-width="0.6" opacity="0.6"/>
<path d="M481 600 L498 650" stroke="#ffffff" stroke-width="1.6" opacity="0.8" fill="none"/>
<path d="M482 600 L499 650" stroke="#a9b8a6" stroke-width="0.6" opacity="0.7" fill="none"/>
<path d="M421.3 597 L424.2 597 L424.2 791.4 L412.6 790.4 L412.6 652 L421.3 616 Z" fill="#e1f0c9" opacity="0.9"/>
<path d="M421.3 597 L421.3 616 L412.6 652 L412.6 790.4" fill="none" stroke="#ffffff" stroke-width="1.2" opacity="0.9"/>
<path d="M420.5 597 L420.5 616 L411.8 652 L411.8 790.4" fill="none" stroke="#a8b4a4" stroke-width="0.5" opacity="0.7"/>
<path d="M437.24 585.24 L487.15 573.2 L487 598.5 L437 598.5 Z" fill="url(#c4nk)"/>
<path d="M437.11 592.53 L487.07 587.12 L487 598.5 L437 598.5 Z" fill="#ceea99" opacity="0.42"/>
<path d="M423.2 597 L477.6 597 L476.3 625 L475.5 647 L475.5 791.4 L415.9 791.4 L415.9 650 L423.2 622 Z" fill="url(#c4lq)"/>
<path d="M423.2 597 L477.6 597 L476.3 625 L475.5 647 L475.5 791.4 L415.9 791.4 L415.9 650 L423.2 622 Z" fill="url(#c4sh)"/>
<path d="M478.4 597 L477.1 625 L476.3 647 L476.3 789.4" fill="none" stroke="#ffffff" stroke-width="1.3" opacity="0.7"/>
<path d="M421.3 597 L498 601" stroke="#ffffff" stroke-width="1.5" opacity="0.85" fill="none"/>
<path d="M421.3 598.2 L483.6 598.4" stroke="#8c9c86" stroke-width="0.7" opacity="0.8" fill="none"/>
<g transform="translate(455.38 568.45) rotate(-13.3)">
<path d="M-27.77 -12.56 Q-27.27 -15.56 -23.77 -15.86 L23.77 -15.86 Q27.27 -15.56 27.77 -12.56 L30.27 11.56 Q30.87 14.96 27.27 16.16 Q0 21.96 -27.27 16.16 Q-30.87 14.96 -30.27 11.56 Z" fill="url(#c4cp)"/>
<path d="M-28.27 -12.96 V17.06 M-26.32 -12.96 V17.06 M-24.37 -12.96 V17.06 M-22.42 -12.96 V17.06 M-20.47 -12.96 V17.06 M-18.52 -12.96 V17.06 M-16.57 -12.96 V17.06 M-14.62 -12.96 V17.06 M-12.67 -12.96 V17.06 M-10.72 -12.96 V17.06 M-8.77 -12.96 V17.06 M-6.82 -12.96 V17.06 M-4.87 -12.96 V17.06 M-2.92 -12.96 V17.06 M-0.97 -12.96 V17.06 M0.98 -12.96 V17.06 M2.93 -12.96 V17.06 M4.88 -12.96 V17.06 M6.83 -12.96 V17.06 M8.78 -12.96 V17.06 M10.73 -12.96 V17.06 M12.68 -12.96 V17.06 M14.63 -12.96 V17.06 M16.58 -12.96 V17.06 M18.53 -12.96 V17.06 M20.48 -12.96 V17.06 M22.43 -12.96 V17.06 M24.38 -12.96 V17.06 M26.33 -12.96 V17.06 M28.28 -12.96 V17.06 " stroke="#0a7480" stroke-width="0.7" opacity="0.42" fill="none" clip-path="url(#c4cc)"/>
<path d="M-27.77 -12.56 Q-27.27 -15.56 -23.77 -15.86 L23.77 -15.86 Q27.27 -15.56 27.77 -12.56 L30.27 11.56 Q30.87 14.96 27.27 16.16 Q0 21.96 -27.27 16.16 Q-30.87 14.96 -30.27 11.56 Z" fill="url(#c4ch)"/>
<ellipse cx="0" cy="-14.66" rx="26.27" ry="1.9" fill="#69d5dd" opacity="0.9"/>
<path d="M-28.97 12.96 Q0 18.96 28.97 12.96" stroke="#38b4be" stroke-width="2.0" fill="none" opacity="0.9"/>
</g>
<path d="M440 607 q4 -1.5 8 0.5" stroke="#679542" stroke-width="1.2" fill="none" opacity="0.45" stroke-linecap="round"/>
<path d="M452 613 q3.5 -1.5 7 0.5" stroke="#679542" stroke-width="1.2" fill="none" opacity="0.45" stroke-linecap="round"/>
<path d="M463 608 q3 -1.5 6 0.5" stroke="#679542" stroke-width="1.2" fill="none" opacity="0.45" stroke-linecap="round"/>
</g>
<path d="M132.5 541 V799.6 M223.2 541 V799.6 M315.4 541 V799.6 M407.3 541 V799.6 " stroke="#f4f4f4" stroke-width="1" opacity="0.9" fill="none"/>
</g></g>
<g id="photoE" clip-path="url(#photoEclip)"><g filter="url(#soft)">
<rect x="34" y="994.8" width="468" height="268.9" fill="url(#photoEug)"/>
<rect x="38" y="998.8" width="92" height="260.9" fill="url(#e0bg)"/>
<rect x="38" y="1231.5" width="12.5" height="20" fill="url(#e0pt)"/>
<g clip-path="url(#e0p)">
<path d="M113 1058 L125 1058.5 L125 1107 L125 1247 L120 1249 L118.7 1249 L118.7 1107 Z" fill="url(#e0rg)"/>
<path d="M113 1058 L125 1058.5 L125 1107 L125 1247 L120 1249 L118.7 1249 L118.7 1107 Z" fill="none" stroke="#ffffff" stroke-width="1.4" opacity="0.75"/>
<path d="M125 1058.5 L125 1107 L125 1247 L120 1249 L118.7 1249 L118.7 1107" fill="none" stroke="#9fb09c" stroke-width="0.6" opacity="0.6"/>
<path d="M50.5 1056.9 L54.2 1056.9 L54.2 1251.4 L50.5 1250.4 L50.5 1081 L50.5 1070 Z" fill="#f8f9f6" opacity="0.9"/>
<path d="M50.5 1056.9 L50.5 1070 L50.5 1081 L50.5 1250.4" fill="none" stroke="#ffffff" stroke-width="1.2" opacity="0.9"/>
<path d="M49.7 1056.9 L49.7 1070 L49.7 1081 L49.7 1250.4" fill="none" stroke="#a8b4a4" stroke-width="0.5" opacity="0.7"/>
<path d="M56.16 1043.03 L109.79 1030.02 L110.5 1058.4 L58.5 1058.4 Z" fill="url(#e0nk)"/>
<path d="M57.45 1051.48 L110.18 1045.63 L110.5 1058.4 L58.5 1058.4 Z" fill="#abe088" opacity="0.45"/>
<path d="M53.2 1056.9 L112.8 1057 L112.8 1078 L118.7 1107 L118.7 1251.4 L56.4 1251.4 L56.4 1079 L53.2 1076 Z" fill="url(#e0lq)"/>
<path d="M53.2 1056.9 L112.8 1057 L112.8 1078 L118.7 1107 L118.7 1251.4 L56.4 1251.4 L56.4 1079 L53.2 1076 Z" fill="url(#e0sh)"/>
<path d="M113.6 1057 L113.6 1078 L119.5 1107 L119.5 1249.4" fill="none" stroke="#ffffff" stroke-width="1.3" opacity="0.7"/>
<path d="M50.5 1056.9 L125 1058.5" stroke="#ffffff" stroke-width="1.5" opacity="0.85" fill="none"/>
<path d="M50.5 1058.1 L118.8 1058.3" stroke="#8c9c86" stroke-width="0.7" opacity="0.8" fill="none"/>
<g transform="translate(76.85 1026.88) rotate(-13.15)">
<path d="M-30.07 -11.21 Q-29.57 -14.21 -26.07 -14.51 L26.07 -14.51 Q29.57 -14.21 30.07 -11.21 L32.71 10.21 Q33.31 13.61 29.71 14.81 Q0 20.61 -29.71 14.81 Q-33.31 13.61 -32.71 10.21 Z" fill="url(#e0cp)"/>
<path d="M-30.71 -11.61 V15.71 M-28.76 -11.61 V15.71 M-26.81 -11.61 V15.71 M-24.86 -11.61 V15.71 M-22.91 -11.61 V15.71 M-20.96 -11.61 V15.71 M-19.01 -11.61 V15.71 M-17.06 -11.61 V15.71 M-15.11 -11.61 V15.71 M-13.16 -11.61 V15.71 M-11.21 -11.61 V15.71 M-9.26 -11.61 V15.71 M-7.31 -11.61 V15.71 M-5.36 -11.61 V15.71 M-3.41 -11.61 V15.71 M-1.46 -11.61 V15.71 M0.49 -11.61 V15.71 M2.44 -11.61 V15.71 M4.39 -11.61 V15.71 M6.34 -11.61 V15.71 M8.29 -11.61 V15.71 M10.24 -11.61 V15.71 M12.19 -11.61 V15.71 M14.14 -11.61 V15.71 M16.09 -11.61 V15.71 M18.04 -11.61 V15.71 M19.99 -11.61 V15.71 M21.94 -11.61 V15.71 M23.89 -11.61 V15.71 M25.84 -11.61 V15.71 M27.79 -11.61 V15.71 M29.74 -11.61 V15.71 " stroke="#0a7480" stroke-width="0.7" opacity="0.42" fill="none" clip-path="url(#e0cc)"/>
<path d="M-30.07 -11.21 Q-29.57 -14.21 -26.07 -14.51 L26.07 -14.51 Q29.57 -14.21 30.07 -11.21 L32.71 10.21 Q33.31 13.61 29.71 14.81 Q0 20.61 -29.71 14.81 Q-33.31 13.61 -32.71 10.21 Z" fill="url(#e0ch)"/>
<ellipse cx="0" cy="-13.31" rx="28.57" ry="1.9" fill="#6bd7df" opacity="0.9"/>
<path d="M-31.41 11.61 Q0 17.61 31.41 11.61" stroke="#39b6c0" stroke-width="2.0" fill="none" opacity="0.9"/>
</g>
</g>
<rect x="130" y="998.8" width="92.6" height="260.9" fill="url(#e1bg)"/>
<g clip-path="url(#e1p)">
<path d="M203 1055 L215.8 1055.5 L215.8 1109 L215.8 1248 L212 1250 L210.3 1250 L210.3 1109 Z" fill="url(#e1rg)"/>
<path d="M203 1055 L215.8 1055.5 L215.8 1109 L215.8 1248 L212 1250 L210.3 1250 L210.3 1109 Z" fill="none" stroke="#ffffff" stroke-width="1.4" opacity="0.75"/>
<path d="M215.8 1055.5 L215.8 1109 L215.8 1248 L212 1250 L210.3 1250 L210.3 1109" fill="none" stroke="#9fb09c" stroke-width="0.6" opacity="0.6"/>
<path d="M140.9 1053.8 L145 1053.8 L145 1252.4 L140.9 1251.4 L140.9 1086 L140.9 1074 Z" fill="#f8f8f5" opacity="0.9"/>
<path d="M140.9 1053.8 L140.9 1074 L140.9 1086 L140.9 1251.4" fill="none" stroke="#ffffff" stroke-width="1.2" opacity="0.9"/>
<path d="M140.1 1053.8 L140.1 1074 L140.1 1086 L140.1 1251.4" fill="none" stroke="#a8b4a4" stroke-width="0.5" opacity="0.7"/>
<path d="M146.92 1041.94 L200.2 1029.02 L201 1055.3 L148.5 1055.3 Z" fill="url(#e1nk)"/>
<path d="M147.79 1049.29 L200.64 1043.47 L201 1055.3 L148.5 1055.3 Z" fill="#e6e89d" opacity="0.45"/>
<path d="M144 1053.8 L202.6 1054 L205.7 1082 L210.3 1109 L210.3 1252.4 L144 1252.4 L144 1084 L144 1080 Z" fill="url(#e1lq)"/>
<path d="M144 1053.8 L202.6 1054 L205.7 1082 L210.3 1109 L210.3 1252.4 L144 1252.4 L144 1084 L144 1080 Z" fill="url(#e1sh)"/>
<path d="M203.4 1054 L206.5 1082 L211.1 1109 L211.1 1250.4" fill="none" stroke="#ffffff" stroke-width="1.3" opacity="0.7"/>
<path d="M140.9 1053.8 L215.8 1055.5" stroke="#ffffff" stroke-width="1.5" opacity="0.85" fill="none"/>
<path d="M140.9 1055 L208.6 1055.2" stroke="#8c9c86" stroke-width="0.7" opacity="0.8" fill="none"/>
<g transform="translate(167.17 1026.07) rotate(-14.34)">
<path d="M-29.87 -11.04 Q-29.37 -14.04 -25.87 -14.34 L25.87 -14.34 Q29.37 -14.04 29.87 -11.04 L32.49 10.04 Q33.09 13.44 29.49 14.64 Q0 20.44 -29.49 14.64 Q-33.09 13.44 -32.49 10.04 Z" fill="url(#e1cp)"/>
<path d="M-30.49 -11.44 V15.54 M-28.54 -11.44 V15.54 M-26.59 -11.44 V15.54 M-24.64 -11.44 V15.54 M-22.69 -11.44 V15.54 M-20.74 -11.44 V15.54 M-18.79 -11.44 V15.54 M-16.84 -11.44 V15.54 M-14.89 -11.44 V15.54 M-12.94 -11.44 V15.54 M-10.99 -11.44 V15.54 M-9.04 -11.44 V15.54 M-7.09 -11.44 V15.54 M-5.14 -11.44 V15.54 M-3.19 -11.44 V15.54 M-1.24 -11.44 V15.54 M0.71 -11.44 V15.54 M2.66 -11.44 V15.54 M4.61 -11.44 V15.54 M6.56 -11.44 V15.54 M8.51 -11.44 V15.54 M10.46 -11.44 V15.54 M12.41 -11.44 V15.54 M14.36 -11.44 V15.54 M16.31 -11.44 V15.54 M18.26 -11.44 V15.54 M20.21 -11.44 V15.54 M22.16 -11.44 V15.54 M24.11 -11.44 V15.54 M26.06 -11.44 V15.54 M28.01 -11.44 V15.54 M29.96 -11.44 V15.54 " stroke="#0a7480" stroke-width="0.7" opacity="0.42" fill="none" clip-path="url(#e1cc)"/>
<path d="M-29.87 -11.04 Q-29.37 -14.04 -25.87 -14.34 L25.87 -14.34 Q29.37 -14.04 29.87 -11.04 L32.49 10.04 Q33.09 13.44 29.49 14.64 Q0 20.44 -29.49 14.64 Q-33.09 13.44 -32.49 10.04 Z" fill="url(#e1ch)"/>
<ellipse cx="0" cy="-13.14" rx="28.37" ry="1.9" fill="#6bd7df" opacity="0.9"/>
<path d="M-31.19 11.44 Q0 17.44 31.19 11.44" stroke="#39b6c0" stroke-width="2.0" fill="none" opacity="0.9"/>
</g>
</g>
<rect x="222.6" y="998.8" width="91.4" height="260.9" fill="url(#e2bg)"/>
<g clip-path="url(#e2p)">
<path d="M293 1056 L310.3 1056.5 L310.3 1107 L310.3 1248 L304 1251 L301.5 1251 L301.5 1107 Z" fill="url(#e2rg)"/>
<path d="M293 1056 L310.3 1056.5 L310.3 1107 L310.3 1248 L304 1251 L301.5 1251 L301.5 1107 Z" fill="none" stroke="#ffffff" stroke-width="1.4" opacity="0.75"/>
<path d="M310.3 1056.5 L310.3 1107 L310.3 1248 L304 1251 L301.5 1251 L301.5 1107" fill="none" stroke="#9fb09c" stroke-width="0.6" opacity="0.6"/>
<path d="M237 1054.4 L240.2 1054.4 L240.2 1253 L230.4 1252 L230.4 1101 L237 1074 Z" fill="#f9faf3" opacity="0.9"/>
<path d="M237 1054.4 L237 1074 L230.4 1101 L230.4 1252" fill="none" stroke="#ffffff" stroke-width="1.2" opacity="0.9"/>
<path d="M236.2 1054.4 L236.2 1074 L229.6 1101 L229.6 1252" fill="none" stroke="#a8b4a4" stroke-width="0.5" opacity="0.7"/>
<path d="M239.01 1041.83 L293.08 1027.94 L293.5 1055.9 L241 1055.9 Z" fill="url(#e2nk)"/>
<path d="M240.1 1049.57 L293.31 1043.32 L293.5 1055.9 L241 1055.9 Z" fill="#ece88c" opacity="0.45"/>
<path d="M239.2 1054.4 L292.5 1055 L297.7 1082 L301.5 1107 L301.5 1253 L234 1253 L234 1099 L239.2 1080 Z" fill="url(#e2lq)"/>
<path d="M239.2 1054.4 L292.5 1055 L297.7 1082 L301.5 1107 L301.5 1253 L234 1253 L234 1099 L239.2 1080 Z" fill="url(#e2sh)"/>
<path d="M293.3 1055 L298.5 1082 L302.3 1107 L302.3 1251" fill="none" stroke="#ffffff" stroke-width="1.3" opacity="0.7"/>
<path d="M237 1054.4 L310.3 1056.5" stroke="#ffffff" stroke-width="1.5" opacity="0.85" fill="none"/>
<path d="M237 1055.6 L298.5 1055.8" stroke="#8c9c86" stroke-width="0.7" opacity="0.8" fill="none"/>
<g transform="translate(259.3 1024.65) rotate(-14.62)">
<path d="M-30.27 -12.02 Q-29.77 -15.02 -26.27 -15.32 L26.27 -15.32 Q29.77 -15.02 30.27 -12.02 L32.91 11.02 Q33.51 14.42 29.91 15.62 Q0 21.42 -29.91 15.62 Q-33.51 14.42 -32.91 11.02 Z" fill="url(#e2cp)"/>
<path d="M-30.91 -12.42 V16.52 M-28.96 -12.42 V16.52 M-27.01 -12.42 V16.52 M-25.06 -12.42 V16.52 M-23.11 -12.42 V16.52 M-21.16 -12.42 V16.52 M-19.21 -12.42 V16.52 M-17.26 -12.42 V16.52 M-15.31 -12.42 V16.52 M-13.36 -12.42 V16.52 M-11.41 -12.42 V16.52 M-9.46 -12.42 V16.52 M-7.51 -12.42 V16.52 M-5.56 -12.42 V16.52 M-3.61 -12.42 V16.52 M-1.66 -12.42 V16.52 M0.29 -12.42 V16.52 M2.24 -12.42 V16.52 M4.19 -12.42 V16.52 M6.14 -12.42 V16.52 M8.09 -12.42 V16.52 M10.04 -12.42 V16.52 M11.99 -12.42 V16.52 M13.94 -12.42 V16.52 M15.89 -12.42 V16.52 M17.84 -12.42 V16.52 M19.79 -12.42 V16.52 M21.74 -12.42 V16.52 M23.69 -12.42 V16.52 M25.64 -12.42 V16.52 M27.59 -12.42 V16.52 M29.54 -12.42 V16.52 " stroke="#0a7480" stroke-width="0.7" opacity="0.42" fill="none" clip-path="url(#e2cc)"/>
<path d="M-30.27 -12.02 Q-29.77 -15.02 -26.27 -15.32 L26.27 -15.32 Q29.77 -15.02 30.27 -12.02 L32.91 11.02 Q33.51 14.42 29.91 15.62 Q0 21.42 -29.91 15.62 Q-33.51 14.42 -32.91 11.02 Z" fill="url(#e2ch)"/>
<ellipse cx="0" cy="-14.12" rx="28.77" ry="1.9" fill="#6bd7df" opacity="0.9"/>
<path d="M-31.61 12.42 Q0 18.42 31.61 12.42" stroke="#39b6c0" stroke-width="2.0" fill="none" opacity="0.9"/>
</g>
</g>
<rect x="314" y="998.8" width="91.4" height="260.9" fill="url(#e3bg)"/>
<g clip-path="url(#e3p)">
<path d="M383 1056 L402.3 1056.5 L402.3 1107 L402.3 1245 L393 1249 L388.7 1249 L388.7 1107 Z" fill="url(#e3rg)"/>
<path d="M383 1056 L402.3 1056.5 L402.3 1107 L402.3 1245 L393 1249 L388.7 1249 L388.7 1107 Z" fill="none" stroke="#ffffff" stroke-width="1.4" opacity="0.75"/>
<path d="M402.3 1056.5 L402.3 1107 L402.3 1245 L393 1249 L388.7 1249 L388.7 1107" fill="none" stroke="#9fb09c" stroke-width="0.6" opacity="0.6"/>
<path d="M386 1060 L401 1108" stroke="#ffffff" stroke-width="1.6" opacity="0.8" fill="none"/>
<path d="M387 1060 L402 1108" stroke="#a9b8a6" stroke-width="0.6" opacity="0.7" fill="none"/>
<path d="M328 1054.8 L331.1 1054.8 L331.1 1250.3 L320.7 1249.3 L320.7 1101 L328 1079 Z" fill="#f9faf0" opacity="0.9"/>
<path d="M328 1054.8 L328 1079 L320.7 1101 L320.7 1249.3" fill="none" stroke="#ffffff" stroke-width="1.2" opacity="0.9"/>
<path d="M327.2 1054.8 L327.2 1079 L319.9 1101 L319.9 1249.3" fill="none" stroke="#a8b4a4" stroke-width="0.5" opacity="0.7"/>
<path d="M331.91 1042.93 L384.21 1029.04 L385 1056.3 L333 1056.3 Z" fill="url(#e3nk)"/>
<path d="M332.51 1050.28 L384.65 1044.03 L385 1056.3 L333 1056.3 Z" fill="#efe885" opacity="0.45"/>
<path d="M330.1 1054.8 L382.4 1055 L385.5 1082 L388.7 1107 L388.7 1250.3 L323.2 1250.3 L323.2 1099 L330.1 1085 Z" fill="url(#e3lq)"/>
<path d="M330.1 1054.8 L382.4 1055 L385.5 1082 L388.7 1107 L388.7 1250.3 L323.2 1250.3 L323.2 1099 L330.1 1085 Z" fill="url(#e3sh)"/>
<path d="M383.2 1055 L386.3 1082 L389.5 1107 L389.5 1248.3" fill="none" stroke="#ffffff" stroke-width="1.3" opacity="0.7"/>
<path d="M328 1054.8 L402.3 1056.5" stroke="#ffffff" stroke-width="1.5" opacity="0.85" fill="none"/>
<path d="M328 1056 L388.4 1056.2" stroke="#8c9c86" stroke-width="0.7" opacity="0.8" fill="none"/>
<g transform="translate(351.58 1026.35) rotate(-14.46)">
<path d="M-29.55 -11.36 Q-29.05 -14.36 -25.55 -14.66 L25.55 -14.66 Q29.05 -14.36 29.55 -11.36 L32.15 10.36 Q32.75 13.76 29.15 14.96 Q0 20.76 -29.15 14.96 Q-32.75 13.76 -32.15 10.36 Z" fill="url(#e3cp)"/>
<path d="M-30.15 -11.76 V15.86 M-28.2 -11.76 V15.86 M-26.25 -11.76 V15.86 M-24.3 -11.76 V15.86 M-22.35 -11.76 V15.86 M-20.4 -11.76 V15.86 M-18.45 -11.76 V15.86 M-16.5 -11.76 V15.86 M-14.55 -11.76 V15.86 M-12.6 -11.76 V15.86 M-10.65 -11.76 V15.86 M-8.7 -11.76 V15.86 M-6.75 -11.76 V15.86 M-4.8 -11.76 V15.86 M-2.85 -11.76 V15.86 M-0.9 -11.76 V15.86 M1.05 -11.76 V15.86 M3 -11.76 V15.86 M4.95 -11.76 V15.86 M6.9 -11.76 V15.86 M8.85 -11.76 V15.86 M10.8 -11.76 V15.86 M12.75 -11.76 V15.86 M14.7 -11.76 V15.86 M16.65 -11.76 V15.86 M18.6 -11.76 V15.86 M20.55 -11.76 V15.86 M22.5 -11.76 V15.86 M24.45 -11.76 V15.86 M26.4 -11.76 V15.86 M28.35 -11.76 V15.86 M30.3 -11.76 V15.86 " stroke="#0a7480" stroke-width="0.7" opacity="0.42" fill="none" clip-path="url(#e3cc)"/>
<path d="M-29.55 -11.36 Q-29.05 -14.36 -25.55 -14.66 L25.55 -14.66 Q29.05 -14.36 29.55 -11.36 L32.15 10.36 Q32.75 13.76 29.15 14.96 Q0 20.76 -29.15 14.96 Q-32.75 13.76 -32.15 10.36 Z" fill="url(#e3ch)"/>
<ellipse cx="0" cy="-13.46" rx="28.05" ry="1.9" fill="#6bd7df" opacity="0.9"/>
<path d="M-30.85 11.76 Q0 17.76 30.85 11.76" stroke="#39b6c0" stroke-width="2.0" fill="none" opacity="0.9"/>
</g>
</g>
<rect x="405.4" y="998.8" width="92.6" height="260.9" fill="url(#e4bg)"/>
<g clip-path="url(#e4p)">
<path d="M477 1056 L498 1056.5 L498 1107 L498 1246 L487 1250 L482.2 1250 L482.2 1107 Z" fill="url(#e4rg)"/>
<path d="M477 1056 L498 1056.5 L498 1107 L498 1246 L487 1250 L482.2 1250 L482.2 1107 Z" fill="none" stroke="#ffffff" stroke-width="1.4" opacity="0.75"/>
<path d="M498 1056.5 L498 1107 L498 1246 L487 1250 L482.2 1250 L482.2 1107" fill="none" stroke="#9fb09c" stroke-width="0.6" opacity="0.6"/>
<path d="M480 1060 L498 1104" stroke="#ffffff" stroke-width="1.6" opacity="0.8" fill="none"/>
<path d="M481 1060 L499 1104" stroke="#a9b8a6" stroke-width="0.6" opacity="0.7" fill="none"/>
<path d="M419 1054.4 L422.1 1054.4 L422.1 1251.4 L410.6 1250.4 L410.6 1101 L419 1079 Z" fill="#fafaf0" opacity="0.9"/>
<path d="M419 1054.4 L419 1079 L410.6 1101 L410.6 1250.4" fill="none" stroke="#ffffff" stroke-width="1.2" opacity="0.9"/>
<path d="M418.2 1054.4 L418.2 1079 L409.8 1101 L409.8 1250.4" fill="none" stroke="#a8b4a4" stroke-width="0.5" opacity="0.7"/>
<path d="M423.38 1041.83 L480.73 1027.94 L481.5 1055.9 L424 1055.9 Z" fill="url(#e4nk)"/>
<path d="M423.72 1049.57 L481.15 1043.32 L481.5 1055.9 L424 1055.9 Z" fill="#f0e894" opacity="0.45"/>
<path d="M421.1 1054.4 L476.5 1055 L479.5 1082 L482.2 1107 L482.2 1251.4 L413.8 1251.4 L413.8 1099 L421.1 1085 Z" fill="url(#e4lq)"/>
<path d="M421.1 1054.4 L476.5 1055 L479.5 1082 L482.2 1107 L482.2 1251.4 L413.8 1251.4 L413.8 1099 L421.1 1085 Z" fill="url(#e4sh)"/>
<path d="M477.3 1055 L480.3 1082 L483 1107 L483 1249.4" fill="none" stroke="#ffffff" stroke-width="1.3" opacity="0.7"/>
<path d="M419 1054.4 L498 1056.5" stroke="#ffffff" stroke-width="1.5" opacity="0.85" fill="none"/>
<path d="M419 1055.6 L482.5 1055.8" stroke="#8c9c86" stroke-width="0.7" opacity="0.8" fill="none"/>
<g transform="translate(445.02 1024.75) rotate(-13.53)">
<path d="M-31.89 -11.97 Q-31.39 -14.97 -27.89 -15.27 L27.89 -15.27 Q31.39 -14.97 31.89 -11.97 L34.64 10.97 Q35.24 14.37 31.64 15.57 Q0 21.37 -31.64 15.57 Q-35.24 14.37 -34.64 10.97 Z" fill="url(#e4cp)"/>
<path d="M-32.64 -12.37 V16.47 M-30.69 -12.37 V16.47 M-28.74 -12.37 V16.47 M-26.79 -12.37 V16.47 M-24.84 -12.37 V16.47 M-22.89 -12.37 V16.47 M-20.94 -12.37 V16.47 M-18.99 -12.37 V16.47 M-17.04 -12.37 V16.47 M-15.09 -12.37 V16.47 M-13.14 -12.37 V16.47 M-11.19 -12.37 V16.47 M-9.24 -12.37 V16.47 M-7.29 -12.37 V16.47 M-5.34 -12.37 V16.47 M-3.39 -12.37 V16.47 M-1.44 -12.37 V16.47 M0.51 -12.37 V16.47 M2.46 -12.37 V16.47 M4.41 -12.37 V16.47 M6.36 -12.37 V16.47 M8.31 -12.37 V16.47 M10.26 -12.37 V16.47 M12.21 -12.37 V16.47 M14.16 -12.37 V16.47 M16.11 -12.37 V16.47 M18.06 -12.37 V16.47 M20.01 -12.37 V16.47 M21.96 -12.37 V16.47 M23.91 -12.37 V16.47 M25.86 -12.37 V16.47 M27.81 -12.37 V16.47 M29.76 -12.37 V16.47 M31.71 -12.37 V16.47 " stroke="#0a7480" stroke-width="0.7" opacity="0.42" fill="none" clip-path="url(#e4cc)"/>
<path d="M-31.89 -11.97 Q-31.39 -14.97 -27.89 -15.27 L27.89 -15.27 Q31.39 -14.97 31.89 -11.97 L34.64 10.97 Q35.24 14.37 31.64 15.57 Q0 21.37 -31.64 15.57 Q-35.24 14.37 -34.64 10.97 Z" fill="url(#e4ch)"/>
<ellipse cx="0" cy="-14.07" rx="30.39" ry="1.9" fill="#6bd7df" opacity="0.9"/>
<path d="M-33.34 12.37 Q0 18.37 33.34 12.37" stroke="#39b6c0" stroke-width="2.0" fill="none" opacity="0.9"/>
</g>
</g>
<path d="M130 998.8 V1259.7 M222.6 998.8 V1259.7 M314 998.8 V1259.7 M405.4 998.8 V1259.7 " stroke="#f6f6f6" stroke-width="1" opacity="0.9" fill="none"/>
</g><g opacity="0.55">
<rect x="34" y="994.8" width="468" height="268.9" fill="url(#photoEug)"/>
<rect x="38" y="998.8" width="92" height="260.9" fill="url(#e0bg)"/>
<rect x="38" y="1231.5" width="12.5" height="20" fill="url(#e0pt)"/>
<g clip-path="url(#e0p)">
<path d="M113 1058 L125 1058.5 L125 1107 L125 1247 L120 1249 L118.7 1249 L118.7 1107 Z" fill="url(#e0rg)"/>
<path d="M113 1058 L125 1058.5 L125 1107 L125 1247 L120 1249 L118.7 1249 L118.7 1107 Z" fill="none" stroke="#ffffff" stroke-width="1.4" opacity="0.75"/>
<path d="M125 1058.5 L125 1107 L125 1247 L120 1249 L118.7 1249 L118.7 1107" fill="none" stroke="#9fb09c" stroke-width="0.6" opacity="0.6"/>
<path d="M50.5 1056.9 L54.2 1056.9 L54.2 1251.4 L50.5 1250.4 L50.5 1081 L50.5 1070 Z" fill="#f8f9f6" opacity="0.9"/>
<path d="M50.5 1056.9 L50.5 1070 L50.5 1081 L50.5 1250.4" fill="none" stroke="#ffffff" stroke-width="1.2" opacity="0.9"/>
<path d="M49.7 1056.9 L49.7 1070 L49.7 1081 L49.7 1250.4" fill="none" stroke="#a8b4a4" stroke-width="0.5" opacity="0.7"/>
<path d="M56.16 1043.03 L109.79 1030.02 L110.5 1058.4 L58.5 1058.4 Z" fill="url(#e0nk)"/>
<path d="M57.45 1051.48 L110.18 1045.63 L110.5 1058.4 L58.5 1058.4 Z" fill="#abe088" opacity="0.45"/>
<path d="M53.2 1056.9 L112.8 1057 L112.8 1078 L118.7 1107 L118.7 1251.4 L56.4 1251.4 L56.4 1079 L53.2 1076 Z" fill="url(#e0lq)"/>
<path d="M53.2 1056.9 L112.8 1057 L112.8 1078 L118.7 1107 L118.7 1251.4 L56.4 1251.4 L56.4 1079 L53.2 1076 Z" fill="url(#e0sh)"/>
<path d="M113.6 1057 L113.6 1078 L119.5 1107 L119.5 1249.4" fill="none" stroke="#ffffff" stroke-width="1.3" opacity="0.7"/>
<path d="M50.5 1056.9 L125 1058.5" stroke="#ffffff" stroke-width="1.5" opacity="0.85" fill="none"/>
<path d="M50.5 1058.1 L118.8 1058.3" stroke="#8c9c86" stroke-width="0.7" opacity="0.8" fill="none"/>
<g transform="translate(76.85 1026.88) rotate(-13.15)">
<path d="M-30.07 -11.21 Q-29.57 -14.21 -26.07 -14.51 L26.07 -14.51 Q29.57 -14.21 30.07 -11.21 L32.71 10.21 Q33.31 13.61 29.71 14.81 Q0 20.61 -29.71 14.81 Q-33.31 13.61 -32.71 10.21 Z" fill="url(#e0cp)"/>
<path d="M-30.71 -11.61 V15.71 M-28.76 -11.61 V15.71 M-26.81 -11.61 V15.71 M-24.86 -11.61 V15.71 M-22.91 -11.61 V15.71 M-20.96 -11.61 V15.71 M-19.01 -11.61 V15.71 M-17.06 -11.61 V15.71 M-15.11 -11.61 V15.71 M-13.16 -11.61 V15.71 M-11.21 -11.61 V15.71 M-9.26 -11.61 V15.71 M-7.31 -11.61 V15.71 M-5.36 -11.61 V15.71 M-3.41 -11.61 V15.71 M-1.46 -11.61 V15.71 M0.49 -11.61 V15.71 M2.44 -11.61 V15.71 M4.39 -11.61 V15.71 M6.34 -11.61 V15.71 M8.29 -11.61 V15.71 M10.24 -11.61 V15.71 M12.19 -11.61 V15.71 M14.14 -11.61 V15.71 M16.09 -11.61 V15.71 M18.04 -11.61 V15.71 M19.99 -11.61 V15.71 M21.94 -11.61 V15.71 M23.89 -11.61 V15.71 M25.84 -11.61 V15.71 M27.79 -11.61 V15.71 M29.74 -11.61 V15.71 " stroke="#0a7480" stroke-width="0.7" opacity="0.42" fill="none" clip-path="url(#e0cc)"/>
<path d="M-30.07 -11.21 Q-29.57 -14.21 -26.07 -14.51 L26.07 -14.51 Q29.57 -14.21 30.07 -11.21 L32.71 10.21 Q33.31 13.61 29.71 14.81 Q0 20.61 -29.71 14.81 Q-33.31 13.61 -32.71 10.21 Z" fill="url(#e0ch)"/>
<ellipse cx="0" cy="-13.31" rx="28.57" ry="1.9" fill="#6bd7df" opacity="0.9"/>
<path d="M-31.41 11.61 Q0 17.61 31.41 11.61" stroke="#39b6c0" stroke-width="2.0" fill="none" opacity="0.9"/>
</g>
</g>
<rect x="130" y="998.8" width="92.6" height="260.9" fill="url(#e1bg)"/>
<g clip-path="url(#e1p)">
<path d="M203 1055 L215.8 1055.5 L215.8 1109 L215.8 1248 L212 1250 L210.3 1250 L210.3 1109 Z" fill="url(#e1rg)"/>
<path d="M203 1055 L215.8 1055.5 L215.8 1109 L215.8 1248 L212 1250 L210.3 1250 L210.3 1109 Z" fill="none" stroke="#ffffff" stroke-width="1.4" opacity="0.75"/>
<path d="M215.8 1055.5 L215.8 1109 L215.8 1248 L212 1250 L210.3 1250 L210.3 1109" fill="none" stroke="#9fb09c" stroke-width="0.6" opacity="0.6"/>
<path d="M140.9 1053.8 L145 1053.8 L145 1252.4 L140.9 1251.4 L140.9 1086 L140.9 1074 Z" fill="#f8f8f5" opacity="0.9"/>
<path d="M140.9 1053.8 L140.9 1074 L140.9 1086 L140.9 1251.4" fill="none" stroke="#ffffff" stroke-width="1.2" opacity="0.9"/>
<path d="M140.1 1053.8 L140.1 1074 L140.1 1086 L140.1 1251.4" fill="none" stroke="#a8b4a4" stroke-width="0.5" opacity="0.7"/>
<path d="M146.92 1041.94 L200.2 1029.02 L201 1055.3 L148.5 1055.3 Z" fill="url(#e1nk)"/>
<path d="M147.79 1049.29 L200.64 1043.47 L201 1055.3 L148.5 1055.3 Z" fill="#e6e89d" opacity="0.45"/>
<path d="M144 1053.8 L202.6 1054 L205.7 1082 L210.3 1109 L210.3 1252.4 L144 1252.4 L144 1084 L144 1080 Z" fill="url(#e1lq)"/>
<path d="M144 1053.8 L202.6 1054 L205.7 1082 L210.3 1109 L210.3 1252.4 L144 1252.4 L144 1084 L144 1080 Z" fill="url(#e1sh)"/>
<path d="M203.4 1054 L206.5 1082 L211.1 1109 L211.1 1250.4" fill="none" stroke="#ffffff" stroke-width="1.3" opacity="0.7"/>
<path d="M140.9 1053.8 L215.8 1055.5" stroke="#ffffff" stroke-width="1.5" opacity="0.85" fill="none"/>
<path d="M140.9 1055 L208.6 1055.2" stroke="#8c9c86" stroke-width="0.7" opacity="0.8" fill="none"/>
<g transform="translate(167.17 1026.07) rotate(-14.34)">
<path d="M-29.87 -11.04 Q-29.37 -14.04 -25.87 -14.34 L25.87 -14.34 Q29.37 -14.04 29.87 -11.04 L32.49 10.04 Q33.09 13.44 29.49 14.64 Q0 20.44 -29.49 14.64 Q-33.09 13.44 -32.49 10.04 Z" fill="url(#e1cp)"/>
<path d="M-30.49 -11.44 V15.54 M-28.54 -11.44 V15.54 M-26.59 -11.44 V15.54 M-24.64 -11.44 V15.54 M-22.69 -11.44 V15.54 M-20.74 -11.44 V15.54 M-18.79 -11.44 V15.54 M-16.84 -11.44 V15.54 M-14.89 -11.44 V15.54 M-12.94 -11.44 V15.54 M-10.99 -11.44 V15.54 M-9.04 -11.44 V15.54 M-7.09 -11.44 V15.54 M-5.14 -11.44 V15.54 M-3.19 -11.44 V15.54 M-1.24 -11.44 V15.54 M0.71 -11.44 V15.54 M2.66 -11.44 V15.54 M4.61 -11.44 V15.54 M6.56 -11.44 V15.54 M8.51 -11.44 V15.54 M10.46 -11.44 V15.54 M12.41 -11.44 V15.54 M14.36 -11.44 V15.54 M16.31 -11.44 V15.54 M18.26 -11.44 V15.54 M20.21 -11.44 V15.54 M22.16 -11.44 V15.54 M24.11 -11.44 V15.54 M26.06 -11.44 V15.54 M28.01 -11.44 V15.54 M29.96 -11.44 V15.54 " stroke="#0a7480" stroke-width="0.7" opacity="0.42" fill="none" clip-path="url(#e1cc)"/>
<path d="M-29.87 -11.04 Q-29.37 -14.04 -25.87 -14.34 L25.87 -14.34 Q29.37 -14.04 29.87 -11.04 L32.49 10.04 Q33.09 13.44 29.49 14.64 Q0 20.44 -29.49 14.64 Q-33.09 13.44 -32.49 10.04 Z" fill="url(#e1ch)"/>
<ellipse cx="0" cy="-13.14" rx="28.37" ry="1.9" fill="#6bd7df" opacity="0.9"/>
<path d="M-31.19 11.44 Q0 17.44 31.19 11.44" stroke="#39b6c0" stroke-width="2.0" fill="none" opacity="0.9"/>
</g>
</g>
<rect x="222.6" y="998.8" width="91.4" height="260.9" fill="url(#e2bg)"/>
<g clip-path="url(#e2p)">
<path d="M293 1056 L310.3 1056.5 L310.3 1107 L310.3 1248 L304 1251 L301.5 1251 L301.5 1107 Z" fill="url(#e2rg)"/>
<path d="M293 1056 L310.3 1056.5 L310.3 1107 L310.3 1248 L304 1251 L301.5 1251 L301.5 1107 Z" fill="none" stroke="#ffffff" stroke-width="1.4" opacity="0.75"/>
<path d="M310.3 1056.5 L310.3 1107 L310.3 1248 L304 1251 L301.5 1251 L301.5 1107" fill="none" stroke="#9fb09c" stroke-width="0.6" opacity="0.6"/>
<path d="M237 1054.4 L240.2 1054.4 L240.2 1253 L230.4 1252 L230.4 1101 L237 1074 Z" fill="#f9faf3" opacity="0.9"/>
<path d="M237 1054.4 L237 1074 L230.4 1101 L230.4 1252" fill="none" stroke="#ffffff" stroke-width="1.2" opacity="0.9"/>
<path d="M236.2 1054.4 L236.2 1074 L229.6 1101 L229.6 1252" fill="none" stroke="#a8b4a4" stroke-width="0.5" opacity="0.7"/>
<path d="M239.01 1041.83 L293.08 1027.94 L293.5 1055.9 L241 1055.9 Z" fill="url(#e2nk)"/>
<path d="M240.1 1049.57 L293.31 1043.32 L293.5 1055.9 L241 1055.9 Z" fill="#ece88c" opacity="0.45"/>
<path d="M239.2 1054.4 L292.5 1055 L297.7 1082 L301.5 1107 L301.5 1253 L234 1253 L234 1099 L239.2 1080 Z" fill="url(#e2lq)"/>
<path d="M239.2 1054.4 L292.5 1055 L297.7 1082 L301.5 1107 L301.5 1253 L234 1253 L234 1099 L239.2 1080 Z" fill="url(#e2sh)"/>
<path d="M293.3 1055 L298.5 1082 L302.3 1107 L302.3 1251" fill="none" stroke="#ffffff" stroke-width="1.3" opacity="0.7"/>
<path d="M237 1054.4 L310.3 1056.5" stroke="#ffffff" stroke-width="1.5" opacity="0.85" fill="none"/>
<path d="M237 1055.6 L298.5 1055.8" stroke="#8c9c86" stroke-width="0.7" opacity="0.8" fill="none"/>
<g transform="translate(259.3 1024.65) rotate(-14.62)">
<path d="M-30.27 -12.02 Q-29.77 -15.02 -26.27 -15.32 L26.27 -15.32 Q29.77 -15.02 30.27 -12.02 L32.91 11.02 Q33.51 14.42 29.91 15.62 Q0 21.42 -29.91 15.62 Q-33.51 14.42 -32.91 11.02 Z" fill="url(#e2cp)"/>
<path d="M-30.91 -12.42 V16.52 M-28.96 -12.42 V16.52 M-27.01 -12.42 V16.52 M-25.06 -12.42 V16.52 M-23.11 -12.42 V16.52 M-21.16 -12.42 V16.52 M-19.21 -12.42 V16.52 M-17.26 -12.42 V16.52 M-15.31 -12.42 V16.52 M-13.36 -12.42 V16.52 M-11.41 -12.42 V16.52 M-9.46 -12.42 V16.52 M-7.51 -12.42 V16.52 M-5.56 -12.42 V16.52 M-3.61 -12.42 V16.52 M-1.66 -12.42 V16.52 M0.29 -12.42 V16.52 M2.24 -12.42 V16.52 M4.19 -12.42 V16.52 M6.14 -12.42 V16.52 M8.09 -12.42 V16.52 M10.04 -12.42 V16.52 M11.99 -12.42 V16.52 M13.94 -12.42 V16.52 M15.89 -12.42 V16.52 M17.84 -12.42 V16.52 M19.79 -12.42 V16.52 M21.74 -12.42 V16.52 M23.69 -12.42 V16.52 M25.64 -12.42 V16.52 M27.59 -12.42 V16.52 M29.54 -12.42 V16.52 " stroke="#0a7480" stroke-width="0.7" opacity="0.42" fill="none" clip-path="url(#e2cc)"/>
<path d="M-30.27 -12.02 Q-29.77 -15.02 -26.27 -15.32 L26.27 -15.32 Q29.77 -15.02 30.27 -12.02 L32.91 11.02 Q33.51 14.42 29.91 15.62 Q0 21.42 -29.91 15.62 Q-33.51 14.42 -32.91 11.02 Z" fill="url(#e2ch)"/>
<ellipse cx="0" cy="-14.12" rx="28.77" ry="1.9" fill="#6bd7df" opacity="0.9"/>
<path d="M-31.61 12.42 Q0 18.42 31.61 12.42" stroke="#39b6c0" stroke-width="2.0" fill="none" opacity="0.9"/>
</g>
</g>
<rect x="314" y="998.8" width="91.4" height="260.9" fill="url(#e3bg)"/>
<g clip-path="url(#e3p)">
<path d="M383 1056 L402.3 1056.5 L402.3 1107 L402.3 1245 L393 1249 L388.7 1249 L388.7 1107 Z" fill="url(#e3rg)"/>
<path d="M383 1056 L402.3 1056.5 L402.3 1107 L402.3 1245 L393 1249 L388.7 1249 L388.7 1107 Z" fill="none" stroke="#ffffff" stroke-width="1.4" opacity="0.75"/>
<path d="M402.3 1056.5 L402.3 1107 L402.3 1245 L393 1249 L388.7 1249 L388.7 1107" fill="none" stroke="#9fb09c" stroke-width="0.6" opacity="0.6"/>
<path d="M386 1060 L401 1108" stroke="#ffffff" stroke-width="1.6" opacity="0.8" fill="none"/>
<path d="M387 1060 L402 1108" stroke="#a9b8a6" stroke-width="0.6" opacity="0.7" fill="none"/>
<path d="M328 1054.8 L331.1 1054.8 L331.1 1250.3 L320.7 1249.3 L320.7 1101 L328 1079 Z" fill="#f9faf0" opacity="0.9"/>
<path d="M328 1054.8 L328 1079 L320.7 1101 L320.7 1249.3" fill="none" stroke="#ffffff" stroke-width="1.2" opacity="0.9"/>
<path d="M327.2 1054.8 L327.2 1079 L319.9 1101 L319.9 1249.3" fill="none" stroke="#a8b4a4" stroke-width="0.5" opacity="0.7"/>
<path d="M331.91 1042.93 L384.21 1029.04 L385 1056.3 L333 1056.3 Z" fill="url(#e3nk)"/>
<path d="M332.51 1050.28 L384.65 1044.03 L385 1056.3 L333 1056.3 Z" fill="#efe885" opacity="0.45"/>
<path d="M330.1 1054.8 L382.4 1055 L385.5 1082 L388.7 1107 L388.7 1250.3 L323.2 1250.3 L323.2 1099 L330.1 1085 Z" fill="url(#e3lq)"/>
<path d="M330.1 1054.8 L382.4 1055 L385.5 1082 L388.7 1107 L388.7 1250.3 L323.2 1250.3 L323.2 1099 L330.1 1085 Z" fill="url(#e3sh)"/>
<path d="M383.2 1055 L386.3 1082 L389.5 1107 L389.5 1248.3" fill="none" stroke="#ffffff" stroke-width="1.3" opacity="0.7"/>
<path d="M328 1054.8 L402.3 1056.5" stroke="#ffffff" stroke-width="1.5" opacity="0.85" fill="none"/>
<path d="M328 1056 L388.4 1056.2" stroke="#8c9c86" stroke-width="0.7" opacity="0.8" fill="none"/>
<g transform="translate(351.58 1026.35) rotate(-14.46)">
<path d="M-29.55 -11.36 Q-29.05 -14.36 -25.55 -14.66 L25.55 -14.66 Q29.05 -14.36 29.55 -11.36 L32.15 10.36 Q32.75 13.76 29.15 14.96 Q0 20.76 -29.15 14.96 Q-32.75 13.76 -32.15 10.36 Z" fill="url(#e3cp)"/>
<path d="M-30.15 -11.76 V15.86 M-28.2 -11.76 V15.86 M-26.25 -11.76 V15.86 M-24.3 -11.76 V15.86 M-22.35 -11.76 V15.86 M-20.4 -11.76 V15.86 M-18.45 -11.76 V15.86 M-16.5 -11.76 V15.86 M-14.55 -11.76 V15.86 M-12.6 -11.76 V15.86 M-10.65 -11.76 V15.86 M-8.7 -11.76 V15.86 M-6.75 -11.76 V15.86 M-4.8 -11.76 V15.86 M-2.85 -11.76 V15.86 M-0.9 -11.76 V15.86 M1.05 -11.76 V15.86 M3 -11.76 V15.86 M4.95 -11.76 V15.86 M6.9 -11.76 V15.86 M8.85 -11.76 V15.86 M10.8 -11.76 V15.86 M12.75 -11.76 V15.86 M14.7 -11.76 V15.86 M16.65 -11.76 V15.86 M18.6 -11.76 V15.86 M20.55 -11.76 V15.86 M22.5 -11.76 V15.86 M24.45 -11.76 V15.86 M26.4 -11.76 V15.86 M28.35 -11.76 V15.86 M30.3 -11.76 V15.86 " stroke="#0a7480" stroke-width="0.7" opacity="0.42" fill="none" clip-path="url(#e3cc)"/>
<path d="M-29.55 -11.36 Q-29.05 -14.36 -25.55 -14.66 L25.55 -14.66 Q29.05 -14.36 29.55 -11.36 L32.15 10.36 Q32.75 13.76 29.15 14.96 Q0 20.76 -29.15 14.96 Q-32.75 13.76 -32.15 10.36 Z" fill="url(#e3ch)"/>
<ellipse cx="0" cy="-13.46" rx="28.05" ry="1.9" fill="#6bd7df" opacity="0.9"/>
<path d="M-30.85 11.76 Q0 17.76 30.85 11.76" stroke="#39b6c0" stroke-width="2.0" fill="none" opacity="0.9"/>
</g>
</g>
<rect x="405.4" y="998.8" width="92.6" height="260.9" fill="url(#e4bg)"/>
<g clip-path="url(#e4p)">
<path d="M477 1056 L498 1056.5 L498 1107 L498 1246 L487 1250 L482.2 1250 L482.2 1107 Z" fill="url(#e4rg)"/>
<path d="M477 1056 L498 1056.5 L498 1107 L498 1246 L487 1250 L482.2 1250 L482.2 1107 Z" fill="none" stroke="#ffffff" stroke-width="1.4" opacity="0.75"/>
<path d="M498 1056.5 L498 1107 L498 1246 L487 1250 L482.2 1250 L482.2 1107" fill="none" stroke="#9fb09c" stroke-width="0.6" opacity="0.6"/>
<path d="M480 1060 L498 1104" stroke="#ffffff" stroke-width="1.6" opacity="0.8" fill="none"/>
<path d="M481 1060 L499 1104" stroke="#a9b8a6" stroke-width="0.6" opacity="0.7" fill="none"/>
<path d="M419 1054.4 L422.1 1054.4 L422.1 1251.4 L410.6 1250.4 L410.6 1101 L419 1079 Z" fill="#fafaf0" opacity="0.9"/>
<path d="M419 1054.4 L419 1079 L410.6 1101 L410.6 1250.4" fill="none" stroke="#ffffff" stroke-width="1.2" opacity="0.9"/>
<path d="M418.2 1054.4 L418.2 1079 L409.8 1101 L409.8 1250.4" fill="none" stroke="#a8b4a4" stroke-width="0.5" opacity="0.7"/>
<path d="M423.38 1041.83 L480.73 1027.94 L481.5 1055.9 L424 1055.9 Z" fill="url(#e4nk)"/>
<path d="M423.72 1049.57 L481.15 1043.32 L481.5 1055.9 L424 1055.9 Z" fill="#f0e894" opacity="0.45"/>
<path d="M421.1 1054.4 L476.5 1055 L479.5 1082 L482.2 1107 L482.2 1251.4 L413.8 1251.4 L413.8 1099 L421.1 1085 Z" fill="url(#e4lq)"/>
<path d="M421.1 1054.4 L476.5 1055 L479.5 1082 L482.2 1107 L482.2 1251.4 L413.8 1251.4 L413.8 1099 L421.1 1085 Z" fill="url(#e4sh)"/>
<path d="M477.3 1055 L480.3 1082 L483 1107 L483 1249.4" fill="none" stroke="#ffffff" stroke-width="1.3" opacity="0.7"/>
<path d="M419 1054.4 L498 1056.5" stroke="#ffffff" stroke-width="1.5" opacity="0.85" fill="none"/>
<path d="M419 1055.6 L482.5 1055.8" stroke="#8c9c86" stroke-width="0.7" opacity="0.8" fill="none"/>
<g transform="translate(445.02 1024.75) rotate(-13.53)">
<path d="M-31.89 -11.97 Q-31.39 -14.97 -27.89 -15.27 L27.89 -15.27 Q31.39 -14.97 31.89 -11.97 L34.64 10.97 Q35.24 14.37 31.64 15.57 Q0 21.37 -31.64 15.57 Q-35.24 14.37 -34.64 10.97 Z" fill="url(#e4cp)"/>
<path d="M-32.64 -12.37 V16.47 M-30.69 -12.37 V16.47 M-28.74 -12.37 V16.47 M-26.79 -12.37 V16.47 M-24.84 -12.37 V16.47 M-22.89 -12.37 V16.47 M-20.94 -12.37 V16.47 M-18.99 -12.37 V16.47 M-17.04 -12.37 V16.47 M-15.09 -12.37 V16.47 M-13.14 -12.37 V16.47 M-11.19 -12.37 V16.47 M-9.24 -12.37 V16.47 M-7.29 -12.37 V16.47 M-5.34 -12.37 V16.47 M-3.39 -12.37 V16.47 M-1.44 -12.37 V16.47 M0.51 -12.37 V16.47 M2.46 -12.37 V16.47 M4.41 -12.37 V16.47 M6.36 -12.37 V16.47 M8.31 -12.37 V16.47 M10.26 -12.37 V16.47 M12.21 -12.37 V16.47 M14.16 -12.37 V16.47 M16.11 -12.37 V16.47 M18.06 -12.37 V16.47 M20.01 -12.37 V16.47 M21.96 -12.37 V16.47 M23.91 -12.37 V16.47 M25.86 -12.37 V16.47 M27.81 -12.37 V16.47 M29.76 -12.37 V16.47 M31.71 -12.37 V16.47 " stroke="#0a7480" stroke-width="0.7" opacity="0.42" fill="none" clip-path="url(#e4cc)"/>
<path d="M-31.89 -11.97 Q-31.39 -14.97 -27.89 -15.27 L27.89 -15.27 Q31.39 -14.97 31.89 -11.97 L34.64 10.97 Q35.24 14.37 31.64 15.57 Q0 21.37 -31.64 15.57 Q-35.24 14.37 -34.64 10.97 Z" fill="url(#e4ch)"/>
<ellipse cx="0" cy="-14.07" rx="30.39" ry="1.9" fill="#6bd7df" opacity="0.9"/>
<path d="M-33.34 12.37 Q0 18.37 33.34 12.37" stroke="#39b6c0" stroke-width="2.0" fill="none" opacity="0.9"/>
</g>
</g>
<path d="M130 998.8 V1259.7 M222.6 998.8 V1259.7 M314 998.8 V1259.7 M405.4 998.8 V1259.7 " stroke="#f6f6f6" stroke-width="1" opacity="0.9" fill="none"/>
</g></g>
<!-- labels -->
<g fill="#000">
<text x="26.0" y="71.4" font-size="50.3">A</text>
<text x="544.5" y="71.5" font-size="50.3">B</text>
<text x="28.8" y="496.4" font-size="50.3">C</text>
<text x="547.9" y="496.0" font-size="50.3">D</text>
<text x="23.1" y="929.0" font-size="50.3">E</text>
<text x="545.0" y="928.8" font-size="50.3">F</text>
</g>
<g fill="#0a0a0a" font-size="27">
<text x="123.9" y="132.1">Adding carbon by shaking</text>
<text x="196.8" y="521.6">Carbon-free</text>
<text x="67.8" y="943.6">Adding high concentration carbon</text>
<text x="200.0" y="973.0">of NaHCO<tspan font-size="17" dy="3.6">3</tspan></text>
</g>
<g fill="#0a0a0a" font-size="25.2">
<text x="59.4" y="348.6">Day 0</text>
<text x="153.1" y="348.6">Day 1</text>
<text x="247.6" y="348.6">Day 2</text>
<text x="341.7" y="348.6">Day 3</text>
<text x="435.7" y="348.6">Day 4</text>
</g>
<g fill="#0a0a0a" font-size="25.2" word-spacing="-3.4">
<text x="49.1" y="835.4">Day 0</text>
<text x="143.1" y="835.4">Day 1</text>
<text x="237.6" y="835.4">Day 2</text>
<text x="330.7" y="835.4">Day 3</text>
<text x="424.7" y="835.4">Day 4</text>
<text x="52.5" y="1293.3">Day 0</text>
<text x="141.6" y="1293.3">Day 1</text>
<text x="236.2" y="1293.3">Day 2</text>
<text x="325.3" y="1293.3">Day 3</text>
<text x="418.4" y="1293.3">Day 4</text>
</g>
<!-- histograms -->
<g id="plotB"><g><path d="M631 398.2 L847.9 398.2  C848.32 398 849.72 397.8 850.4 397 C851.08 396.2 851.53 395.05 852 393.4 C852.47 391.75 852.82 390.23 853.2 387.1 C853.58 383.97 853.98 380.17 854.3 374.6 C854.62 369.03 854.8 362.42 855.1 353.7 C855.4 344.98 855.78 331.9 856.1 322.3 C856.42 312.7 856.72 304.82 857 296.1 C857.28 287.38 857.4 289.4 857.8 270 C858.2 250.6 858.8 205.03 859.4 179.7 C860 154.37 860.77 130.58 861.4 118 C862.03 105.42 862.66 108.34 863.2 104.2 C863.65 108.34 864.27 105.42 864.7 118 C865.13 130.58 865.4 154.37 865.8 179.7 C866.2 205.03 866.75 250.6 867.1 270 C867.45 289.4 867.63 286.52 867.9 296.1 C868.17 305.68 868.43 317.9 868.7 327.5 C868.97 337.1 869.23 346.73 869.5 353.7 C869.77 360.67 870 365.12 870.3 369.3 C870.6 373.48 870.87 376.62 871.3 378.8 C871.73 380.98 872.12 381.27 872.9 382.4 C873.68 383.53 875.22 384.28 876 385.6 C876.78 386.92 876.98 389 877.6 390.3 C878.22 391.6 879 392.37 879.7 393.4 C880.4 394.43 881.02 395.8 881.8 396.5 C882.58 397.2 883.55 397.32 884.4 397.6 C885.25 397.88 886.48 398.1 886.9 398.2 L940.5 398.2" fill="none" stroke="#0a0ae6" stroke-width="1.9" stroke-linejoin="round" stroke-linecap="butt"/>
<path d="M631 398.2 L792.1 398.2  C792.52 398.08 793.88 398.38 794.6 397.5 C795.32 396.62 795.85 395.82 796.4 392.9 C796.95 389.98 797.42 385.48 797.9 380 C798.38 374.52 798.9 367.15 799.3 360 C799.7 352.85 799.95 345.67 800.3 337.1 C800.65 328.53 801.05 317.78 801.4 308.6 C801.75 299.42 801.82 298.77 802.4 282 C802.98 265.23 804.12 222.57 804.9 208 C805.68 193.43 806.44 198.62 807.1 194.6 C807.46 197.42 807.53 189.77 808.3 204 C809.07 218.23 810.93 264.48 811.7 280 C812.47 295.52 812.47 290.92 812.9 297.1 C813.33 303.28 813.83 310.67 814.3 317.1 C814.77 323.53 815.23 332.12 815.7 335.7 C816.17 339.28 816.62 338.33 817.1 338.6 C817.58 338.87 818.12 337.55 818.6 337.3 C819.08 337.05 819.53 336.42 820 337.1 C820.47 337.78 820.8 338.3 821.4 341.4 C822 344.5 822.88 350.22 823.6 355.7 C824.32 361.18 824.98 368.82 825.7 374.3 C826.42 379.78 827.07 385.27 827.9 388.6 C828.73 391.93 829.4 393 830.7 394.3 C832 395.6 833.92 395.82 835.7 396.4 C837.48 396.98 840.03 397.5 841.4 397.8 C842.77 398.1 843.48 398.13 843.9 398.2 L940.5 398.2" fill="none" stroke="#8a12f5" stroke-width="1.9" stroke-linejoin="round" stroke-linecap="butt"/>
<path d="M631 398.2 L766.5 398.2  C766.92 398.1 767.93 397.9 769 397.6 C770.07 397.3 771.67 397.18 772.9 396.4 C774.13 395.62 775.45 394.68 776.4 392.9 C777.35 391.12 777.88 389.03 778.6 385.7 C779.32 382.37 779.98 378.13 780.7 372.9 C781.42 367.67 782.18 361.45 782.9 354.3 C783.62 347.15 784.3 338.82 785 330 C785.7 321.18 786.5 309.73 787.1 301.4 C787.7 293.07 788 289.07 788.6 280 C789.2 270.93 789.87 254.55 790.7 247 C791.53 239.45 792.73 238.39 793.6 234.7 C794.17 236.59 794.87 233.45 795.5 241 C796.13 248.55 796.77 269.93 797.4 280 C798.03 290.07 798.63 293.55 799.3 301.4 C799.97 309.25 800.68 319.48 801.4 327.1 C802.12 334.72 802.88 341.38 803.6 347.1 C804.32 352.82 804.98 357.35 805.7 361.4 C806.42 365.45 807.18 368.3 807.9 371.4 C808.62 374.5 809.05 377.13 810 380 C810.95 382.87 812.42 386.33 813.6 388.6 C814.78 390.87 815.8 392.3 817.1 393.6 C818.4 394.9 819.97 395.7 821.4 396.4 C822.83 397.1 824.57 397.5 825.7 397.8 C826.83 398.1 827.78 398.13 828.2 398.2 L940.5 398.2" fill="none" stroke="#0a560a" stroke-width="1.9" stroke-linejoin="round" stroke-linecap="butt"/>
<path d="M631 398.2 L737 398.2  C737.42 398.1 738.28 398.02 739.5 397.6 C740.72 397.18 742.78 396.97 744.3 395.7 C745.82 394.43 747.17 392.62 748.6 390 C750.03 387.38 751.6 383.57 752.9 380 C754.2 376.43 755.22 372.42 756.4 368.6 C757.58 364.78 758.92 360.68 760 357.1 C761.08 353.52 762.07 349.6 762.9 347.1 C763.73 344.6 764.17 343.77 765 342.1 C765.83 340.43 766.95 339.23 767.9 337.1 C768.85 334.97 769.87 331 770.7 329.3 C771.53 327.6 772.18 327.22 772.9 326.9 C773.62 326.58 774.42 327.55 775 327.4 C775.58 327.25 775.8 325.68 776.4 326 C777 326.32 777.77 327.68 778.6 329.3 C779.43 330.92 780.45 333.43 781.4 335.7 C782.35 337.97 783.35 340.4 784.3 342.9 C785.25 345.4 786.15 348.2 787.1 350.7 C788.05 353.2 789.03 356.23 790 357.9 C790.97 359.57 791.95 359.52 792.9 360.7 C793.85 361.88 794.75 363.57 795.7 365 C796.65 366.43 797.53 367.75 798.6 369.3 C799.67 370.85 800.92 372.87 802.1 374.3 C803.28 375.73 804.38 376.47 805.7 377.9 C807.02 379.33 808.57 381.23 810 382.9 C811.43 384.57 812.87 386.48 814.3 387.9 C815.73 389.32 816.93 390.22 818.6 391.4 C820.27 392.58 822.4 394.05 824.3 395 C826.2 395.95 828.1 396.6 830 397.1 C831.9 397.6 834.33 397.82 835.7 398 C837.07 398.18 837.78 398.17 838.2 398.2 L940.5 398.2" fill="none" stroke="#f58a0a" stroke-width="1.9" stroke-linejoin="round" stroke-linecap="butt"/>
<path d="M631 398.2 L725 398.2  C725.42 398.1 726.43 398.02 727.5 397.6 C728.57 397.18 730.15 396.73 731.4 395.7 C732.65 394.67 733.8 394.02 735 391.4 C736.2 388.78 737.53 384.28 738.6 380 C739.67 375.72 740.45 371.65 741.4 365.7 C742.35 359.75 743.47 350.73 744.3 344.3 C745.13 337.87 745.68 332.58 746.4 327.1 C747.12 321.62 748 314.97 748.6 311.4 C749.2 307.83 749.48 306.65 750 305.7 C750.52 304.75 751.1 303.8 751.7 305.7 C752.3 307.6 752.93 312.33 753.6 317.1 C754.27 321.87 754.98 329.05 755.7 334.3 C756.42 339.55 757.18 344.43 757.9 348.6 C758.62 352.77 759.17 356.45 760 359.3 C760.83 362.15 761.83 363.8 762.9 365.7 C763.97 367.6 765.22 369.03 766.4 370.7 C767.58 372.37 768.68 374.43 770 375.7 C771.32 376.97 772.63 377.77 774.3 378.3 C775.97 378.83 778.33 378.67 780 378.9 C781.67 379.13 783.07 379.4 784.3 379.7 C785.53 380 786.45 380.77 787.4 380.7 C788.35 380.63 788.85 380.08 790 379.3 C791.15 378.52 792.87 377.12 794.3 376 C795.73 374.88 797.42 373.48 798.6 372.6 C799.78 371.72 800.33 370.53 801.4 370.7 C802.47 370.87 803.92 373.12 805 373.6 C806.08 374.08 807.07 372.88 807.9 373.6 C808.73 374.32 808.93 376.35 810 377.9 C811.07 379.45 812.87 381.37 814.3 382.9 C815.73 384.43 817.17 385.57 818.6 387.1 C820.03 388.63 821.48 390.78 822.9 392.1 C824.32 393.42 825.43 394.2 827.1 395 C828.77 395.8 830.98 396.42 832.9 396.9 C834.82 397.38 837.23 397.68 838.6 397.9 C839.97 398.12 840.68 398.15 841.1 398.2 L940.5 398.2" fill="none" stroke="#e01010" stroke-width="1.9" stroke-linejoin="round" stroke-linecap="butt"/>
</g>
<rect x="630.1" y="88.6" width="311.4" height="311" fill="none" stroke="#000" stroke-width="1.9"/>
<path d="M621.4 399.4 H630 M621.4 338.88 H630 M621.4 278.36 H630 M621.4 217.84 H630 M621.4 157.32 H630 M621.4 96.8 H630 " stroke="#000" stroke-width="2.1" fill="none"/>
<path d="M626.3 387.3 H630 M626.3 375.19 H630 M626.3 363.09 H630 M626.3 350.98 H630 M626.3 326.78 H630 M626.3 314.67 H630 M626.3 302.57 H630 M626.3 290.46 H630 M626.3 266.26 H630 M626.3 254.15 H630 M626.3 242.05 H630 M626.3 229.94 H630 M626.3 205.74 H630 M626.3 193.63 H630 M626.3 181.53 H630 M626.3 169.42 H630 M626.3 145.22 H630 M626.3 133.11 H630 M626.3 121.01 H630 M626.3 108.9 H630 " stroke="#000" stroke-width="1.3" fill="none"/>
<path d="M650.7 399.6 V408.5 M691.55 399.6 V408.5 M732.4 399.6 V408.5 M773.25 399.6 V408.5 M814.1 399.6 V408.5 M854.95 399.6 V408.5 M895.8 399.6 V408.5 M936.65 399.6 V408.5 " stroke="#000" stroke-width="2.3" fill="none"/>
<path d="M638.4 399.6 V405.9 M679.25 399.6 V405.9 M720.1 399.6 V405.9 M760.95 399.6 V405.9 M801.8 399.6 V405.9 M842.65 399.6 V405.9 M883.5 399.6 V405.9 M924.35 399.6 V405.9 " stroke="#000" stroke-width="1.5" fill="none"/>
<path d="M634.44 399.6 V403.6 M641.64 399.6 V403.6 M644.37 399.6 V403.6 M646.74 399.6 V403.6 M648.83 399.6 V403.6 M663 399.6 V403.6 M670.19 399.6 V403.6 M675.29 399.6 V403.6 M682.49 399.6 V403.6 M685.22 399.6 V403.6 M687.59 399.6 V403.6 M689.68 399.6 V403.6 M703.85 399.6 V403.6 M711.04 399.6 V403.6 M716.14 399.6 V403.6 M723.34 399.6 V403.6 M726.07 399.6 V403.6 M728.44 399.6 V403.6 M730.53 399.6 V403.6 M744.7 399.6 V403.6 M751.89 399.6 V403.6 M756.99 399.6 V403.6 M764.19 399.6 V403.6 M766.92 399.6 V403.6 M769.29 399.6 V403.6 M771.38 399.6 V403.6 M785.55 399.6 V403.6 M792.74 399.6 V403.6 M797.84 399.6 V403.6 M805.04 399.6 V403.6 M807.77 399.6 V403.6 M810.14 399.6 V403.6 M812.23 399.6 V403.6 M826.4 399.6 V403.6 M833.59 399.6 V403.6 M838.69 399.6 V403.6 M845.89 399.6 V403.6 M848.62 399.6 V403.6 M850.99 399.6 V403.6 M853.08 399.6 V403.6 M867.25 399.6 V403.6 M874.44 399.6 V403.6 M879.54 399.6 V403.6 M886.74 399.6 V403.6 M889.47 399.6 V403.6 M891.84 399.6 V403.6 M893.93 399.6 V403.6 M908.1 399.6 V403.6 M915.29 399.6 V403.6 M920.39 399.6 V403.6 M927.59 399.6 V403.6 M930.32 399.6 V403.6 M932.69 399.6 V403.6 M934.78 399.6 V403.6 " stroke="#000" stroke-width="1.3" fill="none"/>
<g font-size="18.6" text-anchor="end" fill="#111">
<text x="620.9" y="105.5">2.5K</text>
<text x="620.9" y="164.62">2.0K</text>
<text x="620.9" y="224.04">1.5K</text>
<text x="620.9" y="284.36">1.0K</text>
<text x="619.5" y="344.08">500</text>
<text x="617" y="398">0</text>
</g>
<g fill="#111">
<text x="640.5" y="425.6" font-size="18.6">10<tspan dy="-9.7" dx="0.6" font-size="10.8">1</tspan></text>
<text x="722.9" y="425.6" font-size="18.6">10<tspan dy="-9.7" dx="0.6" font-size="10.8">3</tspan></text>
<text x="805.3" y="425.6" font-size="18.6">10<tspan dy="-9.7" dx="0.6" font-size="10.8">5</tspan></text>
<text x="887.7" y="425.6" font-size="18.6">10<tspan dy="-9.7" dx="0.6" font-size="10.8">7</tspan></text>
</g>
<text x="726.3" y="446.6" font-size="21" fill="#111">FL4-A::APC</text>
<text transform="translate(576.2 259.2) rotate(-90)" text-anchor="middle" font-size="20.6" fill="#111">Count</text>
<rect x="630.1" y="88.6" width="126.4" height="134.3" fill="#fff"/>
<path d="M630.1 110.9 H757.1 M630.1 133.3 H757.1 M630.1 155.7 H757.1 M630.1 178.1 H757.1 M630.1 200.5 H757.1 M630.1 222.9 H757.1 M651 88.6 V222.9 M756.5 88.6 V222.9" stroke="#1c1c1c" stroke-width="1.25" fill="none"/>
<text x="653.4" y="103.8" font-size="15.6" fill="#111">Sample Name</text>
<rect x="635.4" y="115.6" width="10.4" height="13" fill="none" stroke="#0a0ae6" stroke-width="1.4"/>
<text x="653.1" y="128.1" font-size="18.4" fill="#111">Day 0</text>
<rect x="635.4" y="138" width="10.4" height="13" fill="none" stroke="#8a12f5" stroke-width="1.4"/>
<text x="653.1" y="150.5" font-size="18.4" fill="#111">Day 1</text>
<rect x="635.4" y="160.4" width="10.4" height="13" fill="none" stroke="#0a560a" stroke-width="1.4"/>
<text x="653.1" y="172.9" font-size="18.4" fill="#111">Day 2</text>
<rect x="635.4" y="182.8" width="10.4" height="13" fill="none" stroke="#f58a0a" stroke-width="1.4"/>
<text x="653.1" y="195.3" font-size="18.4" fill="#111">Day 3</text>
<rect x="635.4" y="205.2" width="10.4" height="13" fill="none" stroke="#e01010" stroke-width="1.4"/>
<text x="653.1" y="217.7" font-size="18.4" fill="#111">Day 4</text>
<path d="M630.1 399.6 V88.6 H941.5" fill="none" stroke="#000" stroke-width="1.9"/></g>
<g id="plotD"><g><path d="M631 819.6 L827 819.6  C827.42 819.42 828.23 819.27 829.5 818.5 C830.77 817.73 833.12 817.5 834.6 815 C836.08 812.5 837.33 808.17 838.4 803.5 C839.47 798.83 840.15 793.98 841 787 C841.85 780.02 842.77 770.07 843.5 761.6 C844.23 753.13 844.77 746.8 845.4 736.2 C846.03 725.6 846.8 708.7 847.3 698 C847.8 687.3 848.03 678.83 848.4 672 C848.77 665.17 849.15 657 849.5 657 C849.85 657 850.13 663.03 850.5 672 C850.87 680.97 851.32 700.1 851.7 710.8 C852.08 721.5 852.42 727.73 852.8 736.2 C853.18 744.67 853.43 754.2 854 761.6 C854.57 769 855.3 775.32 856.2 780.6 C857.1 785.88 858.35 789.48 859.4 793.3 C860.45 797.12 861.45 800.53 862.5 803.5 C863.55 806.47 864.42 808.77 865.7 811.1 C866.98 813.43 869.03 816.08 870.2 817.5 C871.37 818.92 872.28 819.25 872.7 819.6 L940.5 819.6" fill="none" stroke="#e01010" stroke-width="1.9" stroke-linejoin="round" stroke-linecap="butt"/>
<path d="M631 819.6 L827.9 819.6  C828.32 819.47 829.13 819.32 830.4 818.8 C831.67 818.28 834.02 818.8 835.5 816.5 C836.98 814.2 838.23 809.67 839.3 805 C840.37 800.33 841.05 795.48 841.9 788.5 C842.75 781.52 843.67 771.57 844.4 763.1 C845.13 754.63 845.67 748.3 846.3 737.7 C846.93 727.1 847.7 710.2 848.2 699.5 C848.7 688.8 848.93 680.33 849.3 673.5 C849.67 666.67 850.05 658.5 850.4 658.5 C850.75 658.5 851.03 664.53 851.4 673.5 C851.77 682.47 852.22 701.6 852.6 712.3 C852.98 723 853.32 729.23 853.7 737.7 C854.08 746.17 854.33 755.7 854.9 763.1 C855.47 770.5 856.2 776.82 857.1 782.1 C858 787.38 859.25 790.98 860.3 794.8 C861.35 798.62 862.35 802.03 863.4 805 C864.45 807.97 865.32 810.3 866.6 812.6 C867.88 814.9 869.93 817.63 871.1 818.8 C872.27 819.97 873.18 819.47 873.6 819.6 L940.5 819.6" fill="none" stroke="#f58a0a" stroke-width="1.9" stroke-linejoin="round" stroke-linecap="butt"/>
<path d="M631 819.6 L830.2 819.6  C830.62 819.45 831.55 819.37 832.7 818.7 C833.85 818.03 835.83 817.72 837.1 815.6 C838.37 813.48 839.33 810.77 840.3 806 C841.27 801.23 842.15 794.4 842.9 787 C843.65 779.6 844.17 772.18 844.8 761.6 C845.43 751.02 846.13 736.2 846.7 723.5 C847.27 710.8 847.87 695.65 848.2 685.4 C848.53 675.15 848.58 667.87 848.7 662 C848.82 656.13 848.68 652.17 848.9 650.2 C849.12 648.23 849.72 646.57 850 650.2 C850.28 653.83 850.27 663.7 850.6 672 C850.93 680.3 851.55 692.33 852 700 C852.45 707.67 852.88 709.85 853.3 718 C853.72 726.15 854.02 739.52 854.5 748.9 C854.98 758.28 855.5 767.95 856.2 774.3 C856.9 780.65 857.75 783.2 858.7 787 C859.65 790.8 860.83 793.93 861.9 797.1 C862.97 800.27 863.93 803.13 865.1 806 C866.27 808.87 867.63 812.22 868.9 814.3 C870.17 816.38 871.65 817.62 872.7 818.5 C873.75 819.38 874.78 819.42 875.2 819.6 L940.5 819.6" fill="none" stroke="#0a560a" stroke-width="1.9" stroke-linejoin="round" stroke-linecap="butt"/>
<path d="M631 819.6 L839.7 819.6  C840.12 819.35 841.47 819.3 842.2 818.1 C842.93 816.9 843.57 815.47 844.1 812.4 C844.63 809.33 844.87 808.17 845.4 799.7 C845.93 791.23 846.62 776.42 847.3 761.6 C847.98 746.78 848.88 727.73 849.5 710.8 C850.12 693.87 850.55 672.63 851 660 C851.45 647.37 851.87 641.33 852.2 635 C852.53 628.67 852.73 622 853 622 C853.27 622 853.55 628.67 853.8 635 C854.05 641.33 854 647.37 854.5 660 C855 672.63 856.1 695.98 856.8 710.8 C857.5 725.62 858.07 738.32 858.7 748.9 C859.33 759.48 859.85 767.53 860.6 774.3 C861.35 781.07 862.25 785.27 863.2 789.5 C864.15 793.73 865.25 796.52 866.3 799.7 C867.35 802.88 868.43 805.95 869.5 808.6 C870.57 811.25 871.63 813.92 872.7 815.6 C873.77 817.28 874.95 818.03 875.9 818.7 C876.85 819.37 877.98 819.45 878.4 819.6 L940.5 819.6" fill="none" stroke="#8a12f5" stroke-width="1.9" stroke-linejoin="round" stroke-linecap="butt"/>
<path d="M631 819.6 L842.3 819.6  C842.72 819.45 843.97 819.68 844.8 818.7 C845.63 817.72 846.6 816.87 847.3 813.7 C848 810.53 848.52 808.38 849 799.7 C849.48 791.02 849.85 776.42 850.2 761.6 C850.55 746.78 850.85 727.73 851.1 710.8 C851.35 693.87 851.5 675.53 851.7 660 C851.9 644.47 852 630.65 852.3 617.6 C852.6 604.55 853.1 593.05 853.5 581.7 C853.9 570.35 854.23 558.62 854.7 549.5 C855.17 540.38 855.93 530.9 856.3 527 C856.67 523.1 856.58 526.25 856.9 526.1 C857.22 525.95 857.88 525.87 858.2 526.1 C858.52 526.33 858.57 524.2 858.8 527.5 C859.03 530.8 859.28 536.87 859.6 545.9 C859.92 554.93 860.38 569.75 860.7 581.7 C861.02 593.65 861.3 604.55 861.5 617.6 C861.7 630.65 861.73 644.47 861.9 660 C862.07 675.53 862.25 693.87 862.5 710.8 C862.75 727.73 863.08 748.9 863.4 761.6 C863.72 774.3 864.05 780.02 864.4 787 C864.75 793.98 865.07 799.05 865.5 803.5 C865.93 807.95 866.33 811.27 867 813.7 C867.67 816.13 868.67 817.12 869.5 818.1 C870.33 819.08 871.58 819.35 872 819.6 L940.5 819.6" fill="none" stroke="#0a0ae6" stroke-width="1.9" stroke-linejoin="round" stroke-linecap="butt"/>
</g>
<rect x="630.1" y="510.1" width="311.4" height="310.5" fill="none" stroke="#000" stroke-width="1.9"/>
<path d="M621.4 820.4 H630 M621.4 760.52 H630 M621.4 700.64 H630 M621.4 640.76 H630 M621.4 580.88 H630 M621.4 521 H630 " stroke="#000" stroke-width="2.1" fill="none"/>
<path d="M626.3 808.42 H630 M626.3 796.45 H630 M626.3 784.47 H630 M626.3 772.5 H630 M626.3 748.54 H630 M626.3 736.57 H630 M626.3 724.59 H630 M626.3 712.62 H630 M626.3 688.66 H630 M626.3 676.69 H630 M626.3 664.71 H630 M626.3 652.74 H630 M626.3 628.78 H630 M626.3 616.81 H630 M626.3 604.83 H630 M626.3 592.86 H630 M626.3 568.9 H630 M626.3 556.93 H630 M626.3 544.95 H630 M626.3 532.98 H630 " stroke="#000" stroke-width="1.3" fill="none"/>
<path d="M631.4 820.6 V829.5 M675 820.6 V829.5 M718.6 820.6 V829.5 M762.2 820.6 V829.5 M805.8 820.6 V829.5 M849.4 820.6 V829.5 M893 820.6 V829.5 M936.6 820.6 V829.5 " stroke="#000" stroke-width="2.3" fill="none"/>
<path d="M661.88 820.6 V826.9 M705.48 820.6 V826.9 M749.08 820.6 V826.9 M792.68 820.6 V826.9 M836.28 820.6 V826.9 M879.88 820.6 V826.9 M923.48 820.6 V826.9 " stroke="#000" stroke-width="1.5" fill="none"/>
<path d="M644.52 820.6 V824.6 M652.2 820.6 V824.6 M657.65 820.6 V824.6 M665.33 820.6 V824.6 M668.25 820.6 V824.6 M670.77 820.6 V824.6 M673 820.6 V824.6 M688.12 820.6 V824.6 M695.8 820.6 V824.6 M701.25 820.6 V824.6 M708.93 820.6 V824.6 M711.85 820.6 V824.6 M714.37 820.6 V824.6 M716.6 820.6 V824.6 M731.72 820.6 V824.6 M739.4 820.6 V824.6 M744.85 820.6 V824.6 M752.53 820.6 V824.6 M755.45 820.6 V824.6 M757.97 820.6 V824.6 M760.2 820.6 V824.6 M775.32 820.6 V824.6 M783 820.6 V824.6 M788.45 820.6 V824.6 M796.13 820.6 V824.6 M799.05 820.6 V824.6 M801.57 820.6 V824.6 M803.8 820.6 V824.6 M818.92 820.6 V824.6 M826.6 820.6 V824.6 M832.05 820.6 V824.6 M839.73 820.6 V824.6 M842.65 820.6 V824.6 M845.17 820.6 V824.6 M847.4 820.6 V824.6 M862.52 820.6 V824.6 M870.2 820.6 V824.6 M875.65 820.6 V824.6 M883.33 820.6 V824.6 M886.25 820.6 V824.6 M888.77 820.6 V824.6 M891 820.6 V824.6 M906.12 820.6 V824.6 M913.8 820.6 V824.6 M919.25 820.6 V824.6 M926.93 820.6 V824.6 M929.85 820.6 V824.6 M932.37 820.6 V824.6 M934.6 820.6 V824.6 " stroke="#000" stroke-width="1.3" fill="none"/>
<g font-size="18.6" text-anchor="end" fill="#111">
<text x="620.9" y="527">2.5K</text>
<text x="620.9" y="587.48">2.0K</text>
<text x="620.9" y="647.36">1.5K</text>
<text x="620.9" y="707.24">1.0K</text>
<text x="619.5" y="767.12">500</text>
<text x="617" y="818.8">0</text>
</g>
<g fill="#111">
<text x="640.5" y="846.6" font-size="18.6">10<tspan dy="-9.7" dx="0.6" font-size="10.8">1</tspan></text>
<text x="722.9" y="846.6" font-size="18.6">10<tspan dy="-9.7" dx="0.6" font-size="10.8">3</tspan></text>
<text x="805.3" y="846.6" font-size="18.6">10<tspan dy="-9.7" dx="0.6" font-size="10.8">5</tspan></text>
<text x="887.7" y="846.6" font-size="18.6">10<tspan dy="-9.7" dx="0.6" font-size="10.8">7</tspan></text>
</g>
<text x="726.3" y="867.6" font-size="21" fill="#111">FL4-A::APC</text>
<text transform="translate(576.2 680.45) rotate(-90)" text-anchor="middle" font-size="20.6" fill="#111">Count</text>
<rect x="630.1" y="510.1" width="126.4" height="134.3" fill="#fff"/>
<path d="M630.1 532.4 H757.1 M630.1 554.8 H757.1 M630.1 577.2 H757.1 M630.1 599.6 H757.1 M630.1 622 H757.1 M630.1 644.4 H757.1 M651 510.1 V644.4 M756.5 510.1 V644.4" stroke="#1c1c1c" stroke-width="1.25" fill="none"/>
<text x="653.4" y="525.3" font-size="15.6" fill="#111">Sample Name</text>
<rect x="635.4" y="537.1" width="10.4" height="13" fill="none" stroke="#0a0ae6" stroke-width="1.4"/>
<text x="653.1" y="549.6" font-size="18.4" fill="#111">Day 0</text>
<rect x="635.4" y="559.5" width="10.4" height="13" fill="none" stroke="#8a12f5" stroke-width="1.4"/>
<text x="653.1" y="572" font-size="18.4" fill="#111">Day 1</text>
<rect x="635.4" y="581.9" width="10.4" height="13" fill="none" stroke="#0a560a" stroke-width="1.4"/>
<text x="653.1" y="594.4" font-size="18.4" fill="#111">Day 2</text>
<rect x="635.4" y="604.3" width="10.4" height="13" fill="none" stroke="#f58a0a" stroke-width="1.4"/>
<text x="653.1" y="616.8" font-size="18.4" fill="#111">Day 3</text>
<rect x="635.4" y="626.7" width="10.4" height="13" fill="none" stroke="#e01010" stroke-width="1.4"/>
<text x="653.1" y="639.2" font-size="18.4" fill="#111">Day 4</text>
<path d="M630.1 820.6 V510.1 H941.5" fill="none" stroke="#000" stroke-width="1.9"/></g>
<g id="plotF"><g><path d="M631 1246.5 L701.2 1246.5  C701.62 1246.38 702.07 1246.32 703.7 1245.8 C705.33 1245.28 708.55 1244.17 711 1243.4 C713.45 1242.63 716.25 1241.62 718.4 1241.2 C720.55 1240.78 722.22 1241.82 723.9 1240.9 C725.58 1239.98 726.97 1238.7 728.5 1235.7 C730.03 1232.7 731.73 1227.48 733.1 1222.9 C734.47 1218.32 735.63 1213.1 736.7 1208.2 C737.77 1203.3 738.57 1198.1 739.5 1193.5 C740.43 1188.9 741.38 1184.28 742.3 1180.6 C743.22 1176.92 744.08 1174 745 1171.4 C745.92 1168.8 746.73 1166.58 747.8 1165 C748.87 1163.42 750.48 1162.3 751.4 1161.9 C752.32 1161.5 752.53 1163 753.3 1162.6 C754.07 1162.2 755.08 1159.1 756 1159.5 C756.92 1159.9 757.72 1163.78 758.8 1165 C759.88 1166.22 761.43 1165.42 762.5 1166.8 C763.57 1168.18 764.13 1170.85 765.2 1173.3 C766.27 1175.75 767.67 1178.75 768.9 1181.5 C770.13 1184.25 771.38 1186.88 772.6 1189.8 C773.82 1192.72 774.98 1195.63 776.2 1199 C777.42 1202.37 778.67 1206.78 779.9 1210 C781.13 1213.22 782.37 1215.85 783.6 1218.3 C784.83 1220.75 785.93 1222.72 787.3 1224.7 C788.67 1226.68 790.12 1228.82 791.8 1230.2 C793.48 1231.58 795.55 1232.13 797.4 1233 C799.25 1233.87 800.77 1234.48 802.9 1235.4 C805.03 1236.32 807.45 1237.37 810.2 1238.5 C812.95 1239.63 816.33 1241.38 819.4 1242.2 C822.47 1243.02 825.23 1243.02 828.6 1243.4 C831.97 1243.78 835.62 1244.4 839.6 1244.5 C843.58 1244.6 848.83 1243.78 852.5 1244 C856.17 1244.22 859.67 1245.38 861.6 1245.8 C863.53 1246.22 863.68 1246.38 864.1 1246.5 L940.5 1246.5" fill="none" stroke="#e01010" stroke-width="1.9" stroke-linejoin="round" stroke-linecap="butt"/>
<path d="M631 1246.5 L719.5 1246.5  C719.92 1246.33 720.97 1246.03 722 1245.5 C723.03 1244.97 723.87 1243.4 725.7 1243.3 C727.53 1243.2 730.7 1244.95 733 1244.9 C735.3 1244.85 737.5 1244.22 739.5 1243 C741.5 1241.78 743.32 1240.03 745 1237.6 C746.68 1235.17 748.07 1232.38 749.6 1228.4 C751.13 1224.42 752.82 1218.92 754.2 1213.7 C755.58 1208.48 756.68 1202.92 757.9 1197.1 C759.12 1191.28 760.28 1184.92 761.5 1178.8 C762.72 1172.68 763.97 1166.53 765.2 1160.4 C766.43 1154.27 767.83 1146.9 768.9 1142 C769.97 1137.1 770.87 1133.38 771.6 1131 C772.33 1128.62 772.68 1128 773.3 1127.7 C773.92 1127.4 774.67 1127.73 775.3 1129.2 C775.93 1130.67 776.43 1134.97 777.1 1136.5 C777.77 1138.03 778.53 1135.95 779.3 1138.4 C780.07 1140.85 780.83 1146.3 781.7 1151.2 C782.57 1156.1 783.58 1162.28 784.5 1167.8 C785.42 1173.32 786.28 1179.42 787.2 1184.3 C788.12 1189.18 788.92 1192.52 790 1197.1 C791.08 1201.68 792.47 1207.5 793.7 1211.8 C794.93 1216.1 796.03 1219.53 797.4 1222.9 C798.77 1226.27 800.07 1229.55 801.9 1232 C803.73 1234.45 806.1 1236.07 808.4 1237.6 C810.7 1239.13 812.95 1240.23 815.7 1241.2 C818.45 1242.17 820.92 1242.78 824.9 1243.4 C828.88 1244.02 834.42 1244.7 839.6 1244.9 C844.78 1245.1 852.1 1244.45 856 1244.6 C859.9 1244.75 861.42 1245.48 863 1245.8 C864.58 1246.12 865.08 1246.38 865.5 1246.5 L940.5 1246.5" fill="none" stroke="#f58a0a" stroke-width="1.9" stroke-linejoin="round" stroke-linecap="butt"/>
<path d="M631 1246.5 L743.5 1246.5  C743.92 1246.33 744.58 1245.78 746 1245.5 C747.42 1245.22 750.17 1244.82 752 1244.8 C753.83 1244.78 755.25 1245.38 757 1245.4 C758.75 1245.42 760.83 1245.43 762.5 1244.9 C764.17 1244.37 765.63 1244.03 767 1242.2 C768.37 1240.37 769.62 1237.43 770.7 1233.9 C771.78 1230.37 772.58 1226.52 773.5 1221 C774.42 1215.48 775.28 1208.45 776.2 1200.8 C777.12 1193.15 778.08 1183.97 779 1175.1 C779.92 1166.23 780.78 1156.78 781.7 1147.6 C782.62 1138.42 783.6 1128.88 784.5 1120 C785.4 1111.12 786.32 1101.63 787.1 1094.3 C787.88 1086.97 788.75 1079.28 789.2 1076 C789.65 1072.72 789.43 1074.83 789.8 1074.6 C790.17 1074.37 791.03 1074.28 791.4 1074.6 C791.77 1074.92 791.63 1073.22 792 1076.5 C792.37 1079.78 793.02 1087.38 793.6 1094.3 C794.18 1101.22 794.87 1110.65 795.5 1118 C796.13 1125.35 796.63 1130.42 797.4 1138.4 C798.17 1146.38 799.18 1157.33 800.1 1165.9 C801.02 1174.47 801.98 1182.75 802.9 1189.8 C803.82 1196.85 804.68 1203 805.6 1208.2 C806.52 1213.4 807.33 1217.03 808.4 1221 C809.47 1224.97 810.63 1228.93 812 1232 C813.37 1235.07 814.75 1237.55 816.6 1239.4 C818.45 1241.25 820.48 1242.18 823.1 1243.1 C825.72 1244.02 827.48 1244.68 832.3 1244.9 C837.12 1245.12 847.38 1244.25 852 1244.4 C856.62 1244.55 858.25 1245.45 860 1245.8 C861.75 1246.15 862.08 1246.38 862.5 1246.5 L940.5 1246.5" fill="none" stroke="#0a560a" stroke-width="1.9" stroke-linejoin="round" stroke-linecap="butt"/>
<path d="M631 1246.5 L789.3 1246.5  C789.72 1246.38 790.62 1246.68 791.8 1245.8 C792.98 1244.92 795.17 1243.8 796.4 1241.2 C797.63 1238.6 798.43 1235.1 799.2 1230.2 C799.97 1225.3 800.38 1219.45 801 1211.8 C801.62 1204.15 802.28 1195 802.9 1184.3 C803.52 1173.6 804.22 1157.98 804.7 1147.6 C805.18 1137.22 805.47 1129.93 805.8 1122 C806.13 1114.07 806.35 1108.9 806.7 1100 C807.05 1091.1 807.47 1079.55 807.9 1068.6 C808.33 1057.65 808.9 1042.05 809.3 1034.3 C809.7 1026.55 810 1025.76 810.3 1022.1 C810.66 1025.76 810.95 1028.93 811.5 1034.3 C812.05 1039.67 812.9 1043.83 813.6 1054.3 C814.3 1064.77 815.23 1086.15 815.7 1097.1 C816.17 1108.05 816.08 1111.58 816.4 1120 C816.72 1128.42 817.1 1138.42 817.6 1147.6 C818.1 1156.78 818.65 1165.92 819.4 1175.1 C820.15 1184.28 821.18 1195.35 822.1 1202.7 C823.02 1210.05 823.82 1214.62 824.9 1219.2 C825.98 1223.78 827.22 1227.3 828.6 1230.2 C829.98 1233.1 831.37 1234.92 833.2 1236.6 C835.03 1238.28 837.32 1239.53 839.6 1240.3 C841.88 1241.07 844.6 1241.2 846.9 1241.2 C849.2 1241.2 851.25 1239.98 853.4 1240.3 C855.55 1240.62 857.5 1242.18 859.8 1243.1 C862.1 1244.02 865.55 1245.23 867.2 1245.8 C868.85 1246.37 869.28 1246.38 869.7 1246.5 L940.5 1246.5" fill="none" stroke="#8a12f5" stroke-width="1.9" stroke-linejoin="round" stroke-linecap="butt"/>
<path d="M631 1246.5 L842.6 1246.5  C843.02 1246.38 844.28 1247.28 845.1 1245.8 C845.92 1244.32 846.88 1243.27 847.5 1237.6 C848.12 1231.93 848.4 1222.22 848.8 1211.8 C849.2 1201.38 849.58 1188.07 849.9 1175.1 C850.22 1162.13 850.45 1149.37 850.7 1134 C850.95 1118.63 851.03 1100.95 851.4 1082.9 C851.77 1064.85 852.42 1043.57 852.9 1025.7 C853.38 1007.83 853.75 987.82 854.3 975.7 C854.85 963.58 855.78 957 856.2 953 C856.62 949 856.45 951.92 856.8 951.7 C857.15 951.48 857.95 951.48 858.3 951.7 C858.65 951.92 858.62 949 858.9 953 C859.18 957 859.63 963.58 860 975.7 C860.37 987.82 860.75 1007.83 861.1 1025.7 C861.45 1043.57 861.82 1065.52 862.1 1082.9 C862.38 1100.28 862.62 1117.7 862.8 1130 C862.98 1142.3 863 1144.58 863.2 1156.7 C863.4 1168.82 863.65 1190.45 864 1202.7 C864.35 1214.95 864.77 1223.78 865.3 1230.2 C865.83 1236.62 866.28 1238.6 867.2 1241.2 C868.12 1243.8 869.78 1244.92 870.8 1245.8 C871.82 1246.68 872.88 1246.38 873.3 1246.5 L940.5 1246.5" fill="none" stroke="#0a0ae6" stroke-width="1.9" stroke-linejoin="round" stroke-linecap="butt"/>
</g>
<rect x="630.1" y="936.8" width="311.4" height="310.7" fill="none" stroke="#000" stroke-width="1.9"/>
<path d="M621.4 1247.3 H630 M621.4 1187.2 H630 M621.4 1127.1 H630 M621.4 1067 H630 M621.4 1006.9 H630 M621.4 946.8 H630 " stroke="#000" stroke-width="2.1" fill="none"/>
<path d="M626.3 1235.28 H630 M626.3 1223.26 H630 M626.3 1211.24 H630 M626.3 1199.22 H630 M626.3 1175.18 H630 M626.3 1163.16 H630 M626.3 1151.14 H630 M626.3 1139.12 H630 M626.3 1115.08 H630 M626.3 1103.06 H630 M626.3 1091.04 H630 M626.3 1079.02 H630 M626.3 1054.98 H630 M626.3 1042.96 H630 M626.3 1030.94 H630 M626.3 1018.92 H630 M626.3 994.88 H630 M626.3 982.86 H630 M626.3 970.84 H630 M626.3 958.82 H630 " stroke="#000" stroke-width="1.3" fill="none"/>
<path d="M631.4 1247.5 V1256.4 M675 1247.5 V1256.4 M718.6 1247.5 V1256.4 M762.2 1247.5 V1256.4 M805.8 1247.5 V1256.4 M849.4 1247.5 V1256.4 M893 1247.5 V1256.4 M936.6 1247.5 V1256.4 " stroke="#000" stroke-width="2.3" fill="none"/>
<path d="M661.88 1247.5 V1253.8 M705.48 1247.5 V1253.8 M749.08 1247.5 V1253.8 M792.68 1247.5 V1253.8 M836.28 1247.5 V1253.8 M879.88 1247.5 V1253.8 M923.48 1247.5 V1253.8 " stroke="#000" stroke-width="1.5" fill="none"/>
<path d="M644.52 1247.5 V1251.5 M652.2 1247.5 V1251.5 M657.65 1247.5 V1251.5 M665.33 1247.5 V1251.5 M668.25 1247.5 V1251.5 M670.77 1247.5 V1251.5 M673 1247.5 V1251.5 M688.12 1247.5 V1251.5 M695.8 1247.5 V1251.5 M701.25 1247.5 V1251.5 M708.93 1247.5 V1251.5 M711.85 1247.5 V1251.5 M714.37 1247.5 V1251.5 M716.6 1247.5 V1251.5 M731.72 1247.5 V1251.5 M739.4 1247.5 V1251.5 M744.85 1247.5 V1251.5 M752.53 1247.5 V1251.5 M755.45 1247.5 V1251.5 M757.97 1247.5 V1251.5 M760.2 1247.5 V1251.5 M775.32 1247.5 V1251.5 M783 1247.5 V1251.5 M788.45 1247.5 V1251.5 M796.13 1247.5 V1251.5 M799.05 1247.5 V1251.5 M801.57 1247.5 V1251.5 M803.8 1247.5 V1251.5 M818.92 1247.5 V1251.5 M826.6 1247.5 V1251.5 M832.05 1247.5 V1251.5 M839.73 1247.5 V1251.5 M842.65 1247.5 V1251.5 M845.17 1247.5 V1251.5 M847.4 1247.5 V1251.5 M862.52 1247.5 V1251.5 M870.2 1247.5 V1251.5 M875.65 1247.5 V1251.5 M883.33 1247.5 V1251.5 M886.25 1247.5 V1251.5 M888.77 1247.5 V1251.5 M891 1247.5 V1251.5 M906.12 1247.5 V1251.5 M913.8 1247.5 V1251.5 M919.25 1247.5 V1251.5 M926.93 1247.5 V1251.5 M929.85 1247.5 V1251.5 M932.37 1247.5 V1251.5 M934.6 1247.5 V1251.5 " stroke="#000" stroke-width="1.3" fill="none"/>
<g font-size="18.6" text-anchor="end" fill="#111">
<text x="620.9" y="953.3">2.5K</text>
<text x="620.9" y="1013.5">2.0K</text>
<text x="620.9" y="1073.6">1.5K</text>
<text x="620.9" y="1133.7">1.0K</text>
<text x="619.5" y="1193.8">500</text>
<text x="617" y="1245.7">0</text>
</g>
<g fill="#111">
<text x="640.5" y="1273.5" font-size="18.6">10<tspan dy="-9.7" dx="0.6" font-size="10.8">1</tspan></text>
<text x="722.9" y="1273.5" font-size="18.6">10<tspan dy="-9.7" dx="0.6" font-size="10.8">3</tspan></text>
<text x="805.3" y="1273.5" font-size="18.6">10<tspan dy="-9.7" dx="0.6" font-size="10.8">5</tspan></text>
<text x="887.7" y="1273.5" font-size="18.6">10<tspan dy="-9.7" dx="0.6" font-size="10.8">7</tspan></text>
</g>
<text x="726.3" y="1294.5" font-size="21" fill="#111">FL4-A::APC</text>
<text transform="translate(576.2 1107.25) rotate(-90)" text-anchor="middle" font-size="20.6" fill="#111">Count</text>
<rect x="630.1" y="936.8" width="126.4" height="134.3" fill="#fff"/>
<path d="M630.1 959.1 H757.1 M630.1 981.5 H757.1 M630.1 1003.9 H757.1 M630.1 1026.3 H757.1 M630.1 1048.7 H757.1 M630.1 1071.1 H757.1 M651 936.8 V1071.1 M756.5 936.8 V1071.1" stroke="#1c1c1c" stroke-width="1.25" fill="none"/>
<text x="653.4" y="952" font-size="15.6" fill="#111">Sample Name</text>
<rect x="635.4" y="963.8" width="10.4" height="13" fill="none" stroke="#0a0ae6" stroke-width="1.4"/>
<text x="653.1" y="976.3" font-size="18.4" fill="#111">Day 0</text>
<rect x="635.4" y="986.2" width="10.4" height="13" fill="none" stroke="#8a12f5" stroke-width="1.4"/>
<text x="653.1" y="998.7" font-size="18.4" fill="#111">Day 1</text>
<rect x="635.4" y="1008.6" width="10.4" height="13" fill="none" stroke="#0a560a" stroke-width="1.4"/>
<text x="653.1" y="1021.1" font-size="18.4" fill="#111">Day 2</text>
<rect x="635.4" y="1031" width="10.4" height="13" fill="none" stroke="#f58a0a" stroke-width="1.4"/>
<text x="653.1" y="1043.5" font-size="18.4" fill="#111">Day 3</text>
<rect x="635.4" y="1053.4" width="10.4" height="13" fill="none" stroke="#e01010" stroke-width="1.4"/>
<text x="653.1" y="1065.9" font-size="18.4" fill="#111">Day 4</text>
<path d="M630.1 1247.5 V936.8 H941.5" fill="none" stroke="#000" stroke-width="1.9"/></g>
</g>
</svg>
</body>
</html>
